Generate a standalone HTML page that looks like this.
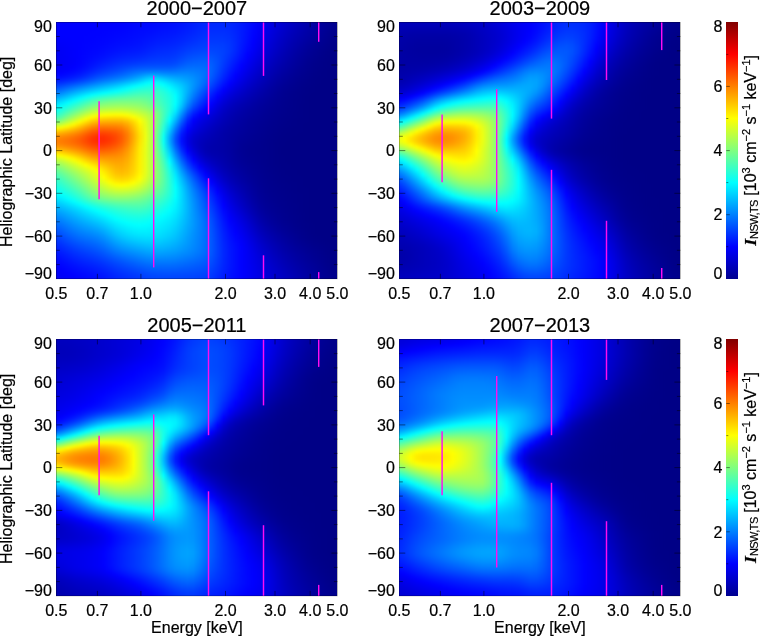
<!DOCTYPE html>
<html><head><meta charset="utf-8"><title>Heliographic latitude vs energy</title>
<style>
html,body{margin:0;padding:0;background:#fff}
body{width:760px;height:637px;position:relative;overflow:hidden;font-family:"Liberation Sans",Arial,Helvetica,sans-serif;font-size:16px;color:#000}
.p{position:absolute;width:281.1px;height:256.5px;overflow:hidden;background:#00008f}
.q{position:absolute;left:0;top:-6.0117px;width:100%;filter:url(#vb)}
.q i{display:block;width:100%;height:2.0039px}
.t{position:absolute;white-space:nowrap;line-height:16px}
.ti{position:absolute;font-size:20px;line-height:20px;white-space:nowrap;transform:translateX(-50%)}
svg{position:absolute;left:0;top:0}
text{font-family:"Liberation Sans",Arial,Helvetica,sans-serif;font-size:16px;fill:#000;stroke:#000;stroke-width:.2px}
</style></head><body>
<div class="p" style="left:56.3px;top:22.3px"><div class="q"><i style="background:linear-gradient(90deg,#00f,#00f,#00f,#00f,#00f,#00f,#00f,#00f,#00f,#00f,#00f,#0001ff,#0003ff,#0005ff,#0007ff,#0007ff,#0008ff,#000aff,#000cff,#000eff,#0010ff,#0014ff,#0019ff,#001eff,#0023ff,#0026ff,#0028ff,#0028ff,#0028ff,#0026ff,#0021ff,#001aff,#01f,#0006ff,#0000f9,#00e,#0000e3,#0000d9,#0000cf,#0000c6,#0000bd,#0000b5,#0000ad,#0000a5,#00009e,#000097,#000091,#00008d)"></i><i style="background:linear-gradient(90deg,#00f,#00f,#00f,#00f,#00f,#00f,#00f,#00f,#00f,#00f,#00f,#0001ff,#0003ff,#0005ff,#0007ff,#0007ff,#0008ff,#000aff,#000cff,#000eff,#0010ff,#0014ff,#0019ff,#001eff,#0023ff,#0026ff,#0028ff,#0028ff,#0028ff,#0026ff,#0021ff,#001aff,#01f,#0006ff,#0000f9,#00e,#0000e3,#0000d9,#0000cf,#0000c6,#0000bd,#0000b5,#0000ad,#0000a5,#00009e,#000097,#000091,#00008d)"></i><i style="background:linear-gradient(90deg,#00f,#00f,#00f,#00f,#00f,#00f,#00f,#00f,#00f,#00f,#00f,#0001ff,#0003ff,#0005ff,#0007ff,#0007ff,#0008ff,#000aff,#000cff,#000eff,#0010ff,#0014ff,#0019ff,#001eff,#0023ff,#0026ff,#0028ff,#0028ff,#0028ff,#0026ff,#0021ff,#001aff,#01f,#0006ff,#0000f9,#00e,#0000e3,#0000d9,#0000cf,#0000c6,#0000bd,#0000b5,#0000ad,#0000a5,#00009e,#000097,#000091,#00008d)"></i><i style="background:linear-gradient(90deg,#00f,#00f,#00f,#00f,#00f,#00f,#00f,#00f,#00f,#00f,#00f,#0001ff,#0003ff,#0005ff,#0007ff,#0007ff,#0008ff,#000aff,#000cff,#000eff,#0010ff,#0014ff,#0019ff,#001eff,#0023ff,#0026ff,#0028ff,#0028ff,#0028ff,#0026ff,#0021ff,#001aff,#01f,#0006ff,#0000f9,#00e,#0000e3,#0000d9,#0000cf,#0000c6,#0000bd,#0000b5,#0000ad,#0000a5,#00009e,#000097,#000091,#00008d)"></i><i style="background:linear-gradient(90deg,#00f,#00f,#00f,#00f,#00f,#00f,#00f,#00f,#00f,#00f,#0001ff,#0002ff,#0003ff,#0005ff,#0007ff,#0008ff,#0009ff,#000bff,#000dff,#000fff,#01f,#0015ff,#001aff,#001fff,#0024ff,#0027ff,#0029ff,#0029ff,#0029ff,#0027ff,#02f,#001aff,#01f,#0006ff,#0000f9,#0000ed,#0000e3,#0000d8,#0000ce,#0000c5,#0000bc,#0000b4,#0000ac,#0000a4,#00009d,#000097,#000091,#00008d)"></i><i style="background:linear-gradient(90deg,#00f,#00f,#00f,#00f,#00f,#00f,#00f,#00f,#0001ff,#0001ff,#0001ff,#0002ff,#0004ff,#0006ff,#0008ff,#0009ff,#000aff,#000cff,#000eff,#0010ff,#0013ff,#0017ff,#001bff,#0020ff,#0025ff,#0029ff,#002aff,#002bff,#002aff,#0028ff,#02f,#001aff,#01f,#0005ff,#0000f8,#0000ed,#0000e2,#0000d7,#0000cd,#0000c3,#00b,#0000b2,#0000ab,#0000a4,#00009d,#000096,#000091,#00008c)"></i><i style="background:linear-gradient(90deg,#00f,#00f,#00f,#00f,#00f,#00f,#00f,#00f,#0001ff,#0001ff,#0002ff,#0003ff,#0005ff,#0007ff,#0009ff,#000aff,#000cff,#000eff,#0010ff,#0012ff,#0015ff,#0019ff,#001dff,#02f,#0027ff,#002aff,#002cff,#002cff,#002cff,#0029ff,#0023ff,#001bff,#01f,#0005ff,#0000f8,#0000ec,#0000e0,#0000d5,#0000cb,#0000c2,#0000b9,#0000b1,#00a,#0000a3,#00009c,#000096,#000090,#00008c)"></i><i style="background:linear-gradient(90deg,#00f,#00f,#00f,#00f,#00f,#00f,#00f,#0001ff,#0001ff,#0002ff,#0003ff,#0004ff,#0006ff,#0008ff,#000aff,#000bff,#000dff,#0010ff,#0012ff,#0014ff,#0016ff,#001aff,#001fff,#0024ff,#0029ff,#002cff,#002eff,#002eff,#002eff,#002bff,#0024ff,#001bff,#0010ff,#0004ff,#0000f7,#0000eb,#0000df,#0000d4,#0000c9,#0000c0,#0000b7,#0000b0,#0000a8,#0000a1,#00009b,#000095,#00008f,#00008b)"></i><i style="background:linear-gradient(90deg,#00f,#00f,#00f,#00f,#00f,#00f,#0001ff,#0001ff,#0002ff,#0003ff,#0004ff,#0005ff,#0007ff,#0009ff,#000bff,#000dff,#000fff,#0012ff,#0014ff,#0016ff,#0018ff,#001cff,#0021ff,#0026ff,#002bff,#002eff,#0030ff,#0030ff,#0030ff,#002cff,#0025ff,#001bff,#0010ff,#0004ff,#0000f6,#0000ea,#0000de,#0000d2,#0000c7,#0000be,#0000b6,#0000ae,#0000a7,#0000a0,#00009a,#000094,#00008e,#00008b)"></i><i style="background:linear-gradient(90deg,#00f,#00f,#00f,#00f,#00f,#00f,#0001ff,#0001ff,#0002ff,#0003ff,#0005ff,#0006ff,#0008ff,#000aff,#000cff,#000eff,#01f,#0014ff,#0016ff,#0018ff,#001aff,#001fff,#0023ff,#0028ff,#002dff,#0030ff,#0032ff,#0032ff,#0031ff,#002eff,#0026ff,#001bff,#000fff,#0003ff,#0000f5,#0000e8,#0000dc,#0000d0,#0000c6,#0000bc,#0000b4,#0000ad,#0000a6,#00009f,#009,#000093,#00008e,#00008a)"></i><i style="background:linear-gradient(90deg,#0000fe,#0000fe,#00f,#00f,#00f,#0001ff,#0001ff,#0002ff,#0003ff,#0004ff,#0006ff,#0007ff,#0009ff,#000bff,#000dff,#0010ff,#0013ff,#0016ff,#0018ff,#001aff,#001dff,#0021ff,#0026ff,#002bff,#002fff,#03f,#0034ff,#0034ff,#03f,#002fff,#0027ff,#001bff,#000fff,#0002ff,#0000f4,#0000e7,#0000db,#0000cf,#0000c4,#00b,#0000b2,#0000ab,#0000a4,#00009e,#000098,#000092,#00008d,#000089)"></i><i style="background:linear-gradient(90deg,#0000fd,#0000fd,#0000fe,#00f,#00f,#0001ff,#0001ff,#0002ff,#0004ff,#0005ff,#0007ff,#0009ff,#000aff,#000cff,#000fff,#0012ff,#0015ff,#0018ff,#001aff,#001cff,#001fff,#0023ff,#0028ff,#002dff,#0032ff,#0035ff,#0036ff,#0036ff,#0035ff,#0031ff,#0027ff,#001bff,#000eff,#0001ff,#0000f2,#0000e5,#0000d9,#0000cd,#0000c2,#0000b9,#0000b1,#0000a9,#0000a3,#00009c,#000096,#000091,#00008c,#000089)"></i><i style="background:linear-gradient(90deg,#0000fb,#0000fc,#0000fd,#0000fe,#00f,#0001ff,#0002ff,#0003ff,#0004ff,#0006ff,#0008ff,#000aff,#000cff,#000eff,#0010ff,#0014ff,#0017ff,#001bff,#001dff,#001fff,#02f,#0026ff,#002bff,#0030ff,#0035ff,#0038ff,#0038ff,#0038ff,#0037ff,#03f,#0028ff,#001bff,#000dff,#0000fe,#0000f1,#0000e4,#0000d7,#0000cb,#0000c0,#0000b7,#0000af,#0000a8,#0000a1,#00009b,#000095,#000090,#00008b,#008)"></i><i style="background:linear-gradient(90deg,#0000fa,#0000fb,#0000fc,#0000fe,#00f,#0001ff,#0002ff,#0004ff,#0005ff,#0007ff,#000aff,#000cff,#000dff,#000fff,#0012ff,#0016ff,#001aff,#001dff,#001fff,#0021ff,#0024ff,#0029ff,#002fff,#03f,#0038ff,#003aff,#003bff,#003bff,#003aff,#0034ff,#0028ff,#001aff,#000cff,#0000fd,#0000ef,#0000e2,#0000d5,#0000c9,#0000bf,#0000b5,#0000ad,#0000a6,#00009f,#009,#000094,#00008f,#00008b,#008)"></i><i style="background:linear-gradient(90deg,#0000f8,#0000f9,#0000fc,#0000fe,#00f,#0002ff,#0003ff,#0004ff,#0006ff,#0009ff,#000bff,#000dff,#000fff,#01f,#0014ff,#0018ff,#001cff,#0020ff,#02f,#0024ff,#0027ff,#002cff,#0032ff,#0037ff,#003bff,#003dff,#003eff,#003dff,#003cff,#0035ff,#0029ff,#0019ff,#000bff,#0000fb,#0000ed,#0000e0,#0000d3,#0000c7,#0000bd,#0000b3,#0000ab,#0000a4,#00009d,#000097,#000092,#00008e,#00008a,#000087)"></i><i style="background:linear-gradient(90deg,#0000f6,#0000f8,#0000fb,#0000fd,#00f,#0002ff,#0003ff,#0005ff,#0007ff,#000aff,#000dff,#0010ff,#01f,#0013ff,#0016ff,#001aff,#001fff,#0023ff,#0025ff,#0027ff,#002aff,#0030ff,#0036ff,#003bff,#003eff,#0040ff,#0041ff,#0040ff,#003dff,#0036ff,#0028ff,#0018ff,#0009ff,#0000fa,#0000ec,#0000de,#0000d2,#0000c6,#00b,#0000b2,#00a,#0000a2,#00009b,#000096,#000091,#00008d,#000089,#000087)"></i><i style="background:linear-gradient(90deg,#0000f5,#0000f7,#0000fa,#0000fd,#00f,#0002ff,#0004ff,#0006ff,#0009ff,#000cff,#000fff,#0012ff,#0014ff,#0016ff,#0018ff,#001dff,#02f,#0026ff,#0028ff,#002aff,#002dff,#03f,#003aff,#003fff,#0042ff,#0043ff,#0043ff,#0042ff,#003fff,#0036ff,#0028ff,#0017ff,#0007ff,#0000f8,#0000e9,#0000dc,#0000cf,#0000c4,#0000b9,#0000b0,#0000a8,#0000a0,#00009a,#000094,#000090,#00008c,#000089,#000087)"></i><i style="background:linear-gradient(90deg,#0000f4,#0000f7,#0000fa,#0000fd,#0001ff,#0003ff,#0005ff,#0007ff,#000aff,#000eff,#01f,#0014ff,#0017ff,#0018ff,#001bff,#0020ff,#0025ff,#0029ff,#002bff,#002dff,#0031ff,#0037ff,#003eff,#0043ff,#0046ff,#0047ff,#0047ff,#04f,#003fff,#0036ff,#0027ff,#0015ff,#0006ff,#0000f6,#0000e7,#0000da,#0000cd,#0000c2,#0000b7,#0000ae,#0000a6,#00009f,#000098,#000093,#00008e,#00008b,#008,#000086)"></i><i style="background:linear-gradient(90deg,#0000f3,#0000f6,#0000fa,#0000fd,#0001ff,#0003ff,#0006ff,#0008ff,#000cff,#0010ff,#0014ff,#0018ff,#001aff,#001cff,#001fff,#0023ff,#0029ff,#002cff,#002eff,#0030ff,#0034ff,#003bff,#0042ff,#0047ff,#004aff,#004bff,#004aff,#0046ff,#0040ff,#0035ff,#0025ff,#0014ff,#0003ff,#0000f3,#0000e5,#0000d8,#0000cb,#0000c0,#0000b5,#0000ac,#0000a4,#00009d,#000097,#000092,#00008e,#00008a,#008,#000086)"></i><i style="background:linear-gradient(90deg,#0000f3,#0000f6,#0000f9,#0000fd,#0001ff,#0004ff,#0007ff,#000aff,#000eff,#0013ff,#0018ff,#001bff,#001eff,#0020ff,#0023ff,#0027ff,#002cff,#0030ff,#0031ff,#03f,#0037ff,#003fff,#0047ff,#004cff,#004fff,#0050ff,#004eff,#0048ff,#003fff,#03f,#0023ff,#01f,#0001ff,#0000f1,#0000e2,#0000d5,#0000c9,#0000bd,#0000b3,#0000ab,#0000a3,#00009c,#000096,#000091,#00008d,#00008a,#000087,#000086)"></i><i style="background:linear-gradient(90deg,#0000f3,#0000f6,#0000f9,#0000fc,#0001ff,#0005ff,#0008ff,#000cff,#01f,#0016ff,#001bff,#001fff,#02f,#0024ff,#0027ff,#002cff,#0031ff,#03f,#0035ff,#0036ff,#003bff,#0043ff,#004cff,#0051ff,#0054ff,#05f,#0052ff,#004aff,#003fff,#0031ff,#0020ff,#000fff,#0000fd,#00e,#0000e0,#0000d3,#0000c6,#00b,#0000b1,#0000a9,#0000a1,#00009a,#000094,#000090,#00008c,#000089,#000087,#000086)"></i><i style="background:linear-gradient(90deg,#0000f3,#0000f5,#0000f9,#0000fc,#0001ff,#0005ff,#000aff,#000fff,#0014ff,#001aff,#0020ff,#0024ff,#0027ff,#002aff,#002dff,#0031ff,#0035ff,#0038ff,#0039ff,#003aff,#003fff,#0048ff,#0051ff,#0056ff,#0059ff,#0059ff,#0056ff,#004cff,#003eff,#002eff,#001dff,#000cff,#0000fa,#0000eb,#00d,#0000d0,#0000c4,#0000b9,#0000b0,#0000a7,#0000a0,#009,#000093,#00008f,#00008b,#000089,#000087,#000086)"></i><i style="background:linear-gradient(90deg,#0000f3,#0000f5,#0000f8,#0000fc,#0002ff,#0007ff,#000cff,#0012ff,#0018ff,#001fff,#0024ff,#0029ff,#002dff,#0030ff,#03f,#0037ff,#003bff,#003cff,#003dff,#003fff,#04f,#004eff,#0057ff,#005cff,#005eff,#005eff,#0059ff,#004dff,#003dff,#002bff,#001aff,#0009ff,#0000f7,#0000e8,#0000da,#0000cd,#0000c1,#0000b7,#0000ae,#0000a6,#00009e,#000098,#000092,#00008e,#00008b,#008,#000087,#000086)"></i><i style="background:linear-gradient(90deg,#0000f3,#0000f5,#0000f8,#0000fc,#0002ff,#0008ff,#000fff,#0016ff,#001dff,#0023ff,#002aff,#002fff,#03f,#0037ff,#003bff,#003eff,#0041ff,#0042ff,#0043ff,#04f,#0049ff,#0054ff,#005dff,#0061ff,#0063ff,#0062ff,#005cff,#004eff,#003bff,#0029ff,#0017ff,#0005ff,#0000f4,#0000e5,#0000d7,#0000ca,#0000bf,#0000b5,#0000ac,#0000a4,#00009d,#000097,#000091,#00008d,#00008a,#008,#000087,#000086)"></i><i style="background:linear-gradient(90deg,#0000f4,#0000f6,#0000f9,#0000fd,#0003ff,#000aff,#0012ff,#001aff,#02f,#0029ff,#0030ff,#0036ff,#003bff,#0040ff,#04f,#0047ff,#0049ff,#004aff,#004aff,#004bff,#0051ff,#005bff,#0064ff,#0067ff,#0067ff,#0065ff,#005eff,#004eff,#0039ff,#0026ff,#0013ff,#0002ff,#0000f1,#0000e2,#0000d4,#0000c8,#0000bd,#0000b2,#00a,#0000a2,#00009c,#000096,#000090,#00008c,#00008a,#008,#000087,#000086)"></i><i style="background:linear-gradient(90deg,#0000f5,#0000f7,#0000fa,#00f,#0005ff,#000dff,#0016ff,#001fff,#0027ff,#002fff,#0037ff,#003eff,#04f,#004bff,#004fff,#0052ff,#0053ff,#0054ff,#0054ff,#05f,#005aff,#0064ff,#006bff,#006dff,#006cff,#0069ff,#0060ff,#004dff,#0037ff,#0023ff,#0010ff,#0000fe,#00e,#0000df,#0000d1,#0000c5,#0000ba,#0000b0,#0000a8,#0000a1,#00009a,#000094,#00008f,#00008c,#000089,#008,#000087,#000086)"></i><i style="background:linear-gradient(90deg,#0000f7,#0000f9,#0000fc,#0002ff,#0009ff,#01f,#001bff,#0026ff,#002eff,#0037ff,#003eff,#0046ff,#004fff,#0057ff,#005cff,#005fff,#0061ff,#0061ff,#0061ff,#0061ff,#06f,#006eff,#0073ff,#0074ff,#0071ff,#006cff,#0060ff,#004cff,#0034ff,#001fff,#000dff,#0000fb,#0000eb,#0000dc,#0000ce,#0000c2,#0000b8,#0000ae,#0000a6,#00009f,#009,#000093,#00008f,#00008b,#000089,#000087,#000086,#000086)"></i><i style="background:linear-gradient(90deg,#0000fa,#0000fc,#0001ff,#0006ff,#000dff,#0017ff,#02f,#002dff,#0037ff,#003fff,#0047ff,#0050ff,#005aff,#0064ff,#006cff,#0070ff,#0073ff,#0073ff,#0071ff,#0070ff,#0073ff,#0079ff,#007cff,#007aff,#0076ff,#006eff,#0060ff,#004aff,#0031ff,#001cff,#0009ff,#0000f7,#0000e7,#0000d9,#00c,#0000c0,#0000b5,#0000ac,#0000a4,#00009d,#000097,#000092,#00008e,#00008b,#008,#000087,#000086,#000086)"></i><i style="background:linear-gradient(90deg,#0000fe,#0001ff,#0006ff,#000cff,#0013ff,#001eff,#002aff,#0036ff,#0040ff,#0049ff,#0052ff,#005bff,#0067ff,#0072ff,#007cff,#0085ff,#008aff,#0089ff,#0084ff,#0081ff,#0081ff,#0084ff,#0084ff,#0081ff,#007aff,#006fff,#005fff,#0047ff,#002eff,#0018ff,#0005ff,#0000f3,#0000e4,#0000d6,#0000c9,#0000bd,#0000b3,#00a,#0000a2,#00009c,#000096,#000091,#00008d,#00008a,#008,#000087,#000086,#000086)"></i><i style="background:linear-gradient(90deg,#0004ff,#0006ff,#000cff,#0012ff,#001bff,#0026ff,#0034ff,#0041ff,#004bff,#0054ff,#005eff,#0068ff,#0074ff,#0081ff,#008eff,#009cff,#00a6ff,#00a3ff,#009aff,#0093ff,#0090ff,#0090ff,#008dff,#0086ff,#007dff,#006fff,#005dff,#04f,#002aff,#0014ff,#0001ff,#0000f0,#0000e0,#0000d2,#0000c6,#00b,#0000b1,#0000a7,#0000a0,#00009a,#000095,#000090,#00008c,#000089,#008,#000087,#000086,#000086)"></i><i style="background:linear-gradient(90deg,#000aff,#000dff,#0013ff,#001bff,#0024ff,#0031ff,#003fff,#004dff,#0058ff,#0062ff,#006cff,#07f,#0083ff,#0091ff,#00a1ff,#00b4ff,#00c2ff,#00bfff,#00b2ff,#00a7ff,#00a0ff,#009bff,#0095ff,#008cff,#007fff,#006fff,#005aff,#0040ff,#0026ff,#0010ff,#0000fc,#0000ec,#00d,#0000cf,#0000c3,#0000b8,#0000ae,#0000a5,#00009e,#000098,#000093,#00008f,#00008c,#000089,#000087,#000087,#000086,#000086)"></i><i style="background:linear-gradient(90deg,#0012ff,#0017ff,#001eff,#0026ff,#0031ff,#003eff,#004dff,#005bff,#0067ff,#0072ff,#007dff,#08f,#0096ff,#00a5ff,#00b6ff,#00cbff,#00dbff,#00d9ff,#00caff,#00baff,#00afff,#00a6ff,#009cff,#0090ff,#0080ff,#006dff,#0056ff,#003bff,#0021ff,#000bff,#0000f8,#0000e8,#0000d9,#00c,#0000c0,#0000b5,#0000ac,#0000a3,#00009c,#000097,#000092,#00008e,#00008b,#008,#000087,#000086,#000086,#000086)"></i><i style="background:linear-gradient(90deg,#001eff,#0023ff,#002bff,#0035ff,#0041ff,#004fff,#005eff,#006dff,#007aff,#0085ff,#0091ff,#009dff,#00acff,#0bf,#00cdff,#00e2ff,#00f0ff,#0ef,#00dfff,#00cdff,#00bdff,#00b1ff,#00a3ff,#0093ff,#007fff,#006aff,#0052ff,#0036ff,#001cff,#0006ff,#0000f3,#0000e3,#0000d5,#0000c8,#0000bd,#0000b3,#0000a9,#0000a1,#00009a,#000095,#000091,#00008d,#00008a,#008,#000087,#000086,#000086,#000086)"></i><i style="background:linear-gradient(90deg,#002bff,#0032ff,#003dff,#0048ff,#05f,#0063ff,#0072ff,#0081ff,#008fff,#009bff,#00a7ff,#00b5ff,#00c4ff,#00d4ff,#00e4ff,#00f6ff,#03fffc,#01fffe,#00f1ff,#0df,#00cbff,#0bf,#00a9ff,#0094ff,#007eff,#06f,#004cff,#0030ff,#0016ff,#0001ff,#00e,#0000df,#0000d1,#0000c5,#0000ba,#0000b0,#0000a7,#00009f,#009,#000094,#000090,#00008c,#00008a,#008,#000087,#000086,#000086,#000086)"></i><i style="background:linear-gradient(90deg,#003bff,#04f,#0050ff,#005dff,#006aff,#0079ff,#08f,#0097ff,#00a5ff,#00b1ff,#00beff,#0cf,#00dcff,#00ecff,#00faff,#09fff6,#12ffed,#0ffff0,#01fffe,#00ebff,#00d7ff,#00c4ff,#00adff,#0094ff,#007bff,#0061ff,#0045ff,#0029ff,#0010ff,#0000fa,#0000e9,#0000da,#0000cd,#0000c1,#0000b7,#0000ad,#0000a5,#00009d,#000097,#000092,#00008f,#00008b,#000089,#000087,#000086,#000086,#000086,#000086)"></i><i style="background:linear-gradient(90deg,#004aff,#05f,#0063ff,#0072ff,#0081ff,#0090ff,#009fff,#00adff,#0bf,#00c7ff,#00d4ff,#00e2ff,#00f2ff,#02fffd,#0ffff0,#19ffe6,#1effe1,#1bffe4,#0dfff2,#00f7ff,#00e1ff,#00cbff,#00b0ff,#0092ff,#0076ff,#005aff,#003eff,#02f,#0009ff,#0000f4,#0000e3,#0000d6,#0000c9,#0000be,#0000b4,#0000ab,#0000a2,#00009b,#000095,#000091,#00008e,#00008b,#008,#000087,#000086,#000086,#000086,#000086)"></i><i style="background:linear-gradient(90deg,#005aff,#0067ff,#07f,#0087ff,#0097ff,#00a6ff,#00b5ff,#00c3ff,#00d0ff,#0df,#00e9ff,#00f6ff,#06fff9,#15ffea,#20ffdf,#27ffd8,#2affd5,#25ffda,#17ffe8,#03fffc,#00ebff,#00d0ff,#00b0ff,#008fff,#0070ff,#0053ff,#0036ff,#001aff,#0002ff,#00e,#0000de,#0000d1,#0000c5,#0000ba,#0000b1,#0000a8,#0000a0,#009,#000094,#000090,#00008d,#00008a,#008,#000087,#000086,#000086,#000086,#000086)"></i><i style="background:linear-gradient(90deg,#006aff,#0078ff,#008aff,#009cff,#00adff,#00bdff,#0cf,#00daff,#00e6ff,#00f2ff,#00fdff,#0bfff4,#18ffe7,#26ffd9,#2fffd0,#34ffcb,#34ffcb,#2effd1,#20ffdf,#0cfff3,#00f2ff,#00d3ff,#00afff,#008aff,#0069ff,#004aff,#002eff,#0012ff,#0000fa,#0000e8,#0000d9,#00c,#0000c1,#0000b7,#0000ae,#0000a6,#00009e,#000098,#000092,#00008f,#00008c,#00008a,#008,#000087,#000086,#000086,#000086,#000086)"></i><i style="background:linear-gradient(90deg,#007bff,#008bff,#009eff,#00b1ff,#00c3ff,#00d4ff,#00e4ff,#00f2ff,#00feff,#0afff5,#14ffeb,#1fffe0,#2bffd4,#36ffc9,#3dffc2,#40ffbf,#3effc1,#35ffca,#27ffd8,#13ffec,#00f8ff,#00d5ff,#00acff,#0084ff,#0061ff,#0042ff,#0025ff,#000bff,#0000f4,#0000e2,#0000d4,#0000c8,#0000bd,#0000b4,#0000ab,#0000a4,#00009d,#000096,#000091,#00008e,#00008b,#000089,#008,#000086,#000086,#000086,#000086,#000086)"></i><i style="background:linear-gradient(90deg,#008eff,#009eff,#00b2ff,#00c6ff,#00d9ff,#00ecff,#00fdff,#0dfff2,#19ffe6,#23ffdc,#2cffd3,#35ffca,#3effc1,#47ffb8,#4cffb3,#4cffb3,#46ffb9,#3bffc4,#2bffd4,#18ffe7,#00fdff,#00d6ff,#00a8ff,#007eff,#005aff,#003aff,#001eff,#0004ff,#0000ed,#0000dc,#0000cf,#0000c4,#0000ba,#0000b1,#0000a9,#0000a2,#00009b,#000095,#000091,#00008d,#00008b,#000089,#000087,#000086,#000086,#000086,#000086,#000086)"></i><i style="background:linear-gradient(90deg,#00a3ff,#00b2ff,#00c6ff,#00dbff,#00efff,#05fffa,#18ffe7,#28ffd7,#34ffcb,#3dffc2,#45ffba,#4cffb3,#52ffad,#58ffa7,#5affa5,#57ffa8,#4fffb0,#41ffbe,#2fffd0,#1cffe3,#0ff,#00d6ff,#00a4ff,#07f,#0052ff,#03f,#0016ff,#0000fc,#0000e7,#0000d7,#0000ca,#0000c0,#0000b6,#0000ae,#0000a6,#0000a0,#00009a,#000094,#000090,#00008d,#00008b,#000089,#000087,#000086,#000086,#000086,#000086,#000086)"></i><i style="background:linear-gradient(90deg,#00b6ff,#00c6ff,#00daff,#00efff,#05fffa,#1cffe3,#31ffce,#42ffbd,#4dffb2,#56ffa9,#5dffa2,#61ff9e,#65ff9a,#68ff97,#68ff97,#63ff9c,#57ffa8,#46ffb9,#32ffcd,#1effe1,#02fffd,#00d4ff,#009eff,#006fff,#004aff,#002bff,#000fff,#0000f6,#0000e1,#0000d2,#0000c6,#0000bc,#0000b3,#0000ab,#0000a4,#00009e,#000098,#000093,#00008f,#00008d,#00008a,#000089,#000087,#000086,#000086,#000086,#000086,#000086)"></i><i style="background:linear-gradient(90deg,#00c9ff,#00d9ff,#00edff,#03fffc,#1affe5,#31ffce,#48ffb7,#59ffa6,#64ff9b,#6cff93,#71ff8e,#75ff8a,#76ff89,#76ff89,#75ff8a,#6dff92,#5fffa0,#4bffb4,#35ffca,#20ffdf,#02fffd,#00d1ff,#0098ff,#06f,#0042ff,#0024ff,#0009ff,#0000ef,#0000db,#00c,#0000c1,#0000b8,#0000b0,#0000a8,#0000a2,#00009c,#000097,#000092,#00008f,#00008c,#00008a,#000089,#000087,#000086,#000086,#000086,#000086,#000086)"></i><i style="background:linear-gradient(90deg,#00daff,#00eaff,#0ff,#16ffe9,#2dffd2,#45ffba,#5dffa2,#6eff91,#78ff87,#7fff80,#83ff7c,#85ff7a,#85ff7a,#84ff7b,#80ff7f,#7f8,#67ff98,#50ffaf,#38ffc7,#21ffde,#01fffe,#0cf,#0090ff,#005dff,#0039ff,#001cff,#0002ff,#0000e9,#0000d6,#0000c8,#0000bd,#0000b4,#0000ad,#0000a6,#0000a0,#00009b,#000096,#000092,#00008e,#00008c,#00008a,#008,#000087,#000086,#000086,#000086,#000086,#000086)"></i><i style="background:linear-gradient(90deg,#00e8ff,#00f9ff,#1fe,#28ffd7,#3fffc0,#59ffa6,#70ff8f,#81ff7e,#8aff75,#90ff6f,#94ff6b,#95ff6a,#94ff6b,#91ff6e,#8cff73,#81ff7e,#6fff90,#56ffa9,#3cffc3,#2fd,#00fdff,#00c6ff,#0086ff,#0053ff,#0030ff,#0014ff,#0000fa,#0000e3,#0000d1,#0000c3,#0000b9,#0000b1,#00a,#0000a4,#00009e,#009,#000095,#000091,#00008e,#00008c,#00008a,#008,#000087,#000086,#000086,#000086,#000086,#000086)"></i><i style="background:linear-gradient(90deg,#00f6ff,#09fff6,#21ffde,#3affc5,#52ffad,#6dff92,#85ff7a,#95ff6a,#9eff61,#a3ff5c,#a6ff59,#a7ff58,#a4ff5b,#a0ff5f,#98ff67,#8cff73,#79ff86,#5effa1,#40ffbf,#2fd,#00f8ff,#00bdff,#007bff,#0048ff,#0026ff,#000cff,#0000f4,#0000de,#00c,#0000c0,#0000b6,#0000ae,#0000a8,#0000a2,#00009c,#000098,#000094,#000090,#00008e,#00008b,#00008a,#008,#000087,#000086,#000086,#000086,#000086,#000086)"></i><i style="background:linear-gradient(90deg,#03fffc,#18ffe7,#32ffcd,#4cffb3,#67ff98,#82ff7d,#9aff65,#abff54,#b3ff4c,#b8ff47,#baff45,#bf4,#b7ff48,#b0ff4f,#a6ff59,#9f6,#85ff7a,#6f9,#43ffbc,#21ffde,#00f2ff,#00b2ff,#006eff,#003cff,#001cff,#0004ff,#0000ed,#0000d9,#0000c8,#0000bc,#0000b3,#0000ac,#0000a5,#0000a0,#00009b,#000097,#000093,#000090,#00008d,#00008b,#00008a,#008,#000087,#000086,#000086,#000086,#000086,#000086)"></i><i style="background:linear-gradient(90deg,#10ffef,#27ffd8,#43ffbc,#60ff9f,#7cff83,#98ff67,#b2ff4d,#c2ff3d,#cbff34,#cfff30,#d2ff2d,#d1ff2e,#cf3,#c1ff3e,#b5ff4a,#a6ff59,#91ff6e,#6fff90,#46ffb9,#1effe1,#00eaff,#00a5ff,#0060ff,#002fff,#0012ff,#0000fb,#0000e7,#0000d4,#0000c5,#0000b9,#0000b1,#0000a9,#0000a3,#00009e,#00009a,#000096,#000092,#00008f,#00008d,#00008b,#000089,#008,#000087,#000086,#000086,#000086,#000086,#000086)"></i><i style="background:linear-gradient(90deg,#1dffe2,#36ffc9,#56ffa9,#74ff8b,#92ff6d,#b0ff4f,#caff35,#dbff24,#e4ff1b,#e8ff17,#eaff15,#e9ff16,#e2ff1d,#d5ff2a,#c5ff3a,#b4ff4b,#9cff63,#76ff89,#47ffb8,#19ffe6,#00e0ff,#0098ff,#0052ff,#0023ff,#0008ff,#0000f3,#0000e1,#0000d0,#0000c1,#0000b7,#0000ae,#0000a7,#0000a2,#00009d,#009,#000095,#000092,#00008f,#00008c,#00008b,#000089,#008,#000087,#000086,#000086,#000086,#000086,#000086)"></i><i style="background:linear-gradient(90deg,#2dffd2,#48ffb7,#6aff95,#8aff75,#af5,#c9ff36,#e3ff1c,#f5ff0a,#fdff02,#fffd00,#fffa00,#fffc00,#f9ff06,#e9ff16,#d6ff29,#c1ff3e,#a5ff5a,#7aff85,#47ffb8,#13ffec,#00d5ff,#008aff,#0045ff,#0017ff,#0000fe,#0000ec,#0000db,#00c,#0000be,#0000b4,#0000ac,#0000a6,#0000a0,#00009c,#000098,#000094,#000091,#00008e,#00008c,#00008a,#000089,#008,#000087,#000086,#000086,#000086,#000086,#000086)"></i><i style="background:linear-gradient(90deg,#3fffc0,#5cffa3,#80ff7f,#a2ff5d,#c2ff3d,#e2ff1d,#fdff02,#fff000,#ffe800,#ffe400,#ffe200,#ffe400,#fe0,#fdff02,#e6ff19,#cf3,#abff54,#7cff83,#45ffba,#0cfff3,#00c9ff,#007dff,#0038ff,#000dff,#0000f5,#0000e5,#0000d6,#0000c8,#0000bc,#0000b2,#00a,#0000a4,#00009f,#00009a,#000097,#000093,#000090,#00008e,#00008b,#00008a,#000089,#008,#000087,#000086,#000086,#000086,#000086,#000086)"></i><i style="background:linear-gradient(90deg,#56ffa9,#73ff8c,#98ff67,#baff45,#dbff24,#fbff04,#ffe800,#ffd700,#ffd000,#fc0,#ffcb00,#ffcd00,#ffd900,#fe0,#f5ff0a,#d6ff29,#aeff51,#7bff84,#41ffbe,#04fffb,#00bdff,#006fff,#002cff,#0003ff,#00e,#0000df,#0000d1,#0000c4,#0000b9,#0000b0,#0000a8,#0000a2,#00009d,#009,#000096,#000093,#000090,#00008d,#00008b,#00008a,#008,#000087,#000087,#000086,#000086,#000086,#000086,#000086)"></i><i style="background:linear-gradient(90deg,#72ff8d,#8fff70,#b2ff4d,#d4ff2b,#f4ff0b,#ffea00,#ffcf00,#ffbf00,#ffb800,#ffb600,#ffb500,#ffb800,#ffc600,#ffdf00,#fffe00,#dcff23,#b0ff4f,#7aff85,#3cffc3,#00faff,#00b0ff,#0062ff,#0021ff,#0000fb,#0000e7,#0000da,#0000cd,#0000c1,#0000b6,#0000ae,#0000a7,#0000a1,#00009c,#000098,#000095,#000092,#00008f,#00008d,#00008b,#000089,#008,#000087,#000087,#000086,#000086,#000086,#000086,#000086)"></i><i style="background:linear-gradient(90deg,#94ff6b,#afff50,#cfff30,#efff10,#fff000,#ffd200,#ffb700,#ffa700,#ffa200,#ffa100,#ffa100,#ffa500,#ffb600,#ffd300,#fff700,#e0ff1f,#b1ff4e,#78ff87,#37ffc8,#00f0ff,#00a3ff,#05f,#0018ff,#0000f4,#0000e2,#0000d5,#0000c9,#0000be,#0000b4,#0000ac,#0000a5,#0000a0,#00009b,#000097,#000094,#000091,#00008e,#00008c,#00008a,#000089,#008,#000087,#000086,#000086,#000086,#000086,#000086,#000086)"></i><i style="background:linear-gradient(90deg,#bf4,#d1ff2e,#ef1,#fff400,#ffd700,#ffba00,#ffa000,#ff9100,#ff8d00,#ff8d00,#ff8e00,#ff9500,#ffa800,#ffca00,#fff200,#e2ff1d,#b2ff4d,#76ff89,#31ffce,#00e5ff,#0095ff,#0048ff,#0010ff,#0000ef,#0000de,#0000d1,#0000c5,#0000ba,#0000b1,#00a,#0000a4,#00009f,#00009a,#000097,#000093,#000091,#00008e,#00008c,#00008a,#000089,#008,#000087,#000086,#000086,#000086,#000086,#000086,#000086)"></i><i style="background:linear-gradient(90deg,#e2ff1d,#f5ff0a,#fff100,#ffd900,#ffbf00,#ffa300,#ff8a00,#ff7c00,#ff7900,#ff7a00,#ff7d00,#ff8600,#ff9d00,#ffc200,#ffed00,#e4ff1b,#b2ff4d,#74ff8b,#2bffd4,#00daff,#0087ff,#003cff,#0009ff,#0000eb,#0000da,#0000cd,#0000c1,#0000b7,#0000af,#0000a8,#0000a2,#00009e,#009,#000096,#000093,#000090,#00008d,#00008b,#000089,#008,#000087,#000087,#000086,#000086,#000086,#000086,#000086,#000086)"></i><i style="background:linear-gradient(90deg,#fff600,#ffe700,#ffd400,#ffbf00,#ffa800,#ff8e00,#ff7600,#ff6900,#f60,#ff6900,#ff6e00,#ff7900,#ff9300,#ffbc00,#ffe900,#e6ff19,#b2ff4d,#72ff8d,#25ffda,#00cfff,#007aff,#0031ff,#0002ff,#0000e6,#0000d5,#0000c9,#0000be,#0000b5,#0000ad,#0000a6,#0000a1,#00009d,#009,#000095,#000092,#00008f,#00008d,#00008b,#000089,#008,#000087,#000087,#000086,#000086,#000086,#000086,#000086,#000086)"></i><i style="background:linear-gradient(90deg,#ffd400,#ffc900,#ffb900,#ffa700,#ff9300,#ff7b00,#ff6400,#ff5700,#f50,#ff5900,#ff6000,#ff6e00,#ff8b00,#ffb600,#ffe600,#e8ff17,#b2ff4d,#6fff90,#1effe1,#00c5ff,#006eff,#0028ff,#0000fa,#0000e0,#0000d1,#0000c5,#00b,#0000b2,#0000ab,#0000a5,#0000a0,#00009c,#000098,#000095,#000092,#00008f,#00008c,#00008a,#008,#008,#000087,#000087,#000086,#000086,#000086,#000086,#000086,#000086)"></i><i style="background:linear-gradient(90deg,#ffb700,#ffae00,#ffa100,#ff9200,#ff8000,#ff6900,#ff5300,#ff4700,#ff4600,#ff4b00,#f50,#f60,#ff8400,#ffb100,#ffe200,#eaff15,#b2ff4d,#6cff93,#18ffe7,#0bf,#0064ff,#001fff,#0000f3,#0000db,#00c,#0000c1,#0000b8,#0000b0,#0000a9,#0000a4,#00009f,#00009b,#000097,#000094,#000091,#00008e,#00008c,#00008a,#008,#000087,#000087,#000086,#000086,#000086,#000086,#000086,#000086,#000086)"></i><i style="background:linear-gradient(90deg,#ffa000,#f90,#ff8d00,#ff8000,#ff7000,#ff5a00,#ff4600,#ff3a00,#ff3900,#ff4100,#ff4d00,#ff6000,#ff8000,#ffae00,#ffe000,#ebff14,#b3ff4c,#6aff95,#12ffed,#00b2ff,#005bff,#0018ff,#0000ed,#0000d6,#0000c8,#0000be,#0000b6,#0000af,#0000a8,#0000a3,#00009e,#00009a,#000096,#000093,#000090,#00008e,#00008b,#000089,#008,#000087,#000087,#000086,#000086,#000086,#000086,#000086,#000086,#000086)"></i><i style="background:linear-gradient(90deg,#ff8f00,#f80,#ff7f00,#ff7300,#ff6400,#ff5000,#ff3c00,#ff3000,#ff3100,#ff3a00,#ff4800,#ff5d00,#ff7f00,#ffad00,#ffdf00,#ecff13,#b2ff4d,#69ff96,#0efff1,#00abff,#05f,#0014ff,#0000e9,#0000d2,#0000c5,#00b,#0000b4,#0000ad,#0000a8,#0000a2,#00009d,#009,#000095,#000092,#000090,#00008d,#00008b,#000089,#000087,#000087,#000086,#000086,#000086,#000086,#000086,#000086,#000086,#000086)"></i><i style="background:linear-gradient(90deg,#ff8400,#ff7f00,#ff7600,#ff6b00,#ff5d00,#ff4a00,#ff3700,#ff2c00,#ff2e00,#ff3700,#ff4700,#ff5d00,#ff7f00,#ffae00,#ffe000,#ebff14,#b2ff4d,#68ff97,#0cfff3,#00a8ff,#0051ff,#01f,#0000e6,#0000cf,#0000c2,#0000b9,#0000b2,#0000ac,#0000a7,#0000a2,#00009d,#000098,#000095,#000092,#00008f,#00008d,#00008b,#000089,#000087,#000087,#000086,#000086,#000086,#000086,#000086,#000086,#000086,#000086)"></i><i style="background:linear-gradient(90deg,#ff8000,#ff7b00,#ff7300,#ff6800,#ff5b00,#ff4a00,#ff3800,#ff2e00,#ff2f00,#ff3900,#ff4900,#ff5f00,#ff8200,#ffb000,#ffe200,#eaff15,#b2ff4d,#69ff96,#0dfff2,#00a9ff,#0051ff,#01f,#0000e6,#0000cd,#0000c0,#0000b6,#0000b0,#0000ab,#0000a7,#0000a2,#00009c,#000097,#000094,#000091,#00008f,#00008c,#00008a,#008,#000087,#000086,#000086,#000086,#000086,#000086,#000086,#000086,#000086,#000086)"></i><i style="background:linear-gradient(90deg,#ff8300,#ff7e00,#ff7600,#ff6c00,#ff5f00,#ff4e00,#ff3d00,#ff3400,#ff3500,#ff3f00,#ff4e00,#ff6400,#ff8600,#ffb300,#ffe400,#e9ff16,#b2ff4d,#6aff95,#10ffef,#00acff,#05f,#0014ff,#0000e7,#0000cd,#0000be,#0000b5,#0000af,#00a,#0000a7,#0000a1,#00009b,#000096,#000093,#000090,#00008e,#00008c,#00008a,#008,#000087,#000086,#000086,#000086,#000086,#000086,#000086,#000086,#000086,#000086)"></i><i style="background:linear-gradient(90deg,#ff8d00,#ff8700,#ff7e00,#ff7400,#ff6700,#ff5700,#ff4600,#ff3d00,#ff3f00,#ff4800,#ff5600,#ff6a00,#ff8b00,#ffb700,#ffe600,#e8ff17,#b2ff4d,#6cff93,#15ffea,#00b3ff,#005cff,#0019ff,#0000ea,#0000cf,#0000be,#0000b3,#0000ad,#00a,#0000a6,#0000a1,#00009b,#000095,#000092,#000090,#00008e,#00008c,#00008a,#008,#000087,#000086,#000086,#000086,#000086,#000086,#000086,#000086,#000086,#000086)"></i><i style="background:linear-gradient(90deg,#ff9c00,#ff9600,#ff8c00,#ff8100,#ff7300,#ff6200,#ff5200,#ff4900,#ff4a00,#ff5200,#ff5f00,#ff7200,#ff9100,#fb0,#ffe900,#e7ff18,#b2ff4d,#6eff91,#1affe5,#0bf,#0064ff,#0021ff,#0000f0,#0000d2,#0000bf,#0000b3,#0000ac,#0000a9,#0000a6,#0000a1,#00009b,#000095,#000091,#00008f,#00008e,#00008c,#00008a,#008,#000086,#000086,#000086,#000086,#000086,#000086,#000086,#000086,#000086,#000086)"></i><i style="background:linear-gradient(90deg,#ffb100,#ffa900,#ff9d00,#ff9000,#ff8200,#ff7000,#ff6000,#ff5600,#ff5700,#ff5e00,#ff6900,#ff7b00,#ff9700,#ffbe00,#ffea00,#e6ff19,#b2ff4d,#71ff8e,#20ffdf,#00c4ff,#006eff,#0029ff,#0000f6,#0000d6,#0000c1,#0000b3,#0000ac,#0000a9,#0000a6,#0000a1,#00009a,#000095,#000091,#00008f,#00008d,#00008c,#00008a,#008,#000086,#000086,#000086,#000086,#000086,#000086,#000086,#000086,#000086,#000086)"></i><i style="background:linear-gradient(90deg,#ffc900,#ffbf00,#ffb200,#ffa300,#ff9300,#ff8000,#ff6f00,#ff6500,#ff6500,#ff6a00,#ff7400,#ff8200,#ff9c00,#ffc100,#ffec00,#e5ff1a,#b2ff4d,#74ff8b,#26ffd9,#00cdff,#0078ff,#0032ff,#0000fe,#0000dc,#0000c4,#0000b4,#0000ad,#00a,#0000a6,#0000a1,#00009a,#000094,#000091,#00008f,#00008d,#00008c,#00008a,#008,#000086,#000086,#000086,#000086,#000086,#000086,#000086,#000086,#000086,#000086)"></i><i style="background:linear-gradient(90deg,#ffe300,#ffd800,#ffc800,#ffb800,#ffa600,#ff9200,#ff7f00,#ff7500,#ff7300,#f70,#ff7e00,#ff8a00,#ffa100,#ffc400,#ffec00,#e5ff1a,#b3ff4c,#76ff89,#2dffd2,#00d7ff,#0083ff,#003cff,#0007ff,#0000e2,#0000c8,#0000b7,#0000ae,#0000ab,#0000a7,#0000a2,#00009a,#000095,#000091,#00008f,#00008d,#00008c,#00008a,#008,#000086,#000086,#000086,#000086,#000086,#000086,#000086,#000086,#000086,#000086)"></i><i style="background:linear-gradient(90deg,#ff0,#fff100,#ffe000,#ffce00,#ffba00,#ffa400,#ff9000,#ff8500,#ff8200,#ff8400,#f80,#ff9000,#ffa500,#ffc600,#ffed00,#e5ff1a,#b3ff4c,#79ff86,#3fc,#00e0ff,#008dff,#0046ff,#0010ff,#0000e9,#0000ce,#00b,#0000b1,#0000ac,#0000a8,#0000a2,#00009b,#000095,#000091,#00008f,#00008d,#00008c,#00008a,#008,#000086,#000086,#000086,#000086,#000086,#000086,#000086,#000086,#000086,#000086)"></i><i style="background:linear-gradient(90deg,#e4ff1b,#f3ff0c,#fff800,#ffe400,#ffcf00,#ffb700,#ffa200,#ff9500,#ff9000,#ff9000,#ff9100,#ff9700,#ffa900,#ffc800,#fe0,#e5ff1a,#b3ff4c,#7bff84,#39ffc6,#00e9ff,#0098ff,#0051ff,#001aff,#0000f1,#0000d4,#0000c0,#0000b5,#0000ae,#0000a9,#0000a3,#00009b,#000096,#000092,#000090,#00008e,#00008c,#00008a,#008,#000087,#000086,#000086,#000086,#000086,#000086,#000086,#000086,#000086,#000086)"></i><i style="background:linear-gradient(90deg,#cbff34,#dbff24,#f0ff0f,#fff800,#ffe200,#ffca00,#ffb400,#ffa500,#ff9e00,#ff9a00,#f90,#ff9d00,#ffad00,#ffca00,#fe0,#e5ff1a,#b4ff4b,#7eff81,#3fffc0,#00f3ff,#00a3ff,#005bff,#0023ff,#0000fa,#0000dc,#0000c6,#0000b9,#0000b1,#0000ab,#0000a3,#00009c,#000096,#000093,#000090,#00008e,#00008c,#00008a,#008,#000087,#000086,#000086,#000086,#000086,#000086,#000086,#000086,#000086,#000086)"></i><i style="background:linear-gradient(90deg,#b4ff4b,#c5ff3a,#dcff23,#f2ff0d,#fff400,#ffdc00,#ffc600,#ffb600,#ffac00,#ffa400,#ffa000,#ffa200,#ffb000,#fc0,#ffef00,#e5ff1a,#b4ff4b,#80ff7f,#45ffba,#00fbff,#00aeff,#0067ff,#002eff,#0004ff,#0000e3,#00c,#0000be,#0000b4,#0000ac,#0000a4,#00009d,#000097,#000093,#000090,#00008e,#00008c,#00008a,#008,#000087,#000086,#000086,#000086,#000086,#000086,#000086,#000086,#000086,#000086)"></i><i style="background:linear-gradient(90deg,#a0ff5f,#b2ff4d,#c9ff36,#e1ff1e,#f8ff07,#fe0,#ffd800,#ffc600,#ffb900,#ffae00,#ffa600,#ffa700,#ffb400,#ffce00,#ffef00,#e5ff1a,#b5ff4a,#82ff7d,#49ffb6,#05fffa,#00b8ff,#0071ff,#0038ff,#000dff,#0000eb,#0000d3,#0000c2,#0000b7,#0000ae,#0000a6,#00009e,#000098,#000094,#000091,#00008e,#00008c,#00008a,#008,#000087,#000086,#000086,#000086,#000086,#000086,#000086,#000086,#000086,#000086)"></i><i style="background:linear-gradient(90deg,#8fff70,#a1ff5e,#b9ff46,#d0ff2f,#e8ff17,#ff0,#ffe900,#ffd600,#ffc600,#ffb700,#ffad00,#ffab00,#ffb700,#ffcf00,#fff000,#e5ff1a,#b5ff4a,#84ff7b,#4effb1,#0cfff3,#00c2ff,#007cff,#0043ff,#0017ff,#0000f4,#0000da,#0000c7,#0000ba,#0000b0,#0000a7,#00009f,#009,#000095,#000092,#00008f,#00008c,#00008a,#008,#000087,#000087,#000086,#000086,#000086,#000086,#000086,#000086,#000086,#000086)"></i><i style="background:linear-gradient(90deg,#7fff80,#92ff6d,#a9ff56,#c1ff3e,#d8ff27,#efff10,#fffa00,#ffe600,#ffd200,#ffc000,#ffb200,#ffaf00,#ffba00,#ffd100,#fff000,#e5ff1a,#b5ff4a,#85ff7a,#51ffae,#12ffed,#00cbff,#0087ff,#004dff,#0021ff,#0000fd,#0000e1,#0000cd,#0000be,#0000b2,#0000a9,#0000a1,#00009b,#000096,#000092,#00008f,#00008d,#00008a,#000089,#000087,#000087,#000086,#000086,#000086,#000086,#000086,#000086,#000086,#000086)"></i><i style="background:linear-gradient(90deg,#71ff8e,#83ff7c,#9bff64,#b3ff4c,#caff35,#e0ff1f,#f5ff0a,#fff400,#ffde00,#ffc800,#ffb800,#ffb300,#ffbd00,#ffd300,#fff100,#e5ff1a,#b5ff4a,#86ff79,#54ffab,#18ffe7,#00d3ff,#0091ff,#0058ff,#002bff,#0007ff,#0000e9,#0000d3,#0000c2,#0000b5,#0000ab,#0000a3,#00009c,#000097,#000093,#000090,#00008d,#00008b,#000089,#000087,#000087,#000086,#000086,#000086,#000086,#000086,#000086,#000086,#000086)"></i><i style="background:linear-gradient(90deg,#64ff9b,#76ff89,#8eff71,#a5ff5a,#bcff43,#d3ff2c,#e9ff16,#feff01,#ffe800,#ffd000,#ffbd00,#ffb800,#ffc100,#ffd500,#fff200,#e4ff1b,#b5ff4a,#87ff78,#57ffa8,#1dffe2,#00dbff,#009bff,#0064ff,#0036ff,#0010ff,#0000f0,#0000d9,#0000c6,#0000b8,#0000ad,#0000a4,#00009e,#000098,#000094,#000090,#00008d,#00008b,#000089,#008,#000087,#000087,#000086,#000086,#000086,#000086,#000086,#000086,#000086)"></i><i style="background:linear-gradient(90deg,#57ffa8,#69ff96,#81ff7e,#9f6,#b0ff4f,#c7ff38,#deff21,#f5ff0a,#fff000,#ffd700,#ffc300,#ffbd00,#ffc500,#ffd900,#fff400,#e3ff1c,#b5ff4a,#8f7,#59ffa6,#21ffde,#00e2ff,#00a4ff,#006eff,#0041ff,#001aff,#0000f9,#0000df,#0000cb,#00b,#0000b0,#0000a6,#00009f,#009,#000094,#000091,#00008e,#00008b,#000089,#008,#000087,#000087,#000086,#000086,#000086,#000086,#000086,#000086,#000086)"></i><i style="background:linear-gradient(90deg,#4cffb3,#5effa1,#75ff8a,#8dff72,#a5ff5a,#bdff42,#d5ff2a,#edff12,#fff700,#ffde00,#ffca00,#ffc400,#ffcb00,#fd0,#fff800,#e1ff1e,#b4ff4b,#8f7,#5affa5,#24ffdb,#00e8ff,#00adff,#0078ff,#004bff,#0023ff,#0002ff,#0000e6,#0000d0,#0000bf,#0000b2,#0000a8,#0000a1,#00009a,#000095,#000091,#00008e,#00008c,#00008a,#008,#000087,#000087,#000086,#000086,#000086,#000086,#000086,#000086,#000086)"></i><i style="background:linear-gradient(90deg,#42ffbd,#53ffac,#6aff95,#82ff7d,#9bff64,#b4ff4b,#cdff32,#e6ff19,#ff0,#ffe500,#ffd200,#fc0,#ffd300,#ffe400,#fffc00,#df2,#b1ff4e,#87ff78,#5bffa4,#27ffd8,#00edff,#00b5ff,#0081ff,#0054ff,#002cff,#000aff,#0000ec,#0000d5,#0000c3,#0000b5,#0000ab,#0000a2,#00009c,#000096,#000092,#00008e,#00008c,#00008a,#008,#008,#000087,#000087,#000086,#000086,#000086,#000086,#000086,#000086)"></i><i style="background:linear-gradient(90deg,#38ffc7,#49ffb6,#60ff9f,#78ff87,#90ff6f,#af5,#c4ff3b,#df2,#f7ff08,#fe0,#ffdc00,#ffd600,#ffdc00,#ffec00,#fbff04,#d8ff27,#adff52,#85ff7a,#5bffa4,#29ffd6,#00f1ff,#00bcff,#0089ff,#005cff,#0034ff,#01f,#0000f3,#0000db,#0000c7,#0000b8,#0000ad,#0000a4,#00009d,#000097,#000092,#00008f,#00008c,#00008a,#000089,#008,#000087,#000087,#000086,#000086,#000086,#000086,#000086,#000086)"></i><i style="background:linear-gradient(90deg,#30ffcf,#40ffbf,#56ffa9,#6dff92,#86ff79,#a0ff5f,#bf4,#d4ff2b,#edff12,#fff900,#ffe800,#ffe100,#ffe700,#fff600,#f2ff0d,#d1ff2e,#a8ff57,#82ff7d,#5affa5,#2affd5,#00f5ff,#00c2ff,#0090ff,#0064ff,#003cff,#0019ff,#0000fa,#0000e0,#0000cb,#00b,#0000b0,#0000a6,#00009e,#000098,#000093,#00008f,#00008d,#00008a,#000089,#008,#000087,#000087,#000086,#000086,#000086,#000086,#000086,#000086)"></i><i style="background:linear-gradient(90deg,#28ffd7,#38ffc7,#4dffb2,#63ff9c,#7bff84,#95ff6a,#b0ff4f,#c9ff36,#e2ff1d,#f8ff07,#fff500,#ffef00,#fff500,#fcff03,#e7ff18,#c8ff37,#a2ff5d,#7dff82,#58ffa7,#2bffd4,#00f9ff,#00c7ff,#0097ff,#006bff,#04f,#0021ff,#0002ff,#0000e6,#0000d0,#0000bf,#0000b2,#0000a8,#0000a0,#009,#000093,#000090,#00008d,#00008b,#000089,#008,#008,#000087,#000086,#000086,#000086,#000086,#000086,#000086)"></i><i style="background:linear-gradient(90deg,#21ffde,#2fffd0,#43ffbc,#59ffa6,#71ff8e,#8bff74,#a6ff59,#bfff40,#d6ff29,#ebff14,#faff05,#ff0,#faff05,#ef1,#dbff24,#beff41,#9aff65,#79ff86,#56ffa9,#2cffd3,#00fcff,#0cf,#009dff,#0071ff,#004bff,#0028ff,#0009ff,#0000ec,#0000d5,#0000c3,#0000b6,#0000ab,#0000a2,#00009a,#000094,#000090,#00008d,#00008b,#00008a,#000089,#008,#000087,#000086,#000086,#000086,#000086,#000086,#000086)"></i><i style="background:linear-gradient(90deg,#19ffe6,#27ffd8,#3affc5,#4fffb0,#6f9,#80ff7f,#9bff64,#b4ff4b,#c9ff36,#df2,#eaff15,#efff10,#eaff15,#dfff20,#ceff31,#b4ff4b,#93ff6c,#73ff8c,#53ffac,#2bffd4,#0ff,#00d1ff,#00a2ff,#07f,#0051ff,#002fff,#0010ff,#0000f2,#0000da,#0000c7,#0000b9,#0000ad,#0000a4,#00009b,#000095,#000090,#00008e,#00008c,#00008a,#000089,#008,#000087,#000086,#000086,#000086,#000086,#000086,#000086)"></i><i style="background:linear-gradient(90deg,#12ffed,#1effe1,#30ffcf,#45ffba,#5bffa4,#75ff8a,#91ff6e,#a9ff56,#bdff42,#ceff31,#daff25,#deff21,#daff25,#d0ff2f,#c0ff3f,#a8ff57,#8aff75,#6dff92,#4fffb0,#2bffd4,#02fffd,#00d4ff,#00a6ff,#007cff,#0058ff,#0036ff,#0017ff,#0000f8,#0000df,#0000cb,#0000bc,#0000b0,#0000a5,#00009c,#000096,#000091,#00008e,#00008c,#00008a,#000089,#008,#000087,#000087,#000086,#000086,#000086,#000086,#000086)"></i><i style="background:linear-gradient(90deg,#0afff5,#16ffe9,#27ffd8,#3affc5,#51ffae,#6bff94,#86ff79,#9dff62,#afff50,#bfff40,#c9ff36,#cf3,#c9ff36,#c0ff3f,#b2ff4d,#9dff62,#81ff7e,#6f9,#4bffb4,#29ffd6,#03fffc,#00d6ff,#0af,#0081ff,#005dff,#003cff,#001cff,#0000fd,#0000e3,#0000cf,#0000bf,#0000b2,#0000a7,#00009e,#000096,#000091,#00008e,#00008c,#00008b,#000089,#008,#000087,#000087,#000086,#000086,#000086,#000086,#000086)"></i><i style="background:linear-gradient(90deg,#01fffe,#0dfff2,#1dffe2,#30ffcf,#46ffb9,#60ff9f,#7bff84,#91ff6e,#a2ff5d,#afff50,#b8ff47,#bf4,#b7ff48,#afff50,#a3ff5c,#90ff6f,#78ff87,#5fffa0,#46ffb9,#27ffd8,#03fffc,#00d8ff,#00acff,#0085ff,#0062ff,#0041ff,#02f,#0003ff,#0000e8,#0000d3,#0000c3,#0000b5,#0000a9,#00009f,#000097,#000092,#00008f,#00008d,#00008b,#00008a,#008,#000087,#000087,#000086,#000086,#000086,#000086,#000086)"></i><i style="background:linear-gradient(90deg,#00f7ff,#03fffc,#13ffec,#26ffd9,#3bffc4,#5fa,#6fff90,#84ff7b,#93ff6c,#9fff60,#a6ff59,#a9ff56,#a6ff59,#9fff60,#94ff6b,#83ff7c,#6dff92,#57ffa8,#40ffbf,#24ffdb,#02fffd,#00d8ff,#00afff,#08f,#06f,#0046ff,#0026ff,#0008ff,#0000ec,#0000d7,#0000c6,#0000b8,#0000ab,#0000a0,#000098,#000093,#00008f,#00008d,#00008b,#00008a,#000089,#008,#000087,#000086,#000086,#000086,#000086,#000086)"></i><i style="background:linear-gradient(90deg,#00ecff,#00f7ff,#09fff6,#1bffe4,#30ffcf,#48ffb7,#62ff9d,#76ff89,#84ff7b,#8eff71,#95ff6a,#97ff68,#95ff6a,#8fff70,#86ff79,#7f8,#62ff9d,#4fffb0,#3affc5,#20ffdf,#0ff,#00d9ff,#00b0ff,#008bff,#0069ff,#004aff,#002bff,#000cff,#0000f0,#0000da,#0000c9,#0000ba,#0000ad,#0000a2,#009,#000093,#000090,#00008d,#00008c,#00008a,#000089,#008,#000087,#000086,#000086,#000086,#000086,#000086)"></i><i style="background:linear-gradient(90deg,#00e1ff,#00edff,#00fdff,#0ffff0,#24ffdb,#3bffc4,#53ffac,#65ff9a,#72ff8d,#7cff83,#83ff7c,#85ff7a,#84ff7b,#7fff80,#78ff87,#6bff94,#58ffa7,#46ffb9,#3fc,#1bffe4,#00fcff,#00d8ff,#00b2ff,#008eff,#006dff,#004dff,#002eff,#0010ff,#0000f4,#0000de,#00c,#0000bd,#0000af,#0000a3,#00009a,#000094,#000090,#00008e,#00008c,#00008a,#000089,#008,#000087,#000086,#000086,#000086,#000086,#000086)"></i><i style="background:linear-gradient(90deg,#00d6ff,#00e2ff,#00f1ff,#03fffc,#16ffe9,#2cffd3,#42ffbd,#53ffac,#60ff9f,#69ff96,#70ff8f,#73ff8c,#73ff8c,#70ff8f,#6bff94,#60ff9f,#4fffb0,#3effc1,#2cffd3,#16ffe9,#00f9ff,#00d8ff,#00b3ff,#0090ff,#0070ff,#0051ff,#0032ff,#0013ff,#0000f7,#0000e1,#0000cf,#0000c0,#0000b2,#0000a5,#00009b,#000095,#000091,#00008e,#00008c,#00008b,#000089,#008,#000087,#000086,#000086,#000086,#000086,#000086)"></i><i style="background:linear-gradient(90deg,#00cbff,#00d6ff,#00e5ff,#00f5ff,#08fff7,#1cffe3,#2fffd0,#3fffc0,#4cffb3,#56ffa9,#5dffa2,#61ff9e,#63ff9c,#62ff9d,#60ff9f,#56ffa9,#46ffb9,#36ffc9,#25ffda,#1fe,#00f7ff,#00d8ff,#00b4ff,#0092ff,#0072ff,#0054ff,#0035ff,#0017ff,#0000fb,#0000e5,#0000d2,#0000c3,#0000b4,#0000a7,#00009c,#000096,#000092,#00008f,#00008d,#00008b,#000089,#008,#000087,#000086,#000086,#000086,#000086,#000086)"></i><i style="background:linear-gradient(90deg,#00c1ff,#00cbff,#00d9ff,#00e8ff,#00f9ff,#0bfff4,#1dffe2,#2cffd3,#39ffc6,#43ffbc,#4cffb3,#51ffae,#54ffab,#56ffa9,#5fa,#4dffb2,#3effc1,#2effd1,#1effe1,#0cfff3,#00f4ff,#00d7ff,#00b5ff,#0093ff,#0074ff,#0057ff,#0039ff,#001aff,#0000fe,#0000e8,#0000d5,#0000c5,#0000b6,#0000a9,#00009e,#000097,#000093,#00008f,#00008d,#00008b,#00008a,#008,#000087,#000086,#000086,#000086,#000086,#000086)"></i><i style="background:linear-gradient(90deg,#00b6ff,#00c0ff,#00ceff,#00dcff,#00ebff,#00fcff,#0dfff2,#1bffe4,#28ffd7,#3fc,#3cffc3,#42ffbd,#47ffb8,#4affb5,#4affb5,#4fb,#36ffc9,#27ffd8,#18ffe7,#07fff8,#00f2ff,#00d6ff,#00b5ff,#0094ff,#0076ff,#0059ff,#003cff,#001eff,#0002ff,#0000eb,#0000d9,#0000c8,#0000b9,#0000ab,#00009f,#000098,#000093,#000090,#00008d,#00008b,#00008a,#008,#000087,#000086,#000086,#000086,#000086,#000086)"></i><i style="background:linear-gradient(90deg,#00acff,#00b6ff,#00c3ff,#00d1ff,#00e0ff,#00efff,#00feff,#0dfff2,#19ffe6,#25ffda,#2fffd0,#36ffc9,#3bffc4,#3fffc0,#40ffbf,#3affc5,#2effd1,#20ffdf,#12ffed,#03fffc,#00efff,#00d5ff,#00b5ff,#0095ff,#0078ff,#005cff,#003fff,#0021ff,#0005ff,#00e,#0000dc,#00c,#0000bc,#0000ad,#0000a1,#009,#000094,#000091,#00008e,#00008c,#00008a,#008,#000087,#000086,#000086,#000086,#000086,#000086)"></i><i style="background:linear-gradient(90deg,#00a3ff,#00adff,#00baff,#00c7ff,#00d5ff,#00e4ff,#00f2ff,#01fffe,#0dfff2,#19ffe6,#23ffdc,#2bffd4,#31ffce,#35ffca,#37ffc8,#31ffce,#27ffd8,#19ffe6,#0cfff3,#00feff,#00ecff,#00d3ff,#00b5ff,#0096ff,#007aff,#005fff,#0042ff,#0024ff,#0009ff,#0000f1,#0000df,#0000cf,#0000bf,#0000b0,#0000a3,#00009b,#000095,#000091,#00008e,#00008c,#00008a,#008,#000087,#000086,#000086,#000086,#000086,#000086)"></i><i style="background:linear-gradient(90deg,#009aff,#00a3ff,#00b0ff,#00beff,#0cf,#00daff,#00e8ff,#00f5ff,#03fffc,#0ffff0,#1affe5,#2fd,#28ffd7,#2cffd3,#2dffd2,#29ffd6,#1fffe0,#13ffec,#07fff8,#00f9ff,#00e9ff,#00d1ff,#00b4ff,#0097ff,#007cff,#0061ff,#0045ff,#0027ff,#000bff,#0000f5,#0000e3,#0000d3,#0000c2,#0000b2,#0000a5,#00009c,#000096,#000092,#00008f,#00008c,#00008a,#008,#000087,#000086,#000086,#000086,#000086,#000086)"></i><i style="background:linear-gradient(90deg,#0091ff,#009bff,#00a8ff,#00b5ff,#00c3ff,#00d0ff,#0df,#00ebff,#00f8ff,#05fffa,#1fe,#19ffe6,#1fffe0,#23ffdc,#24ffdb,#20ffdf,#17ffe8,#0cfff3,#01fffe,#00f5ff,#00e5ff,#00ceff,#00b3ff,#0097ff,#007eff,#0064ff,#0048ff,#002aff,#000eff,#0000f8,#0000e6,#0000d6,#0000c6,#0000b5,#0000a7,#00009e,#000097,#000093,#00008f,#00008d,#00008a,#000089,#000087,#000086,#000086,#000086,#000086,#000086)"></i><i style="background:linear-gradient(90deg,#08f,#0092ff,#00a0ff,#00adff,#00baff,#00c7ff,#00d3ff,#00e0ff,#00edff,#00fbff,#08fff7,#1fe,#16ffe9,#1affe5,#1cffe3,#18ffe7,#10ffef,#06fff9,#00fbff,#00f1ff,#00e2ff,#0cf,#00b2ff,#0098ff,#007fff,#06f,#004aff,#002cff,#01f,#0000fa,#0000ea,#0000da,#0000c9,#0000b8,#00a,#0000a0,#009,#000094,#000090,#00008d,#00008b,#000089,#000087,#000086,#000086,#000086,#000086,#000086)"></i><i style="background:linear-gradient(90deg,#0080ff,#008aff,#0098ff,#00a5ff,#00b2ff,#00beff,#00caff,#00d6ff,#00e3ff,#00f2ff,#0ff,#09fff6,#0ffff0,#13ffec,#14ffeb,#10ffef,#09fff6,#0ff,#00f7ff,#00edff,#00deff,#00c9ff,#00b1ff,#0098ff,#0081ff,#0068ff,#004dff,#002fff,#0013ff,#0000fd,#0000ed,#00d,#00c,#00b,#0000ac,#0000a2,#00009a,#000094,#000090,#00008d,#00008b,#000089,#000087,#000086,#000086,#000086,#000086,#000086)"></i><i style="background:linear-gradient(90deg,#0078ff,#0082ff,#0090ff,#009dff,#00a9ff,#00b5ff,#00c0ff,#0cf,#00daff,#00e9ff,#00f6ff,#01fffe,#07fff8,#0bfff4,#0dfff2,#0afff5,#03fffc,#00faff,#00f2ff,#00e9ff,#00dbff,#00c6ff,#00afff,#0098ff,#0082ff,#006aff,#004fff,#0031ff,#0016ff,#0001ff,#0000f0,#0000e0,#0000d0,#0000be,#0000af,#0000a4,#00009c,#000096,#000091,#00008e,#00008b,#000089,#000087,#000086,#000086,#000086,#000086,#000086)"></i><i style="background:linear-gradient(90deg,#0070ff,#007bff,#08f,#0096ff,#00a2ff,#00acff,#00b7ff,#00c2ff,#00d0ff,#00e0ff,#0ef,#00f8ff,#0ff,#05fffa,#06fff9,#04fffb,#00fdff,#00f6ff,#0ef,#00e6ff,#00d8ff,#00c4ff,#00aeff,#0098ff,#0082ff,#006bff,#0050ff,#03f,#0018ff,#0003ff,#0000f3,#0000e3,#0000d3,#0000c1,#0000b1,#0000a6,#00009d,#000097,#000092,#00008f,#00008c,#000089,#008,#000086,#000086,#000086,#000086,#000086)"></i><i style="background:linear-gradient(90deg,#0068ff,#0073ff,#0081ff,#008eff,#009aff,#00a4ff,#00aeff,#00b9ff,#00c7ff,#00d7ff,#00e6ff,#00f1ff,#00f9ff,#00feff,#01fffe,#00feff,#00f9ff,#00f2ff,#00ebff,#00e2ff,#00d5ff,#00c1ff,#00acff,#0098ff,#0082ff,#006cff,#0052ff,#0034ff,#001aff,#0006ff,#0000f5,#0000e6,#0000d6,#0000c4,#0000b4,#0000a8,#00009f,#009,#000093,#000090,#00008c,#00008a,#008,#000087,#000086,#000086,#000086,#000086)"></i><i style="background:linear-gradient(90deg,#0061ff,#006cff,#007aff,#0087ff,#0092ff,#009cff,#00a5ff,#00b0ff,#00beff,#00cfff,#00dfff,#00eaff,#00f2ff,#00f8ff,#00fbff,#00f9ff,#00f5ff,#00efff,#00e7ff,#00dfff,#00d1ff,#00bfff,#0af,#0096ff,#0082ff,#006dff,#0053ff,#0036ff,#001cff,#0008ff,#0000f8,#0000e9,#0000d8,#0000c7,#0000b7,#0000ab,#0000a2,#00009a,#000095,#000091,#00008d,#00008a,#008,#000087,#000086,#000086,#000086,#000086)"></i><i style="background:linear-gradient(90deg,#005aff,#0065ff,#0073ff,#0080ff,#008bff,#0094ff,#009dff,#00a7ff,#00b5ff,#00c6ff,#00d7ff,#00e3ff,#00ecff,#00f2ff,#00f5ff,#00f5ff,#00f1ff,#00ebff,#00e4ff,#00dbff,#00ceff,#00bcff,#00a8ff,#0095ff,#0082ff,#006dff,#0054ff,#0038ff,#001dff,#000aff,#0000fa,#0000ec,#0000db,#0000ca,#0000b9,#0000ad,#0000a4,#00009c,#000096,#000092,#00008e,#00008b,#008,#000087,#000086,#000086,#000086,#000086)"></i><i style="background:linear-gradient(90deg,#0053ff,#005eff,#006dff,#0079ff,#0084ff,#008dff,#0094ff,#009eff,#00acff,#00beff,#00cfff,#00dcff,#00e6ff,#00edff,#00f0ff,#00f0ff,#0ef,#00e8ff,#00e0ff,#00d8ff,#00cbff,#00b9ff,#00a6ff,#0093ff,#0081ff,#006dff,#05f,#0039ff,#001fff,#000cff,#0000fc,#00e,#0000de,#00c,#0000bc,#0000b0,#0000a6,#00009e,#000098,#000093,#00008f,#00008c,#000089,#000087,#000086,#000086,#000086,#000086)"></i><i style="background:linear-gradient(90deg,#004cff,#0058ff,#06f,#0072ff,#007dff,#0085ff,#008cff,#0096ff,#00a4ff,#00b6ff,#00c7ff,#00d5ff,#00dfff,#00e7ff,#00ebff,#00ebff,#00e9ff,#00e4ff,#00dcff,#00d4ff,#00c7ff,#00b6ff,#00a4ff,#0092ff,#0080ff,#006eff,#0056ff,#003aff,#0021ff,#000eff,#00f,#0000f1,#0000e1,#0000cf,#0000bf,#0000b3,#0000a9,#0000a1,#00009a,#000095,#000090,#00008c,#000089,#000087,#000086,#000086,#000086,#000086)"></i><i style="background:linear-gradient(90deg,#0046ff,#0051ff,#005fff,#006bff,#0076ff,#007dff,#0085ff,#008eff,#009bff,#00aeff,#00c0ff,#00ceff,#00d8ff,#00e0ff,#00e4ff,#00e6ff,#00e5ff,#00e0ff,#00d8ff,#00d0ff,#00c4ff,#00b3ff,#00a1ff,#0090ff,#0080ff,#006dff,#0057ff,#003bff,#02f,#000fff,#0002ff,#0000f3,#0000e3,#0000d2,#0000c2,#0000b5,#0000ab,#0000a3,#00009c,#000096,#000092,#00008d,#00008a,#000087,#000086,#000086,#000086,#000086)"></i><i style="background:linear-gradient(90deg,#003fff,#004bff,#0058ff,#0064ff,#006eff,#0076ff,#007dff,#0086ff,#0093ff,#00a5ff,#00b7ff,#00c6ff,#00d0ff,#00d8ff,#0df,#00dfff,#00dfff,#00dbff,#00d4ff,#00cbff,#00c0ff,#00b0ff,#009fff,#008fff,#007fff,#006dff,#0057ff,#003cff,#0023ff,#01f,#0004ff,#0000f5,#0000e6,#0000d5,#0000c5,#0000b8,#0000ae,#0000a5,#00009e,#000098,#000093,#00008e,#00008a,#008,#000087,#000086,#000086,#000086)"></i><i style="background:linear-gradient(90deg,#0039ff,#04f,#0051ff,#005dff,#0067ff,#006fff,#0075ff,#007eff,#008cff,#009dff,#00afff,#00bdff,#00c8ff,#00d0ff,#00d5ff,#00d8ff,#00d9ff,#00d5ff,#00ceff,#00c6ff,#00bcff,#00adff,#009dff,#008eff,#007eff,#006dff,#0057ff,#003dff,#0024ff,#0012ff,#0005ff,#0000f8,#0000e8,#0000d8,#0000c8,#00b,#0000b0,#0000a7,#0000a0,#00009a,#000094,#00008f,#00008b,#000089,#000087,#000086,#000086,#000086)"></i><i style="background:linear-gradient(90deg,#03f,#003eff,#004bff,#0056ff,#0060ff,#0067ff,#006eff,#07f,#0084ff,#0095ff,#00a6ff,#00b4ff,#00bfff,#00c7ff,#00cdff,#00d1ff,#00d2ff,#00cfff,#00c8ff,#00c1ff,#00b7ff,#0af,#009bff,#008cff,#007eff,#006dff,#0058ff,#003dff,#0025ff,#0014ff,#0007ff,#0000fa,#0000eb,#0000da,#0000ca,#0000bd,#0000b3,#0000a9,#0000a2,#00009b,#000096,#000091,#00008d,#00008a,#008,#000087,#000086,#000086)"></i><i style="background:linear-gradient(90deg,#002eff,#0038ff,#04f,#004fff,#0058ff,#0060ff,#0067ff,#0070ff,#007cff,#008dff,#009eff,#00abff,#00b5ff,#00bdff,#00c4ff,#00c8ff,#00cbff,#00c8ff,#00c2ff,#0bf,#00b2ff,#00a6ff,#09f,#008bff,#007dff,#006dff,#0058ff,#003eff,#0026ff,#0015ff,#0009ff,#0000fc,#0000ed,#00d,#0000cd,#0000c0,#0000b5,#0000ac,#0000a4,#00009d,#000097,#000092,#00008e,#00008b,#000089,#000087,#000086,#000086)"></i><i style="background:linear-gradient(90deg,#0028ff,#0032ff,#003dff,#0048ff,#0051ff,#0059ff,#0060ff,#0068ff,#0075ff,#0085ff,#0095ff,#00a2ff,#00acff,#00b4ff,#00baff,#00c0ff,#00c3ff,#00c1ff,#0bf,#00b6ff,#00adff,#00a2ff,#0096ff,#008aff,#007cff,#006cff,#0058ff,#003eff,#0027ff,#0016ff,#000aff,#0000fd,#0000ef,#0000df,#0000d0,#0000c3,#0000b7,#0000ae,#0000a6,#00009f,#009,#000094,#000090,#00008c,#00008a,#008,#000087,#000086)"></i><i style="background:linear-gradient(90deg,#0023ff,#002cff,#0037ff,#0041ff,#004aff,#0052ff,#0059ff,#0062ff,#006eff,#007dff,#008cff,#09f,#00a2ff,#0af,#00b1ff,#00b7ff,#0bf,#00b9ff,#00b5ff,#00afff,#00a8ff,#009eff,#0093ff,#08f,#007bff,#006cff,#0058ff,#003fff,#0027ff,#0017ff,#000bff,#00f,#0000f1,#0000e1,#0000d2,#0000c5,#0000ba,#0000b0,#0000a7,#0000a1,#00009b,#000096,#000091,#00008d,#00008b,#000089,#000087,#000086)"></i><i style="background:linear-gradient(90deg,#001eff,#0027ff,#0031ff,#003bff,#04f,#004bff,#0052ff,#005bff,#06f,#0075ff,#0084ff,#0090ff,#09f,#00a1ff,#00a8ff,#00aeff,#00b2ff,#00b1ff,#00aeff,#00a9ff,#00a3ff,#009aff,#0090ff,#0086ff,#007aff,#006bff,#0058ff,#003fff,#0028ff,#0017ff,#000cff,#00f,#0000f2,#0000e3,#0000d4,#0000c7,#0000bc,#0000b2,#0000a9,#0000a2,#00009c,#000097,#000093,#00008f,#00008c,#000089,#000087,#000086)"></i><i style="background:linear-gradient(90deg,#001aff,#02f,#002cff,#0035ff,#003dff,#0045ff,#004cff,#0054ff,#005fff,#006dff,#007bff,#0086ff,#008fff,#0097ff,#009eff,#00a5ff,#0af,#00a9ff,#00a6ff,#00a2ff,#009dff,#0095ff,#008cff,#0083ff,#0078ff,#006aff,#0057ff,#003fff,#0028ff,#0018ff,#000cff,#0001ff,#0000f3,#0000e4,#0000d6,#0000ca,#0000be,#0000b4,#0000ab,#0000a4,#00009e,#009,#000094,#000090,#00008d,#00008a,#008,#000086)"></i><i style="background:linear-gradient(90deg,#0015ff,#001dff,#0026ff,#002fff,#0037ff,#003eff,#0045ff,#004dff,#0058ff,#0065ff,#0072ff,#007dff,#0086ff,#008eff,#0095ff,#009cff,#00a1ff,#00a1ff,#009eff,#009bff,#0096ff,#008fff,#08f,#007fff,#0075ff,#0068ff,#0056ff,#003eff,#0028ff,#0018ff,#000cff,#0001ff,#0000f3,#0000e6,#0000d8,#00c,#0000c0,#0000b6,#0000ad,#0000a6,#0000a0,#00009a,#000095,#000091,#00008e,#00008a,#008,#000086)"></i><i style="background:linear-gradient(90deg,#01f,#0018ff,#0021ff,#002aff,#0032ff,#0038ff,#003fff,#0047ff,#0051ff,#005dff,#0069ff,#0074ff,#007cff,#0084ff,#008cff,#0093ff,#0098ff,#09f,#0097ff,#0094ff,#0090ff,#0089ff,#0083ff,#007bff,#0071ff,#06f,#05f,#003eff,#0028ff,#0018ff,#000cff,#0001ff,#0000f4,#0000e7,#0000da,#0000ce,#0000c2,#0000b8,#0000af,#0000a8,#0000a1,#00009c,#000097,#000092,#00008e,#00008b,#008,#000087)"></i><i style="background:linear-gradient(90deg,#000dff,#0014ff,#001dff,#0025ff,#002cff,#03f,#0039ff,#0040ff,#004aff,#05f,#0060ff,#006aff,#0073ff,#007bff,#0083ff,#008aff,#008fff,#0090ff,#008eff,#008cff,#0089ff,#0083ff,#007dff,#0076ff,#006dff,#0062ff,#0052ff,#003dff,#0027ff,#0018ff,#000cff,#0001ff,#0000f4,#0000e8,#0000db,#0000d0,#0000c4,#0000ba,#0000b1,#0000a9,#0000a3,#00009d,#000098,#000093,#00008f,#00008c,#000089,#000087)"></i><i style="background:linear-gradient(90deg,#000aff,#0010ff,#0018ff,#0020ff,#0027ff,#002dff,#03f,#003aff,#0043ff,#004dff,#0058ff,#0061ff,#006aff,#0072ff,#007aff,#0081ff,#0086ff,#0087ff,#0086ff,#0085ff,#0082ff,#007cff,#07f,#0070ff,#0069ff,#005fff,#0050ff,#003bff,#0027ff,#0018ff,#000cff,#0001ff,#0000f5,#0000e9,#00d,#0000d1,#0000c6,#0000bc,#0000b3,#0000ab,#0000a4,#00009e,#009,#000094,#000090,#00008c,#000089,#000087)"></i><i style="background:linear-gradient(90deg,#0006ff,#000cff,#0014ff,#001bff,#02f,#0028ff,#002dff,#0034ff,#003cff,#0046ff,#0050ff,#0059ff,#0062ff,#0069ff,#0071ff,#0078ff,#007dff,#007eff,#007eff,#007dff,#007bff,#0076ff,#0071ff,#006bff,#0064ff,#005bff,#004dff,#003aff,#0027ff,#0018ff,#000cff,#0001ff,#0000f5,#0000e9,#0000de,#0000d3,#0000c8,#0000be,#0000b5,#0000ad,#0000a6,#0000a0,#00009a,#000095,#000091,#00008d,#000089,#000087)"></i><i style="background:linear-gradient(90deg,#0004ff,#0009ff,#0010ff,#0017ff,#001dff,#0023ff,#0028ff,#002eff,#0036ff,#003fff,#0048ff,#0051ff,#0059ff,#0061ff,#0069ff,#0070ff,#0075ff,#0076ff,#0076ff,#0076ff,#0073ff,#006fff,#006aff,#0065ff,#005fff,#0057ff,#004bff,#0039ff,#0026ff,#0018ff,#000cff,#0001ff,#0000f5,#0000ea,#0000df,#0000d4,#0000ca,#0000c0,#0000b6,#0000af,#0000a8,#0000a1,#00009c,#000097,#000092,#00008d,#00008a,#000087)"></i><i style="background:linear-gradient(90deg,#0001ff,#0006ff,#000cff,#0013ff,#0019ff,#001eff,#0023ff,#0029ff,#0030ff,#0039ff,#0042ff,#004aff,#0052ff,#0059ff,#0061ff,#0067ff,#006cff,#006eff,#006eff,#006eff,#006cff,#0069ff,#0065ff,#0060ff,#005bff,#0054ff,#0048ff,#0037ff,#0025ff,#0017ff,#000cff,#0001ff,#0000f6,#0000eb,#0000e0,#0000d6,#0000cb,#0000c1,#0000b8,#0000b0,#0000a9,#0000a3,#00009d,#000098,#000093,#00008e,#00008a,#000087)"></i><i style="background:linear-gradient(90deg,#0000fd,#0003ff,#0009ff,#000fff,#0014ff,#0019ff,#001eff,#0024ff,#002bff,#03f,#003cff,#04f,#004bff,#0052ff,#0059ff,#0060ff,#0065ff,#06f,#0067ff,#0067ff,#06f,#0062ff,#005fff,#005bff,#0056ff,#0050ff,#0045ff,#0035ff,#0024ff,#0017ff,#000cff,#0001ff,#0000f6,#0000ec,#0000e1,#0000d7,#0000cd,#0000c3,#0000ba,#0000b2,#0000ab,#0000a4,#00009e,#009,#000094,#00008f,#00008b,#008)"></i><i style="background:linear-gradient(90deg,#0000fb,#00f,#0006ff,#000bff,#0010ff,#0015ff,#001aff,#001fff,#0026ff,#002eff,#0036ff,#003dff,#04f,#004bff,#0051ff,#0058ff,#005dff,#005fff,#0060ff,#0060ff,#005fff,#005cff,#0059ff,#0056ff,#0052ff,#004cff,#0042ff,#03f,#0023ff,#0016ff,#000bff,#0001ff,#0000f6,#0000ec,#0000e2,#0000d8,#0000ce,#0000c5,#0000bc,#0000b4,#0000ac,#0000a6,#00009f,#00009a,#000094,#000090,#00008b,#000089)"></i><i style="background:linear-gradient(90deg,#0000f9,#0000fd,#0003ff,#0008ff,#000dff,#01f,#0016ff,#001bff,#0021ff,#0029ff,#0031ff,#0038ff,#003eff,#04f,#004aff,#0051ff,#0056ff,#0058ff,#0058ff,#0059ff,#0058ff,#0056ff,#0054ff,#0051ff,#004dff,#0048ff,#003fff,#0030ff,#0021ff,#0014ff,#000bff,#0001ff,#0000f7,#0000ed,#0000e3,#0000d9,#0000d0,#0000c6,#0000bd,#0000b5,#0000ae,#0000a7,#0000a1,#00009b,#000095,#000091,#00008c,#000089)"></i><i style="background:linear-gradient(90deg,#0000f7,#0000fb,#00f,#0005ff,#0009ff,#000dff,#0012ff,#0017ff,#001dff,#0024ff,#002cff,#03f,#0038ff,#003eff,#04f,#004aff,#004fff,#0051ff,#0052ff,#0052ff,#0051ff,#0050ff,#004eff,#004cff,#0049ff,#0045ff,#003cff,#002eff,#001fff,#0013ff,#000aff,#0001ff,#0000f7,#0000ed,#0000e4,#0000da,#0000d1,#0000c8,#0000bf,#0000b7,#0000b0,#0000a8,#0000a2,#00009c,#000096,#000091,#00008d,#00008a)"></i><i style="background:linear-gradient(90deg,#0000f6,#0000f9,#0000fd,#0002ff,#0006ff,#000aff,#000eff,#0013ff,#0019ff,#0020ff,#0028ff,#002eff,#0034ff,#0039ff,#003eff,#04f,#0049ff,#004bff,#004cff,#004cff,#004bff,#004bff,#0049ff,#0048ff,#0045ff,#0041ff,#0039ff,#002bff,#001dff,#0012ff,#0009ff,#0001ff,#0000f7,#00e,#0000e4,#0000db,#0000d2,#0000c9,#0000c0,#0000b9,#0000b1,#00a,#0000a3,#00009c,#000097,#000092,#00008e,#00008b)"></i><i style="background:linear-gradient(90deg,#0000f5,#0000f8,#0000fb,#00f,#0004ff,#0008ff,#000cff,#0010ff,#0016ff,#001eff,#0025ff,#002bff,#0030ff,#0035ff,#003aff,#0040ff,#0045ff,#0047ff,#0047ff,#0047ff,#0047ff,#0047ff,#0046ff,#0045ff,#0042ff,#003fff,#0037ff,#0029ff,#001bff,#0010ff,#0009ff,#0001ff,#0000f7,#00e,#0000e5,#0000db,#0000d2,#0000ca,#0000c2,#0000ba,#0000b2,#00a,#0000a3,#00009d,#000098,#000093,#00008f,#00008c)"></i><i style="background:linear-gradient(90deg,#0000f5,#0000f8,#0000fb,#00f,#0004ff,#0008ff,#000cff,#0010ff,#0016ff,#001eff,#0025ff,#002bff,#0030ff,#0035ff,#003aff,#0040ff,#0045ff,#0047ff,#0047ff,#0047ff,#0047ff,#0047ff,#0046ff,#0045ff,#0042ff,#003fff,#0037ff,#0029ff,#001bff,#0010ff,#0009ff,#0001ff,#0000f7,#00e,#0000e5,#0000db,#0000d2,#0000ca,#0000c2,#0000ba,#0000b2,#00a,#0000a3,#00009d,#000098,#000093,#00008f,#00008c)"></i><i style="background:linear-gradient(90deg,#0000f5,#0000f8,#0000fb,#00f,#0004ff,#0008ff,#000cff,#0010ff,#0016ff,#001eff,#0025ff,#002bff,#0030ff,#0035ff,#003aff,#0040ff,#0045ff,#0047ff,#0047ff,#0047ff,#0047ff,#0047ff,#0046ff,#0045ff,#0042ff,#003fff,#0037ff,#0029ff,#001bff,#0010ff,#0009ff,#0001ff,#0000f7,#00e,#0000e5,#0000db,#0000d2,#0000ca,#0000c2,#0000ba,#0000b2,#00a,#0000a3,#00009d,#000098,#000093,#00008f,#00008c)"></i><i style="background:linear-gradient(90deg,#0000f5,#0000f8,#0000fb,#00f,#0004ff,#0008ff,#000cff,#0010ff,#0016ff,#001eff,#0025ff,#002bff,#0030ff,#0035ff,#003aff,#0040ff,#0045ff,#0047ff,#0047ff,#0047ff,#0047ff,#0047ff,#0046ff,#0045ff,#0042ff,#003fff,#0037ff,#0029ff,#001bff,#0010ff,#0009ff,#0001ff,#0000f7,#00e,#0000e5,#0000db,#0000d2,#0000ca,#0000c2,#0000ba,#0000b2,#00a,#0000a3,#00009d,#000098,#000093,#00008f,#00008c)"></i></div></div>
<div class="p" style="left:399.3px;top:22.3px"><div class="q"><i style="background:linear-gradient(90deg,#00b,#00b,#00b,#0000ba,#0000ba,#0000ba,#0000ba,#0000ba,#00b,#0000bc,#0000be,#0000c0,#0000c3,#0000c5,#0000c9,#0000ce,#0000d4,#0000db,#0000e3,#0000ec,#0000f2,#0000f8,#0000fd,#0005ff,#000eff,#0017ff,#0020ff,#0028ff,#002dff,#002eff,#002cff,#0027ff,#001eff,#0010ff,#0000fd,#0000ec,#0000dc,#00c,#0000bf,#0000b5,#0000ad,#0000a6,#0000a1,#00009c,#000097,#000092,#00008e,#00008a)"></i><i style="background:linear-gradient(90deg,#00b,#00b,#00b,#0000ba,#0000ba,#0000ba,#0000ba,#0000ba,#00b,#0000bc,#0000be,#0000c0,#0000c3,#0000c5,#0000c9,#0000ce,#0000d4,#0000db,#0000e3,#0000ec,#0000f2,#0000f8,#0000fd,#0005ff,#000eff,#0017ff,#0020ff,#0028ff,#002dff,#002eff,#002cff,#0027ff,#001eff,#0010ff,#0000fd,#0000ec,#0000dc,#00c,#0000bf,#0000b5,#0000ad,#0000a6,#0000a1,#00009c,#000097,#000092,#00008e,#00008a)"></i><i style="background:linear-gradient(90deg,#00b,#00b,#00b,#0000ba,#0000ba,#0000ba,#0000ba,#0000ba,#00b,#0000bc,#0000be,#0000c0,#0000c3,#0000c5,#0000c9,#0000ce,#0000d4,#0000db,#0000e3,#0000ec,#0000f2,#0000f8,#0000fd,#0005ff,#000eff,#0017ff,#0020ff,#0028ff,#002dff,#002eff,#002cff,#0027ff,#001eff,#0010ff,#0000fd,#0000ec,#0000dc,#00c,#0000bf,#0000b5,#0000ad,#0000a6,#0000a1,#00009c,#000097,#000092,#00008e,#00008a)"></i><i style="background:linear-gradient(90deg,#00b,#00b,#00b,#0000ba,#0000ba,#0000ba,#0000ba,#0000ba,#00b,#0000bc,#0000be,#0000c0,#0000c3,#0000c5,#0000c9,#0000ce,#0000d4,#0000db,#0000e3,#0000ec,#0000f2,#0000f8,#0000fd,#0005ff,#000eff,#0017ff,#0020ff,#0028ff,#002dff,#002eff,#002cff,#0027ff,#001eff,#0010ff,#0000fd,#0000ec,#0000dc,#00c,#0000bf,#0000b5,#0000ad,#0000a6,#0000a1,#00009c,#000097,#000092,#00008e,#00008a)"></i><i style="background:linear-gradient(90deg,#0000b9,#0000b9,#0000b8,#0000b8,#0000b7,#0000b7,#0000b7,#0000b7,#0000b8,#0000b9,#00b,#0000bd,#0000c0,#0000c3,#0000c7,#00c,#0000d2,#0000da,#0000e2,#0000ea,#0000f2,#0000f8,#0000fd,#0006ff,#000fff,#0019ff,#02f,#002aff,#002fff,#002fff,#002dff,#0028ff,#001fff,#0010ff,#0000fd,#0000ec,#0000db,#00c,#0000be,#0000b4,#0000ac,#0000a6,#0000a0,#00009b,#000096,#000091,#00008d,#00008a)"></i><i style="background:linear-gradient(90deg,#0000b7,#0000b6,#0000b5,#0000b4,#0000b4,#0000b4,#0000b4,#0000b4,#0000b4,#0000b6,#0000b7,#0000ba,#0000bd,#0000c1,#0000c5,#0000ca,#0000d1,#0000d8,#0000e0,#0000e9,#0000f1,#0000f7,#0000fe,#0007ff,#0010ff,#001aff,#0024ff,#002cff,#0031ff,#0031ff,#002fff,#0029ff,#001fff,#0010ff,#0000fd,#0000eb,#0000db,#0000cb,#0000be,#0000b3,#0000ab,#0000a4,#00009e,#009,#000094,#000090,#00008c,#00008a)"></i><i style="background:linear-gradient(90deg,#0000b4,#0000b3,#0000b1,#0000b0,#0000b0,#0000b0,#0000b0,#0000b0,#0000b1,#0000b2,#0000b4,#0000b6,#0000b9,#0000be,#0000c3,#0000c8,#0000cf,#0000d6,#0000de,#0000e8,#0000f0,#0000f7,#0000fe,#0008ff,#0012ff,#001dff,#0026ff,#002eff,#03f,#0034ff,#0030ff,#002aff,#0020ff,#0010ff,#0000fc,#0000eb,#0000da,#0000ca,#0000bd,#0000b2,#00a,#0000a3,#00009d,#000098,#000093,#00008f,#00008b,#000089)"></i><i style="background:linear-gradient(90deg,#0000b1,#0000b0,#0000ae,#0000ad,#0000ad,#0000ad,#0000ad,#0000ad,#0000ad,#0000ae,#0000b0,#0000b3,#0000b6,#0000bc,#0000c1,#0000c7,#0000cd,#0000d4,#00d,#0000e7,#0000f0,#0000f8,#00f,#0009ff,#0014ff,#001fff,#0029ff,#0031ff,#0036ff,#0036ff,#0032ff,#002bff,#0020ff,#000fff,#0000fb,#0000e9,#0000d9,#0000c9,#0000bc,#0000b1,#0000a9,#0000a2,#00009b,#000096,#000092,#00008e,#00008b,#000089)"></i><i style="background:linear-gradient(90deg,#0000af,#0000ad,#0000ab,#00a,#00a,#00a,#00a,#00a,#00a,#0000ac,#0000ad,#0000b0,#0000b4,#0000ba,#0000c0,#0000c6,#00c,#0000d3,#0000dc,#0000e6,#0000f0,#0000f8,#0001ff,#000bff,#0017ff,#02f,#002cff,#0034ff,#0039ff,#0039ff,#0034ff,#002cff,#0020ff,#000eff,#0000fa,#0000e8,#0000d8,#0000c8,#00b,#0000b0,#0000a8,#0000a0,#00009a,#000095,#000090,#00008d,#00008a,#008)"></i><i style="background:linear-gradient(90deg,#0000ad,#0000ab,#0000a9,#0000a8,#0000a8,#0000a7,#0000a7,#0000a8,#0000a8,#0000a9,#0000ac,#0000ae,#0000b3,#0000b9,#0000bf,#0000c5,#0000cb,#0000d2,#0000dc,#0000e6,#0000f0,#0000f9,#0003ff,#000dff,#001aff,#0026ff,#0030ff,#0038ff,#003cff,#003bff,#0036ff,#002dff,#001fff,#000eff,#0000f9,#0000e7,#0000d6,#0000c7,#0000b9,#0000af,#0000a7,#00009f,#009,#000093,#00008f,#00008c,#000089,#008)"></i><i style="background:linear-gradient(90deg,#0000ab,#0000a9,#0000a7,#0000a6,#0000a6,#0000a6,#0000a6,#0000a6,#0000a6,#0000a8,#00a,#0000ae,#0000b2,#0000b8,#0000be,#0000c5,#0000cb,#0000d2,#0000dc,#0000e7,#0000f1,#0000fa,#0004ff,#0010ff,#001dff,#0029ff,#03f,#003bff,#0040ff,#003eff,#0037ff,#002dff,#001fff,#000cff,#0000f7,#0000e5,#0000d5,#0000c5,#0000b8,#0000ae,#0000a5,#00009e,#000097,#000092,#00008e,#00008b,#000089,#008)"></i><i style="background:linear-gradient(90deg,#00a,#0000a8,#0000a6,#0000a5,#0000a4,#0000a4,#0000a4,#0000a4,#0000a5,#0000a7,#00a,#0000ad,#0000b2,#0000b8,#0000be,#0000c4,#0000cb,#0000d3,#0000dc,#0000e8,#0000f2,#0000fc,#0007ff,#0013ff,#0020ff,#002dff,#0038ff,#003fff,#0043ff,#0041ff,#0039ff,#002dff,#001eff,#000bff,#0000f6,#0000e3,#0000d3,#0000c3,#0000b7,#0000ac,#0000a4,#00009d,#000096,#000091,#00008d,#00008b,#008,#000087)"></i><i style="background:linear-gradient(90deg,#0000a8,#0000a7,#0000a5,#0000a3,#0000a3,#0000a3,#0000a3,#0000a3,#0000a4,#0000a6,#0000a9,#0000ad,#0000b2,#0000b8,#0000be,#0000c5,#0000cb,#0000d3,#00d,#0000e9,#0000f4,#00f,#000aff,#0016ff,#0025ff,#0032ff,#003cff,#04f,#0048ff,#0045ff,#003bff,#002dff,#001cff,#0009ff,#0000f3,#0000e1,#0000d1,#0000c1,#0000b5,#0000ab,#0000a3,#00009b,#000095,#000090,#00008d,#00008a,#008,#000087)"></i><i style="background:linear-gradient(90deg,#0000a7,#0000a6,#0000a4,#0000a2,#0000a2,#0000a2,#0000a2,#0000a2,#0000a3,#0000a5,#0000a9,#0000ad,#0000b2,#0000b8,#0000be,#0000c5,#00c,#0000d5,#0000df,#0000eb,#0000f7,#0003ff,#000eff,#001bff,#002aff,#0038ff,#0042ff,#0049ff,#004cff,#0048ff,#003cff,#002dff,#001bff,#0006ff,#0000f1,#0000df,#0000ce,#0000bf,#0000b3,#0000a9,#0000a1,#00009a,#000094,#00008f,#00008c,#000089,#008,#000087)"></i><i style="background:linear-gradient(90deg,#0000a7,#0000a5,#0000a3,#0000a1,#0000a1,#0000a1,#0000a1,#0000a1,#0000a2,#0000a5,#0000a9,#0000ad,#0000b2,#0000b8,#0000be,#0000c5,#0000cd,#0000d6,#0000e1,#00e,#0000fb,#0007ff,#0013ff,#0020ff,#0030ff,#003dff,#0047ff,#004dff,#0050ff,#004bff,#003eff,#002cff,#0019ff,#0004ff,#00e,#0000dc,#0000cb,#0000bd,#0000b1,#0000a7,#00009f,#009,#000093,#00008f,#00008b,#000089,#000087,#000086)"></i><i style="background:linear-gradient(90deg,#0000a6,#0000a4,#0000a2,#0000a1,#0000a0,#0000a0,#0000a0,#0000a0,#0000a2,#0000a5,#0000a9,#0000ad,#0000b2,#0000b8,#0000bf,#0000c6,#0000ce,#0000d8,#0000e4,#0000f1,#0000fe,#000cff,#0018ff,#0026ff,#0036ff,#0043ff,#004cff,#0051ff,#0053ff,#004dff,#003fff,#002bff,#0017ff,#0001ff,#0000eb,#0000d9,#0000c9,#0000ba,#0000af,#0000a6,#00009e,#000097,#000092,#00008e,#00008b,#008,#000087,#000086)"></i><i style="background:linear-gradient(90deg,#0000a5,#0000a4,#0000a2,#0000a0,#0000a0,#0000a0,#0000a0,#0000a0,#0000a1,#0000a5,#0000a9,#0000ad,#0000b2,#0000b8,#0000bf,#0000c7,#0000d0,#0000da,#0000e7,#0000f5,#0004ff,#01f,#001dff,#002cff,#003cff,#0049ff,#0051ff,#05f,#05f,#004fff,#003fff,#002aff,#0015ff,#0000fd,#0000e8,#0000d6,#0000c6,#0000b8,#0000ad,#0000a4,#00009c,#000096,#000091,#00008d,#00008a,#008,#000087,#000086)"></i><i style="background:linear-gradient(90deg,#0000a5,#0000a3,#0000a2,#0000a0,#0000a0,#0000a0,#0000a0,#0000a0,#0000a2,#0000a5,#0000a9,#0000ae,#0000b3,#0000b9,#0000c0,#0000c8,#0000d2,#00d,#0000ea,#0000f9,#0009ff,#0016ff,#0024ff,#03f,#0043ff,#004fff,#05f,#0058ff,#0057ff,#004fff,#003eff,#0029ff,#0012ff,#0000fa,#0000e5,#0000d3,#0000c3,#0000b5,#0000ab,#0000a2,#00009b,#000095,#000090,#00008c,#000089,#008,#000087,#000086)"></i><i style="background:linear-gradient(90deg,#0000a5,#0000a3,#0000a2,#0000a1,#0000a0,#0000a0,#0000a0,#0000a1,#0000a2,#0000a6,#00a,#0000af,#0000b4,#0000ba,#0000c2,#0000ca,#0000d5,#0000e1,#0000ef,#0000fe,#000eff,#001cff,#002aff,#003aff,#004aff,#0056ff,#005aff,#005aff,#0058ff,#004fff,#003dff,#0026ff,#0010ff,#0000f7,#0000e1,#0000cf,#0000c0,#0000b3,#0000a8,#0000a0,#009,#000094,#00008f,#00008b,#000089,#000087,#000086,#000086)"></i><i style="background:linear-gradient(90deg,#0000a5,#0000a4,#0000a2,#0000a1,#0000a1,#0000a1,#0000a1,#0000a2,#0000a4,#0000a7,#0000ab,#0000b1,#0000b6,#0000bd,#0000c5,#0000ce,#0000d9,#0000e6,#0000f4,#0005ff,#0014ff,#0023ff,#0032ff,#0042ff,#0051ff,#005cff,#005fff,#005dff,#0058ff,#004dff,#003aff,#0024ff,#000cff,#0000f4,#0000de,#00c,#0000bd,#0000b1,#0000a6,#00009f,#000098,#000092,#00008e,#00008a,#008,#000087,#000086,#000086)"></i><i style="background:linear-gradient(90deg,#0000a5,#0000a4,#0000a3,#0000a2,#0000a1,#0000a2,#0000a2,#0000a3,#0000a5,#0000a9,#0000ae,#0000b3,#0000b9,#0000c0,#0000c9,#0000d3,#0000df,#0000ec,#0000fb,#000bff,#001bff,#002bff,#003bff,#004aff,#0058ff,#0062ff,#0064ff,#0060ff,#0059ff,#004bff,#0037ff,#0020ff,#0009ff,#0000f0,#0000da,#0000c8,#0000ba,#0000ae,#0000a4,#00009d,#000096,#000091,#00008d,#000089,#008,#000087,#000086,#000086)"></i><i style="background:linear-gradient(90deg,#0000a5,#0000a4,#0000a3,#0000a3,#0000a2,#0000a3,#0000a4,#0000a5,#0000a8,#0000ab,#0000b0,#0000b6,#0000bd,#0000c4,#0000cd,#0000d8,#0000e5,#0000f3,#0003ff,#0013ff,#0023ff,#0034ff,#04f,#0052ff,#0060ff,#0068ff,#0069ff,#0063ff,#0059ff,#0049ff,#0034ff,#001cff,#0005ff,#0000ec,#0000d6,#0000c5,#0000b7,#0000ab,#0000a2,#00009b,#000095,#000090,#00008c,#000089,#000087,#000086,#000086,#000086)"></i><i style="background:linear-gradient(90deg,#0000a5,#0000a5,#0000a4,#0000a4,#0000a4,#0000a4,#0000a6,#0000a7,#00a,#0000ae,#0000b4,#0000ba,#0000c1,#0000c9,#0000d3,#0000df,#0000ed,#0000fb,#000cff,#001bff,#002cff,#003dff,#004dff,#005bff,#0067ff,#006eff,#006dff,#0065ff,#0058ff,#0047ff,#0031ff,#0018ff,#00f,#0000e8,#0000d2,#0000c1,#0000b4,#0000a9,#0000a0,#009,#000094,#00008f,#00008b,#008,#000087,#000086,#000086,#000086)"></i><i style="background:linear-gradient(90deg,#0000a6,#0000a5,#0000a5,#0000a5,#0000a5,#0000a6,#0000a8,#00a,#0000ad,#0000b2,#0000b7,#0000be,#0000c5,#0000cf,#0000d9,#0000e6,#0000f4,#0005ff,#0015ff,#0025ff,#0036ff,#0047ff,#0057ff,#0064ff,#006dff,#0073ff,#0071ff,#0067ff,#0058ff,#0045ff,#002dff,#0014ff,#0000fb,#0000e3,#0000cf,#0000be,#0000b1,#0000a7,#00009e,#000098,#000092,#00008e,#00008a,#000087,#000086,#000086,#000086,#000086)"></i><i style="background:linear-gradient(90deg,#0000a6,#0000a6,#0000a6,#0000a6,#0000a7,#0000a8,#00a,#0000ad,#0000b1,#0000b6,#0000bc,#0000c3,#0000cb,#0000d5,#0000e0,#00e,#0000fd,#000eff,#001eff,#002fff,#0040ff,#0052ff,#0062ff,#006cff,#0073ff,#07f,#0074ff,#0068ff,#0057ff,#0042ff,#0029ff,#0010ff,#0000f6,#0000df,#0000cb,#00b,#0000af,#0000a4,#00009c,#000096,#000091,#00008d,#000089,#000087,#000086,#000086,#000086,#000086)"></i><i style="background:linear-gradient(90deg,#0000a6,#0000a7,#0000a7,#0000a8,#0000a9,#0000ab,#0000ae,#0000b1,#0000b5,#00b,#0000c1,#0000c8,#0000d1,#0000dc,#0000e8,#0000f6,#0007ff,#0018ff,#0029ff,#003aff,#004cff,#005eff,#006dff,#0075ff,#0079ff,#007aff,#0075ff,#0068ff,#05f,#003eff,#0025ff,#000bff,#0000f2,#0000db,#0000c8,#0000b8,#0000ac,#0000a2,#00009b,#000095,#000090,#00008c,#000089,#000087,#000086,#000086,#000086,#000086)"></i><i style="background:linear-gradient(90deg,#0000a7,#0000a8,#0000a9,#00a,#0000ac,#0000af,#0000b2,#0000b6,#00b,#0000c0,#0000c7,#0000cf,#0000d9,#0000e4,#0000f1,#0001ff,#0012ff,#0024ff,#0035ff,#0046ff,#0058ff,#006aff,#0078ff,#007eff,#007fff,#007dff,#0076ff,#0067ff,#0052ff,#003aff,#0020ff,#0006ff,#0000ed,#0000d7,#0000c4,#0000b5,#00a,#0000a0,#009,#000094,#00008f,#00008c,#000089,#000087,#000086,#000086,#000086,#000086)"></i><i style="background:linear-gradient(90deg,#0000a8,#0000a9,#0000ab,#0000ad,#0000af,#0000b3,#0000b7,#00b,#0000c1,#0000c7,#0000cf,#0000d8,#0000e2,#00e,#0000fc,#000dff,#001fff,#0030ff,#0041ff,#0052ff,#0063ff,#0075ff,#0082ff,#0086ff,#0084ff,#0080ff,#0076ff,#0065ff,#004eff,#0035ff,#001bff,#0001ff,#0000e9,#0000d3,#0000c1,#0000b3,#0000a7,#00009e,#000097,#000092,#00008e,#00008b,#008,#000087,#000086,#000086,#000086,#000086)"></i><i style="background:linear-gradient(90deg,#0000a9,#0000ab,#0000ad,#0000b0,#0000b3,#0000b8,#0000bc,#0000c2,#0000c8,#0000cf,#0000d8,#0000e1,#0000ed,#0000fa,#000aff,#001bff,#002dff,#003eff,#004eff,#005dff,#006eff,#007fff,#008bff,#008eff,#008aff,#0081ff,#0075ff,#0061ff,#004aff,#0030ff,#0015ff,#0000fb,#0000e4,#0000cf,#0000be,#0000b0,#0000a5,#00009c,#000096,#000091,#00008d,#00008a,#008,#000087,#000086,#000086,#000086,#000086)"></i><i style="background:linear-gradient(90deg,#00a,#0000ad,#0000b0,#0000b4,#0000b8,#0000bd,#0000c3,#0000c9,#0000d0,#0000d8,#0000e1,#0000ec,#0000f9,#0009ff,#001aff,#002cff,#003dff,#004dff,#005bff,#0068ff,#07f,#0087ff,#0093ff,#0095ff,#008eff,#0082ff,#0072ff,#005dff,#0045ff,#002bff,#000fff,#0000f5,#0000df,#0000cb,#00b,#0000ae,#0000a3,#00009b,#000094,#000090,#00008d,#00008a,#008,#000087,#000086,#000086,#000086,#000086)"></i><i style="background:linear-gradient(90deg,#0000ac,#0000af,#0000b3,#0000b8,#0000bd,#0000c3,#0000c9,#0000d1,#0000d9,#0000e2,#0000ec,#0000f8,#0008ff,#001aff,#002cff,#003eff,#004fff,#005cff,#0068ff,#0073ff,#0080ff,#008fff,#009aff,#009aff,#0091ff,#0082ff,#006fff,#0059ff,#0040ff,#0025ff,#0009ff,#0000ef,#0000da,#0000c7,#0000b8,#0000ab,#0000a1,#009,#000093,#00008f,#00008c,#000089,#008,#000086,#000086,#000086,#000086,#000086)"></i><i style="background:linear-gradient(90deg,#0000ae,#0000b1,#0000b6,#0000bc,#0000c2,#0000c9,#0000d1,#0000d9,#0000e2,#0000ec,#0000f8,#0007ff,#0018ff,#002cff,#003fff,#0051ff,#0060ff,#006bff,#0074ff,#007dff,#08f,#0096ff,#009fff,#009eff,#0092ff,#0080ff,#006bff,#0054ff,#003aff,#001fff,#0003ff,#0000ea,#0000d5,#0000c3,#0000b4,#0000a9,#00009f,#000097,#000091,#00008e,#00008b,#000089,#000087,#000086,#000086,#000086,#000086,#000086)"></i><i style="background:linear-gradient(90deg,#0000b1,#0000b4,#0000ba,#0000c1,#0000c8,#0000d0,#0000d9,#0000e2,#0000ed,#0000f9,#0007ff,#0017ff,#002aff,#003fff,#0053ff,#0064ff,#0070ff,#0079ff,#007fff,#0087ff,#0091ff,#009cff,#00a3ff,#00a1ff,#0092ff,#007eff,#0067ff,#004eff,#0034ff,#0019ff,#0000fc,#0000e4,#0000d0,#0000bf,#0000b1,#0000a6,#00009d,#000096,#000090,#00008d,#00008b,#000089,#000087,#000086,#000086,#000086,#000086,#000086)"></i><i style="background:linear-gradient(90deg,#0000b4,#0000b8,#0000bf,#0000c6,#0000ce,#0000d8,#0000e2,#0000ed,#0000f9,#0007ff,#0017ff,#0028ff,#003eff,#0054ff,#0068ff,#0076ff,#0080ff,#0086ff,#008bff,#0092ff,#009aff,#00a2ff,#00a6ff,#00a2ff,#0091ff,#007aff,#0061ff,#0048ff,#002dff,#0012ff,#0000f6,#0000de,#0000cb,#00b,#0000ae,#0000a3,#00009b,#000094,#00008f,#00008c,#00008a,#008,#000087,#000086,#000086,#000086,#000086,#000086)"></i><i style="background:linear-gradient(90deg,#0000b8,#0000bd,#0000c4,#0000cd,#0000d6,#0000e0,#0000ec,#0000f9,#0008ff,#0017ff,#0028ff,#003bff,#0052ff,#006aff,#007cff,#0089ff,#0090ff,#0094ff,#0096ff,#009cff,#00a2ff,#00a7ff,#00a8ff,#00a1ff,#008fff,#0075ff,#005bff,#0041ff,#0026ff,#000bff,#0000f0,#0000d9,#0000c6,#0000b7,#00a,#0000a1,#009,#000093,#00008e,#00008b,#000089,#008,#000087,#000086,#000086,#000086,#000086,#000086)"></i><i style="background:linear-gradient(90deg,#0000bc,#0000c2,#0000ca,#0000d4,#0000de,#0000ea,#0000f8,#0007ff,#0017ff,#0028ff,#003bff,#004fff,#0067ff,#007eff,#0090ff,#009bff,#00a1ff,#00a2ff,#00a3ff,#00a6ff,#00a9ff,#0af,#00a9ff,#00a0ff,#008bff,#006fff,#0054ff,#003aff,#001fff,#0004ff,#0000e9,#0000d3,#0000c1,#0000b3,#0000a7,#00009e,#000097,#000091,#00008d,#00008b,#000089,#008,#000087,#000086,#000086,#000086,#000086,#000086)"></i><i style="background:linear-gradient(90deg,#0000c2,#0000c8,#0000d1,#0000dc,#0000e8,#0000f6,#0007ff,#0017ff,#0029ff,#003bff,#004fff,#0064ff,#007bff,#0092ff,#00a3ff,#00adff,#00b2ff,#00b1ff,#00b0ff,#00b0ff,#00afff,#00adff,#00a8ff,#009cff,#0085ff,#0069ff,#004dff,#0032ff,#0017ff,#0000fc,#0000e3,#0000ce,#0000bd,#0000af,#0000a4,#00009c,#000095,#000090,#00008c,#00008a,#000089,#008,#000087,#000086,#000086,#000086,#000086,#000086)"></i><i style="background:linear-gradient(90deg,#0000c9,#0000d0,#0000da,#0000e6,#0000f4,#0005ff,#0017ff,#002aff,#003dff,#0051ff,#0065ff,#007aff,#0090ff,#00a6ff,#00b6ff,#00bfff,#00c3ff,#00c2ff,#00bdff,#00b9ff,#00b5ff,#00afff,#00a6ff,#0097ff,#007fff,#0062ff,#0046ff,#002aff,#0010ff,#0000f5,#00d,#0000c8,#0000b8,#0000ab,#0000a1,#009,#000094,#00008f,#00008c,#00008a,#008,#000087,#000087,#000086,#000086,#000086,#000086,#000086)"></i><i style="background:linear-gradient(90deg,#0000d2,#0000d9,#0000e4,#0000f2,#0002ff,#0016ff,#002bff,#0041ff,#05f,#006aff,#007eff,#0092ff,#00a6ff,#00baff,#00c8ff,#00d1ff,#00d5ff,#00d2ff,#00cbff,#00c3ff,#00baff,#00b0ff,#00a3ff,#0091ff,#07f,#005aff,#003eff,#0023ff,#0008ff,#00e,#0000d7,#0000c4,#0000b5,#0000a8,#00009f,#000098,#000092,#00008e,#00008b,#000089,#008,#000087,#000087,#000086,#000086,#000086,#000086,#000086)"></i><i style="background:linear-gradient(90deg,#00d,#0000e5,#0000f1,#0001ff,#0013ff,#0029ff,#0043ff,#005bff,#0071ff,#0086ff,#09f,#00abff,#00bdff,#00ceff,#00daff,#00e3ff,#00e7ff,#00e3ff,#00d9ff,#00cdff,#00bfff,#00b0ff,#009eff,#0089ff,#006fff,#0053ff,#0037ff,#001bff,#0001ff,#0000e7,#0000d1,#0000bf,#0000b1,#0000a6,#00009d,#000097,#000091,#00008d,#00008b,#000089,#008,#000087,#000086,#000086,#000086,#000086,#000086,#000086)"></i><i style="background:linear-gradient(90deg,#0000ea,#0000f2,#0001ff,#0012ff,#0026ff,#0040ff,#005dff,#0078ff,#008fff,#00a3ff,#00b6ff,#00c6ff,#00d5ff,#00e2ff,#00edff,#00f5ff,#00f9ff,#00f3ff,#00e6ff,#00d6ff,#00c3ff,#00aeff,#0098ff,#0080ff,#06f,#004bff,#002fff,#0013ff,#0000f8,#0000e0,#00c,#00b,#0000ae,#0000a3,#00009b,#000095,#000091,#00008d,#00008a,#000089,#008,#000087,#000086,#000086,#000086,#000086,#000086,#000086)"></i><i style="background:linear-gradient(90deg,#0000f8,#0002ff,#01f,#0024ff,#003bff,#0059ff,#0079ff,#0096ff,#00aeff,#00c1ff,#00d2ff,#00e0ff,#00ecff,#00f7ff,#0ff,#07fff8,#0bfff4,#04fffb,#00f2ff,#00deff,#00c7ff,#00acff,#0091ff,#07f,#005dff,#0043ff,#0028ff,#000cff,#0000f1,#0000da,#0000c6,#0000b6,#0000ab,#0000a1,#00009a,#000095,#000090,#00008d,#00008a,#000089,#008,#000087,#000086,#000086,#000086,#000086,#000086,#000086)"></i><i style="background:linear-gradient(90deg,#0006ff,#01f,#02f,#0037ff,#0051ff,#0071ff,#0094ff,#00b3ff,#00caff,#0df,#00edff,#00f9ff,#03fffc,#0bfff4,#12ffed,#18ffe7,#1bffe4,#12ffed,#00fdff,#00e5ff,#00caff,#00a9ff,#0089ff,#006dff,#0054ff,#003bff,#0021ff,#0004ff,#0000e9,#0000d3,#0000c1,#0000b3,#0000a8,#00009f,#009,#000094,#000090,#00008c,#00008a,#008,#008,#000087,#000086,#000086,#000086,#000086,#000086,#000086)"></i><i style="background:linear-gradient(90deg,#0013ff,#001fff,#03f,#004bff,#0067ff,#0089ff,#00aeff,#00cdff,#00e4ff,#00f7ff,#06fff9,#1fe,#19ffe6,#1fffe0,#24ffdb,#29ffd6,#2affd5,#1effe1,#07fff8,#00ebff,#00cbff,#00a6ff,#0081ff,#0063ff,#004bff,#03f,#0019ff,#0000fc,#0000e2,#0000cd,#0000bc,#0000af,#0000a5,#00009e,#000098,#000093,#00008f,#00008c,#00008a,#008,#000087,#000087,#000086,#000086,#000086,#000086,#000086,#000086)"></i><i style="background:linear-gradient(90deg,#001fff,#002fff,#0045ff,#005fff,#007dff,#00a2ff,#00c8ff,#00e7ff,#00feff,#10ffef,#1dffe2,#27ffd8,#2dffd2,#32ffcd,#36ffc9,#39ffc6,#38ffc7,#29ffd6,#0ffff0,#00f0ff,#0cf,#00a1ff,#0078ff,#0059ff,#0041ff,#002bff,#0012ff,#0000f5,#0000dc,#0000c7,#0000b8,#0000ac,#0000a3,#00009c,#000097,#000092,#00008f,#00008b,#000089,#008,#000087,#000087,#000086,#000086,#000086,#000086,#000086,#000086)"></i><i style="background:linear-gradient(90deg,#002eff,#0040ff,#0059ff,#0076ff,#0096ff,#00bcff,#00e2ff,#03fffc,#19ffe6,#29ffd6,#36ffc9,#3effc1,#43ffbc,#47ffb8,#49ffb6,#4affb5,#46ffb9,#34ffcb,#16ffe9,#00f3ff,#00cbff,#009cff,#006fff,#004eff,#0037ff,#02f,#000aff,#00e,#0000d6,#0000c3,#0000b4,#0000a9,#0000a1,#00009a,#000096,#000091,#00008e,#00008b,#000089,#008,#000087,#000087,#000086,#000086,#000086,#000086,#000086,#000086)"></i><i style="background:linear-gradient(90deg,#003fff,#0054ff,#0070ff,#008fff,#00b1ff,#00d8ff,#0ff,#1fffe0,#35ffca,#45ffba,#50ffaf,#57ffa8,#5bffa4,#5dffa2,#5dffa2,#5bffa4,#53ffac,#3effc1,#1cffe3,#00f6ff,#00caff,#0096ff,#0065ff,#04f,#002dff,#0019ff,#0002ff,#0000e7,#0000d0,#0000be,#0000b0,#0000a6,#00009f,#009,#000094,#000091,#00008d,#00008b,#000089,#008,#000087,#000087,#000086,#000086,#000086,#000086,#000086,#000086)"></i><i style="background:linear-gradient(90deg,#0054ff,#006bff,#008aff,#00acff,#00d0ff,#00f8ff,#20ffdf,#3effc1,#53ffac,#62ff9d,#6cff93,#72ff8d,#74ff8b,#74ff8b,#72ff8d,#6dff92,#60ff9f,#47ffb8,#23ffdc,#00f9ff,#00c8ff,#008fff,#005cff,#0039ff,#02f,#000eff,#0000f8,#0000e0,#0000cb,#0000ba,#0000ae,#0000a4,#00009d,#000097,#000093,#000090,#00008d,#00008a,#008,#000087,#000087,#000086,#000086,#000086,#000086,#000086,#000086,#000086)"></i><i style="background:linear-gradient(90deg,#006cff,#0085ff,#00a7ff,#00cbff,#00f1ff,#1bffe4,#42ffbd,#5fffa0,#73ff8c,#80ff7f,#89ff76,#8dff72,#8dff72,#8bff74,#87ff78,#7eff81,#6dff92,#4fffb0,#27ffd8,#00faff,#00c5ff,#08f,#0052ff,#002eff,#0017ff,#0004ff,#00e,#0000d9,#0000c6,#0000b7,#0000ab,#0000a2,#00009b,#000096,#000092,#00008f,#00008c,#00008a,#008,#000087,#000087,#000086,#000086,#000086,#000086,#000086,#000086,#000086)"></i><i style="background:linear-gradient(90deg,#0087ff,#00a2ff,#00c7ff,#00ecff,#14ffeb,#3effc1,#65ff9a,#82ff7d,#93ff6c,#9eff61,#a6ff59,#a8ff57,#a7ff58,#a2ff5d,#9aff65,#8dff72,#78ff87,#56ffa9,#2bffd4,#00f9ff,#00c1ff,#0081ff,#0048ff,#0023ff,#000cff,#0000f8,#0000e5,#0000d2,#0000c2,#0000b4,#0000a8,#0000a0,#009,#000095,#000091,#00008e,#00008b,#000089,#008,#000087,#000087,#000086,#000086,#000086,#000086,#000086,#000086,#000086)"></i><i style="background:linear-gradient(90deg,#00a5ff,#00c1ff,#00e7ff,#0ffff0,#37ffc8,#62ff9d,#8aff75,#a5ff5a,#b3ff4c,#bcff43,#c1ff3e,#c2ff3d,#bfff40,#b6ff49,#abff54,#9bff64,#81ff7e,#5bffa4,#2cffd3,#00f7ff,#0bf,#0078ff,#003eff,#0018ff,#0001ff,#00e,#00d,#00c,#0000be,#0000b1,#0000a6,#00009e,#000098,#000093,#000090,#00008d,#00008b,#000089,#008,#000087,#000087,#000086,#000086,#000086,#000086,#000086,#000086,#000086)"></i><i style="background:linear-gradient(90deg,#00c4ff,#00e2ff,#0afff5,#31ffce,#5affa5,#86ff79,#aeff51,#c7ff38,#d3ff2c,#d8ff27,#dbff24,#dbff24,#d5ff2a,#caff35,#baff45,#a6ff59,#89ff76,#5fffa0,#2cffd3,#00f2ff,#00b4ff,#006fff,#0034ff,#000eff,#0000f6,#0000e5,#0000d5,#0000c7,#0000ba,#0000af,#0000a4,#00009c,#000097,#000092,#00008f,#00008c,#00008a,#000089,#008,#000087,#000087,#000086,#000086,#000086,#000086,#000086,#000086,#000086)"></i><i style="background:linear-gradient(90deg,#00e2ff,#03fffc,#2bffd4,#53ffac,#7dff82,#a8ff57,#cfff30,#e7ff18,#f0ff0f,#f3ff0c,#f4ff0b,#f2ff0d,#e9ff16,#dbff24,#c7ff38,#afff50,#8fff70,#62ff9d,#2affd5,#00edff,#00abff,#0065ff,#002aff,#0005ff,#0000ed,#00d,#0000cf,#0000c2,#0000b7,#0000ac,#0000a3,#00009b,#000096,#000091,#00008e,#00008c,#00008a,#008,#000087,#000087,#000086,#000086,#000086,#000086,#000086,#000086,#000086,#000086)"></i><i style="background:linear-gradient(90deg,#02fffd,#23ffdc,#4cffb3,#76ff89,#9eff61,#c9ff36,#ef1,#fffa00,#fff400,#fff300,#fff400,#fff700,#fcff03,#eaff15,#d3ff2c,#b7ff48,#93ff6c,#62ff9d,#27ffd8,#00e6ff,#00a1ff,#005bff,#0020ff,#0000fb,#0000e6,#0000d6,#0000c9,#0000be,#0000b4,#00a,#0000a1,#00009a,#000095,#000091,#00008e,#00008b,#00008a,#008,#000087,#000087,#000086,#000086,#000086,#000086,#000086,#000086,#000086,#000086)"></i><i style="background:linear-gradient(90deg,#2fd,#4fb,#6fff90,#98ff67,#bfff40,#e7ff18,#fff500,#ffe100,#fd0,#fd0,#ffdf00,#ffe500,#fff200,#f7ff08,#dcff23,#bcff43,#95ff6a,#62ff9d,#24ffdb,#00deff,#0097ff,#0051ff,#0018ff,#0000f4,#0000e0,#0000d1,#0000c5,#00b,#0000b2,#0000a8,#0000a0,#009,#000094,#000090,#00008d,#00008b,#000089,#008,#000087,#000087,#000086,#000086,#000086,#000086,#000086,#000086,#000086,#000086)"></i><i style="background:linear-gradient(90deg,#4fb,#67ff98,#92ff6d,#bf4,#e0ff1f,#fffa00,#ffdc00,#fc0,#ffc800,#ffca00,#ffcd00,#ffd400,#ffe400,#fffd00,#e3ff1c,#c0ff3f,#96ff69,#60ff9f,#1fffe0,#00d6ff,#008dff,#0047ff,#0010ff,#0000ed,#0000da,#00c,#0000c1,#0000b8,#0000af,#0000a7,#00009f,#000098,#000093,#000090,#00008d,#00008b,#000089,#008,#000087,#000086,#000086,#000086,#000086,#000086,#000086,#000086,#000086,#000086)"></i><i style="background:linear-gradient(90deg,#69ff96,#8bff74,#b5ff4a,#dbff24,#fdff02,#ffe100,#ffc700,#ffb900,#ffb600,#ffb900,#ffbe00,#ffc700,#ffd900,#fff500,#e7ff18,#c3ff3c,#96ff69,#5effa1,#19ffe6,#0cf,#0082ff,#003dff,#0007ff,#0000e7,#0000d5,#0000c8,#0000be,#0000b5,#0000ae,#0000a5,#00009d,#000097,#000092,#00008f,#00008d,#00008b,#000089,#008,#000087,#000086,#000086,#000086,#000086,#000086,#000086,#000086,#000086,#000086)"></i><i style="background:linear-gradient(90deg,#8eff71,#aeff51,#d5ff2a,#f8ff07,#ffe700,#ffcb00,#ffb500,#ffa800,#ffa700,#ffab00,#ffb100,#ffbd00,#ffd100,#fff000,#eaff15,#c4ff3b,#96ff69,#5bffa4,#12ffed,#00c3ff,#07f,#03f,#0000fe,#0000e0,#0000d0,#0000c4,#00b,#0000b3,#0000ac,#0000a4,#00009c,#000096,#000092,#00008f,#00008c,#00008a,#000089,#008,#000087,#000086,#000086,#000086,#000086,#000086,#000086,#000086,#000086,#000086)"></i><i style="background:linear-gradient(90deg,#b0ff4f,#cf3,#efff10,#ffef00,#ffd300,#ffba00,#ffa600,#ff9b00,#ff9a00,#ff9f00,#ffa800,#ffb500,#fc0,#fe0,#ebff14,#c4ff3b,#96ff69,#58ffa7,#0bfff4,#00b9ff,#006dff,#002aff,#0000f7,#0000db,#0000cb,#0000c1,#0000b8,#0000b1,#00a,#0000a2,#00009b,#000095,#000091,#00008e,#00008c,#00008a,#000089,#000087,#000087,#000086,#000086,#000086,#000086,#000086,#000086,#000086,#000086,#000086)"></i><i style="background:linear-gradient(90deg,#cf3,#e5ff1a,#fffa00,#fd0,#ffc400,#ffad00,#ff9b00,#ff9100,#ff9100,#ff9700,#ffa200,#ffb100,#ffca00,#ffec00,#ecff13,#c4ff3b,#95ff6a,#5fa,#05fffa,#00b0ff,#0064ff,#02f,#0000f0,#0000d6,#0000c8,#0000be,#0000b6,#0000af,#0000a8,#0000a1,#00009a,#000094,#000090,#00008e,#00008c,#00008a,#000089,#000087,#000086,#000086,#000086,#000086,#000086,#000086,#000086,#000086,#000086,#000086)"></i><i style="background:linear-gradient(90deg,#e0ff1f,#f7ff08,#ffeb00,#ffd100,#ffba00,#ffa500,#ff9400,#ff8b00,#ff8c00,#ff9300,#ff9f00,#ffaf00,#ffc900,#ffec00,#ecff13,#c4ff3b,#95ff6a,#52ffad,#00feff,#00a9ff,#005dff,#001cff,#0000ec,#0000d2,#0000c4,#00b,#0000b3,#0000ad,#0000a6,#00009f,#000098,#000093,#000090,#00008d,#00008b,#00008a,#008,#000087,#000086,#000086,#000086,#000086,#000086,#000086,#000086,#000086,#000086,#000086)"></i><i style="background:linear-gradient(90deg,#e9ff16,#ff0,#ffe400,#fc0,#ffb600,#ffa200,#ff9100,#ff8900,#ff8a00,#ff9200,#ff9f00,#ffb100,#ffcb00,#ffed00,#ebff14,#c4ff3b,#95ff6a,#50ffaf,#00faff,#00a5ff,#005aff,#0019ff,#0000e9,#0000cf,#0000c2,#0000b9,#0000b1,#00a,#0000a4,#00009d,#000097,#000092,#00008f,#00008d,#00008b,#00008a,#008,#000087,#000086,#000086,#000086,#000086,#000086,#000086,#000086,#000086,#000086,#000086)"></i><i style="background:linear-gradient(90deg,#e7ff18,#fdff02,#ffe600,#ffce00,#ffb800,#ffa400,#ff9400,#ff8c00,#ff8d00,#ff9600,#ffa300,#ffb400,#ffcd00,#ffef00,#ebff14,#c4ff3b,#94ff6b,#4fffb0,#00faff,#00a6ff,#005bff,#001aff,#0000e9,#0000ce,#0000c0,#0000b7,#0000af,#0000a8,#0000a2,#00009b,#000095,#000091,#00008e,#00008c,#00008b,#00008a,#008,#000087,#000086,#000086,#000086,#000086,#000086,#000086,#000086,#000086,#000086,#000086)"></i><i style="background:linear-gradient(90deg,#dbff24,#f2ff0d,#fff000,#ffd700,#ffc100,#ffac00,#ff9b00,#ff9300,#ff9400,#ff9c00,#ffa800,#ffb900,#ffd100,#fff100,#e9ff16,#c3ff3c,#94ff6b,#50ffaf,#00fcff,#0af,#0060ff,#001eff,#0000eb,#0000cf,#0000c0,#0000b5,#0000ad,#0000a6,#0000a0,#00009a,#000094,#000090,#00008d,#00008c,#00008b,#000089,#008,#000087,#000086,#000086,#000086,#000086,#000086,#000086,#000086,#000086,#000086,#000086)"></i><i style="background:linear-gradient(90deg,#c6ff39,#dfff20,#fcff03,#ffe700,#ffcf00,#ffb900,#ffa700,#ff9e00,#ff9e00,#ffa500,#ffb000,#ffbf00,#ffd600,#fff500,#e7ff18,#c2ff3d,#94ff6b,#52ffad,#01fffe,#00b1ff,#0068ff,#0025ff,#0000f1,#0000d2,#0000c0,#0000b4,#0000ab,#0000a4,#00009e,#000098,#000093,#00008f,#00008d,#00008b,#00008a,#000089,#008,#000087,#000086,#000086,#000086,#000086,#000086,#000086,#000086,#000086,#000086,#000086)"></i><i style="background:linear-gradient(90deg,#acff53,#c6ff39,#e6ff19,#fffc00,#ffe200,#ffca00,#ffb600,#ffab00,#ffab00,#ffb000,#ffb800,#ffc500,#ffdb00,#fff800,#e4ff1b,#c0ff3f,#94ff6b,#5fa,#07fff8,#00baff,#0072ff,#002fff,#0000f9,#0000d8,#0000c3,#0000b4,#00a,#0000a3,#00009d,#000097,#000092,#00008e,#00008c,#00008b,#00008a,#000089,#008,#000087,#000086,#000086,#000086,#000086,#000086,#000086,#000086,#000086,#000086,#000086)"></i><i style="background:linear-gradient(90deg,#8fff70,#af5,#cf3,#eaff15,#fff700,#fd0,#ffc700,#fb0,#ffb900,#ffbc00,#ffc200,#fc0,#ffe000,#fffc00,#e1ff1e,#bfff40,#94ff6b,#57ffa8,#0efff1,#00c4ff,#007eff,#003bff,#0004ff,#0000df,#0000c6,#0000b5,#00a,#0000a2,#00009c,#000096,#000091,#00008e,#00008c,#00008b,#00008a,#000089,#008,#000087,#000086,#000086,#000086,#000086,#000086,#000086,#000086,#000086,#000086,#000086)"></i><i style="background:linear-gradient(90deg,#70ff8f,#8dff72,#b0ff4f,#d1ff2e,#efff10,#fff200,#ffd900,#fc0,#ffc800,#ffc900,#fc0,#ffd300,#ffe400,#feff01,#dfff20,#bdff42,#94ff6b,#5affa5,#14ffeb,#00ceff,#008bff,#0048ff,#0010ff,#0000e7,#0000cb,#0000b8,#0000ab,#0000a3,#00009d,#000097,#000092,#00008e,#00008c,#00008b,#00008a,#000089,#008,#000087,#000086,#000086,#000086,#000086,#000086,#000086,#000086,#000086,#000086,#000086)"></i><i style="background:linear-gradient(90deg,#51ffae,#6fff90,#94ff6b,#b6ff49,#d7ff28,#f6ff09,#ffed00,#fd0,#ffd700,#ffd500,#ffd500,#ffda00,#ffe900,#fbff04,#df2,#bdff42,#94ff6b,#5cffa3,#1bffe4,#00d9ff,#0098ff,#05f,#001bff,#0000f0,#0000d2,#0000bd,#0000af,#0000a6,#00009e,#000098,#000093,#00008f,#00008d,#00008b,#00008a,#000089,#008,#000087,#000086,#000086,#000086,#000086,#000086,#000086,#000086,#000086,#000086,#000086)"></i><i style="background:linear-gradient(90deg,#3fc,#52ffad,#78ff87,#9cff63,#bfff40,#e0ff1f,#fcff03,#ffef00,#ffe600,#ffe100,#ffdf00,#ffe100,#fe0,#f9ff06,#dcff23,#bcff43,#95ff6a,#5fffa0,#2fd,#00e5ff,#00a6ff,#0063ff,#0027ff,#0000fa,#0000db,#0000c4,#0000b4,#00a,#0000a2,#00009b,#000095,#000090,#00008e,#00008c,#00008b,#000089,#008,#000087,#000086,#000086,#000086,#000086,#000086,#000086,#000086,#000086,#000086,#000086)"></i><i style="background:linear-gradient(90deg,#17ffe8,#36ffc9,#5effa1,#83ff7c,#a7ff58,#caff35,#e9ff16,#feff01,#fff400,#ffec00,#ffe800,#ffe900,#fff400,#f5ff0a,#dbff24,#bcff43,#95ff6a,#62ff9d,#29ffd6,#00f0ff,#00b3ff,#0070ff,#03f,#0006ff,#0000e5,#0000cd,#0000bc,#0000af,#0000a6,#00009e,#000097,#000092,#00008f,#00008d,#00008b,#00008a,#008,#000087,#000086,#000086,#000086,#000086,#000086,#000086,#000086,#000086,#000086,#000086)"></i><i style="background:linear-gradient(90deg,#00feff,#1effe1,#45ffba,#6cff93,#91ff6e,#b5ff4a,#d6ff29,#ef1,#fcff03,#fff700,#fff100,#fff100,#fffb00,#f0ff0f,#d8ff27,#bf4,#95ff6a,#64ff9b,#2fffd0,#00faff,#00c0ff,#007cff,#003eff,#01f,#0000ef,#0000d6,#0000c4,#0000b6,#00a,#0000a1,#00009a,#000094,#000091,#00008e,#00008c,#00008a,#008,#000087,#000086,#000086,#000086,#000086,#000086,#000086,#000086,#000086,#000086,#000086)"></i><i style="background:linear-gradient(90deg,#00e9ff,#08fff7,#2fffd0,#5fa,#7bff84,#a1ff5e,#c4ff3b,#deff21,#efff10,#fbff04,#fffb00,#fffa00,#fbff04,#ebff14,#d5ff2a,#b9ff46,#95ff6a,#6f9,#34ffcb,#04fffb,#00cbff,#08f,#004aff,#001cff,#0000fa,#0000e0,#00c,#0000bc,#0000af,#0000a5,#00009d,#000097,#000092,#00008f,#00008c,#00008a,#000089,#000087,#000087,#000086,#000086,#000086,#000086,#000086,#000086,#000086,#000086,#000086)"></i><i style="background:linear-gradient(90deg,#00d6ff,#00f3ff,#1affe5,#40ffbf,#67ff98,#8fff70,#b4ff4b,#d0ff2f,#e2ff1d,#efff10,#f8ff07,#faff05,#f3ff0c,#e4ff1b,#d1ff2e,#b7ff48,#94ff6b,#68ff97,#39ffc6,#0cfff3,#00d5ff,#0093ff,#0054ff,#0026ff,#0005ff,#0000ea,#0000d5,#0000c3,#0000b4,#0000a9,#0000a0,#009,#000094,#000090,#00008d,#00008a,#000089,#008,#000087,#000086,#000086,#000086,#000086,#000086,#000086,#000086,#000086,#000086)"></i><i style="background:linear-gradient(90deg,#00c4ff,#00e0ff,#06fff9,#2cffd3,#53ffac,#7dff82,#a3ff5c,#c1ff3e,#d5ff2a,#e4ff1b,#edff12,#f0ff0f,#eaff15,#deff21,#cf3,#b5ff4a,#94ff6b,#6aff95,#3dffc2,#13ffec,#00deff,#009dff,#005fff,#0030ff,#000fff,#0000f4,#00d,#0000c9,#0000b9,#0000ac,#0000a2,#00009b,#000095,#000091,#00008d,#00008b,#000089,#008,#000087,#000086,#000086,#000086,#000086,#000086,#000086,#000086,#000086,#000086)"></i><i style="background:linear-gradient(90deg,#00b2ff,#00ceff,#00f2ff,#19ffe6,#41ffbe,#6bff94,#93ff6c,#b2ff4d,#c8ff37,#d9ff26,#e4ff1b,#e7ff18,#e2ff1d,#d7ff28,#c8ff37,#b2ff4d,#93ff6c,#6bff94,#41ffbe,#18ffe7,#00e6ff,#00a6ff,#0068ff,#003aff,#0019ff,#0000fc,#0000e4,#0000cf,#0000bd,#0000af,#0000a5,#00009d,#000097,#000092,#00008e,#00008b,#000089,#008,#000087,#000087,#000086,#000086,#000086,#000086,#000086,#000086,#000086,#000086)"></i><i style="background:linear-gradient(90deg,#00a0ff,#00bcff,#00e0ff,#07fff8,#2fffd0,#5affa5,#83ff7c,#a4ff5b,#bcff43,#ceff31,#dbff24,#dfff20,#dbff24,#d2ff2d,#c4ff3b,#b0ff4f,#93ff6c,#6cff93,#43ffbc,#1dffe2,#00ecff,#00aeff,#0072ff,#04f,#02f,#0006ff,#0000ec,#0000d4,#0000c1,#0000b2,#0000a7,#00009f,#000098,#000092,#00008e,#00008c,#00008a,#008,#000087,#000087,#000086,#000086,#000086,#000086,#000086,#000086,#000086,#000086)"></i><i style="background:linear-gradient(90deg,#008fff,#00abff,#00cfff,#00f5ff,#1fffe0,#4affb5,#74ff8b,#96ff69,#afff50,#c4ff3b,#d2ff2d,#d7ff28,#d4ff2b,#cf3,#c0ff3f,#aeff51,#92ff6d,#6dff92,#46ffb9,#21ffde,#00f2ff,#00b6ff,#007aff,#004dff,#002bff,#000fff,#0000f3,#0000da,#0000c5,#0000b5,#0000a9,#0000a0,#009,#000093,#00008f,#00008c,#00008a,#000089,#008,#000087,#000087,#000086,#000086,#000086,#000086,#000086,#000086,#000086)"></i><i style="background:linear-gradient(90deg,#007fff,#009bff,#00bfff,#00e5ff,#0ffff0,#3affc5,#64ff9b,#87ff78,#a3ff5c,#b9ff46,#c8ff37,#ceff31,#cf3,#c6ff39,#bcff43,#acff53,#92ff6d,#6eff91,#48ffb7,#23ffdc,#00f6ff,#00bcff,#0083ff,#0056ff,#0034ff,#0017ff,#0000fa,#0000df,#0000c9,#0000b8,#0000ac,#0000a2,#00009b,#000094,#000090,#00008d,#00008a,#000089,#008,#000087,#000087,#000086,#000086,#000086,#000086,#000086,#000086,#000086)"></i><i style="background:linear-gradient(90deg,#0070ff,#008cff,#00b0ff,#00d7ff,#0ff,#2bffd4,#5fa,#79ff86,#96ff69,#adff52,#beff41,#c4ff3b,#c4ff3b,#c0ff3f,#b8ff47,#af5,#91ff6e,#6fff90,#49ffb6,#25ffda,#00f9ff,#00c2ff,#008aff,#005fff,#003dff,#001fff,#0002ff,#0000e5,#0000cd,#00b,#0000ae,#0000a4,#00009c,#000096,#000091,#00008d,#00008b,#000089,#008,#000087,#000087,#000087,#000086,#000086,#000086,#000086,#000086,#000086)"></i><i style="background:linear-gradient(90deg,#0062ff,#007eff,#00a2ff,#00c8ff,#00f0ff,#1cffe3,#46ffb9,#6aff95,#8f7,#a0ff5f,#b2ff4d,#b9ff46,#baff45,#b8ff47,#b3ff4c,#a7ff58,#90ff6f,#6fff90,#4affb5,#27ffd8,#00fcff,#00c7ff,#0091ff,#0067ff,#0045ff,#0027ff,#0009ff,#0000eb,#0000d2,#0000bf,#0000b1,#0000a6,#00009e,#000097,#000091,#00008e,#00008b,#00008a,#008,#008,#000087,#000087,#000086,#000086,#000086,#000086,#000086,#000086)"></i><i style="background:linear-gradient(90deg,#05f,#0070ff,#0094ff,#00baff,#00e2ff,#0dfff2,#37ffc8,#5bffa4,#78ff87,#92ff6d,#a5ff5a,#adff52,#b0ff4f,#afff50,#adff52,#a2ff5d,#8dff72,#6dff92,#49ffb6,#27ffd8,#00feff,#00cbff,#0098ff,#006eff,#004dff,#002fff,#0010ff,#0000f1,#0000d6,#0000c3,#0000b4,#0000a9,#0000a0,#000098,#000092,#00008e,#00008c,#00008a,#000089,#008,#000087,#000087,#000086,#000086,#000086,#000086,#000086,#000086)"></i><i style="background:linear-gradient(90deg,#0049ff,#0064ff,#0087ff,#00acff,#00d3ff,#00fdff,#26ffd9,#4affb5,#68ff97,#83ff7c,#96ff69,#a0ff5f,#a4ff5b,#a5ff5a,#a4ff5b,#9bff64,#8f7,#6aff95,#48ffb7,#27ffd8,#0ff,#00cfff,#009dff,#0075ff,#05f,#0037ff,#0018ff,#0000f7,#0000dc,#0000c7,#0000b8,#0000ac,#0000a2,#00009a,#000094,#00008f,#00008c,#00008a,#000089,#008,#000087,#000087,#000086,#000086,#000086,#000086,#000086,#000086)"></i><i style="background:linear-gradient(90deg,#003eff,#0058ff,#007bff,#009fff,#00c5ff,#00edff,#15ffea,#39ffc6,#57ffa8,#72ff8d,#87ff78,#92ff6d,#98ff67,#9aff65,#9aff65,#92ff6d,#81ff7e,#6f9,#46ffb9,#27ffd8,#02fffd,#00d2ff,#00a3ff,#007cff,#005cff,#003fff,#001fff,#0000fe,#0000e1,#00c,#0000bc,#0000af,#0000a5,#00009c,#000095,#000090,#00008d,#00008b,#000089,#008,#000087,#000087,#000086,#000086,#000086,#000086,#000086,#000086)"></i><i style="background:linear-gradient(90deg,#0034ff,#004dff,#006eff,#0091ff,#00b6ff,#00dcff,#04fffb,#27ffd8,#46ffb9,#61ff9e,#7f8,#83ff7c,#8aff75,#8eff71,#8eff71,#8f7,#78ff87,#60ff9f,#43ffbc,#26ffd9,#02fffd,#00d5ff,#00a8ff,#0082ff,#0063ff,#0046ff,#0027ff,#0005ff,#0000e7,#0000d1,#0000c0,#0000b3,#0000a8,#00009e,#000097,#000092,#00008e,#00008b,#00008a,#008,#008,#000087,#000087,#000086,#000086,#000086,#000086,#000086)"></i><i style="background:linear-gradient(90deg,#002bff,#0043ff,#0062ff,#0084ff,#00a7ff,#0cf,#00f2ff,#15ffea,#34ffcb,#50ffaf,#6f9,#73ff8c,#7bff84,#80ff7f,#81ff7e,#7cff83,#6eff91,#59ffa6,#3fffc0,#23ffdc,#02fffd,#00d7ff,#00acff,#08f,#006aff,#004dff,#002eff,#000cff,#0000ed,#0000d6,#0000c5,#0000b7,#0000ab,#0000a1,#009,#000093,#00008f,#00008c,#00008a,#000089,#008,#000087,#000087,#000086,#000086,#000086,#000086,#000086)"></i><i style="background:linear-gradient(90deg,#0023ff,#0039ff,#0057ff,#07f,#0098ff,#00bcff,#00e0ff,#03fffc,#2fd,#3dffc2,#54ffab,#63ff9c,#6bff94,#71ff8e,#73ff8c,#6fff90,#64ff9b,#51ffae,#3affc5,#20ffdf,#0ff,#00d8ff,#00b0ff,#008eff,#0070ff,#0054ff,#0034ff,#0012ff,#0000f3,#0000db,#0000c9,#00b,#0000ae,#0000a3,#00009b,#000094,#000090,#00008d,#00008a,#000089,#008,#000087,#000087,#000086,#000086,#000086,#000086,#000086)"></i><i style="background:linear-gradient(90deg,#001bff,#002fff,#004cff,#006aff,#008aff,#00adff,#00d0ff,#00f0ff,#0ffff0,#2bffd4,#41ffbe,#51ffae,#5bffa4,#62ff9d,#64ff9b,#61ff9e,#58ffa7,#48ffb7,#34ffcb,#1cffe3,#00fdff,#00d9ff,#00b3ff,#0092ff,#0076ff,#005aff,#003aff,#0018ff,#0000f8,#0000e0,#0000ce,#0000bf,#0000b1,#0000a6,#00009d,#000096,#000091,#00008d,#00008b,#000089,#008,#000087,#000087,#000086,#000086,#000086,#000086,#000086)"></i><i style="background:linear-gradient(90deg,#0013ff,#0027ff,#0041ff,#005eff,#007dff,#009eff,#00bfff,#00dfff,#00fbff,#17ffe8,#2dffd2,#3dffc2,#49ffb6,#51ffae,#5fa,#52ffad,#4bffb4,#3effc1,#2dffd2,#17ffe8,#00fbff,#00d9ff,#00b5ff,#0096ff,#007bff,#005fff,#0040ff,#001dff,#0000fd,#0000e5,#0000d2,#0000c2,#0000b5,#0000a9,#00009f,#000098,#000092,#00008e,#00008b,#000089,#008,#000087,#000087,#000086,#000086,#000086,#000086,#000086)"></i><i style="background:linear-gradient(90deg,#000bff,#001eff,#0038ff,#0053ff,#0070ff,#008fff,#00afff,#00cdff,#00e8ff,#03fffc,#19ffe6,#29ffd6,#36ffc9,#3fffc0,#4fb,#43ffbc,#3dffc2,#3fc,#24ffdb,#12ffed,#00f8ff,#00d9ff,#00b7ff,#009aff,#007fff,#0064ff,#0045ff,#02f,#0002ff,#0000e9,#0000d6,#0000c6,#0000b8,#0000ac,#0000a2,#00009a,#000094,#00008f,#00008b,#00008a,#008,#008,#000087,#000086,#000086,#000086,#000086,#000086)"></i><i style="background:linear-gradient(90deg,#0004ff,#0016ff,#002eff,#0048ff,#0064ff,#0081ff,#009eff,#00baff,#00d4ff,#00edff,#03fffc,#14ffeb,#21ffde,#2cffd3,#31ffce,#32ffcd,#2effd1,#27ffd8,#1bffe4,#0cfff3,#00f6ff,#00d9ff,#00b9ff,#009dff,#0083ff,#0068ff,#0049ff,#0026ff,#0006ff,#0000ed,#0000da,#0000ca,#00b,#0000af,#0000a4,#00009c,#000095,#000090,#00008c,#00008a,#000089,#008,#000087,#000086,#000086,#000086,#000086,#000086)"></i><i style="background:linear-gradient(90deg,#0000fd,#000fff,#0025ff,#003eff,#0057ff,#0071ff,#008cff,#00a6ff,#00bfff,#00d6ff,#00ebff,#00fcff,#0bfff4,#17ffe8,#1effe1,#20ffdf,#1fffe0,#1affe5,#1fe,#06fff9,#00f3ff,#00d8ff,#0bf,#009fff,#0086ff,#006cff,#004dff,#002aff,#000aff,#0000f0,#00d,#0000cd,#0000bf,#0000b2,#0000a7,#00009e,#000097,#000091,#00008d,#00008a,#000089,#008,#000087,#000087,#000086,#000086,#000086,#000086)"></i><i style="background:linear-gradient(90deg,#0000f7,#0007ff,#001cff,#0032ff,#0049ff,#0061ff,#0079ff,#0090ff,#00a7ff,#00beff,#00d2ff,#00e4ff,#00f3ff,#01fffe,#0afff5,#0efff1,#10ffef,#0efff1,#08fff7,#00feff,#00efff,#00d7ff,#00bcff,#00a2ff,#0089ff,#006fff,#0051ff,#002eff,#000eff,#0000f4,#0000e1,#0000d1,#0000c2,#0000b5,#00a,#0000a1,#009,#000092,#00008d,#00008a,#000089,#008,#000087,#000087,#000086,#000086,#000086,#000086)"></i><i style="background:linear-gradient(90deg,#0000f2,#0001ff,#0013ff,#0027ff,#003bff,#004fff,#0064ff,#0079ff,#008fff,#00a5ff,#00b9ff,#0cf,#00dcff,#00e9ff,#00f4ff,#00fbff,#01fffe,#02fffd,#0ff,#00f7ff,#00eaff,#00d5ff,#00bcff,#00a4ff,#008cff,#0072ff,#0054ff,#0031ff,#01f,#0000f7,#0000e4,#0000d4,#0000c6,#0000b9,#0000ad,#0000a3,#00009b,#000093,#00008e,#00008b,#000089,#008,#000087,#000087,#000086,#000086,#000086,#000086)"></i><i style="background:linear-gradient(90deg,#0000ed,#0000f9,#000aff,#001bff,#002cff,#003eff,#0050ff,#0063ff,#07f,#008cff,#00a1ff,#00b4ff,#00c4ff,#00d2ff,#00dfff,#00e9ff,#00f1ff,#00f6ff,#00f6ff,#00f0ff,#00e4ff,#00d2ff,#0bf,#00a5ff,#008eff,#0075ff,#0057ff,#0034ff,#0014ff,#0000fb,#0000e8,#0000d8,#0000c9,#0000bc,#0000b0,#0000a6,#00009d,#000094,#00008e,#00008b,#00008a,#008,#000087,#000087,#000086,#000086,#000086,#000086)"></i><i style="background:linear-gradient(90deg,#0000e9,#0000f3,#0002ff,#01f,#0020ff,#002eff,#003eff,#004eff,#0061ff,#0076ff,#008aff,#009dff,#00aeff,#00bdff,#00caff,#00d7ff,#00e2ff,#00eaff,#0ef,#00e9ff,#00deff,#00ceff,#0bf,#00a6ff,#0090ff,#07f,#0059ff,#0037ff,#0017ff,#0000fe,#0000eb,#0000dc,#0000cd,#0000bf,#0000b3,#0000a9,#00009e,#000095,#00008f,#00008c,#00008a,#008,#000087,#000087,#000086,#000086,#000086,#000086)"></i><i style="background:linear-gradient(90deg,#0000e5,#00e,#0000fa,#0008ff,#0014ff,#0021ff,#002fff,#003eff,#004fff,#0062ff,#0076ff,#0089ff,#09f,#00a8ff,#00b7ff,#00c5ff,#00d3ff,#00deff,#00e4ff,#00e2ff,#00d9ff,#00cbff,#00baff,#00a7ff,#0091ff,#0078ff,#005bff,#0039ff,#001aff,#0002ff,#0000ef,#0000df,#0000d0,#0000c3,#0000b6,#0000ab,#0000a0,#000097,#000090,#00008c,#00008a,#000089,#008,#000087,#000086,#000086,#000086,#000086)"></i><i style="background:linear-gradient(90deg,#0000e1,#0000e9,#0000f4,#00f,#000bff,#0016ff,#02f,#002fff,#003fff,#0051ff,#0064ff,#0076ff,#0086ff,#0095ff,#00a5ff,#00b4ff,#00c4ff,#00d2ff,#00daff,#00daff,#00d4ff,#00c9ff,#00b9ff,#00a7ff,#0092ff,#007aff,#005dff,#003cff,#001dff,#0006ff,#0000f2,#0000e3,#0000d4,#0000c6,#0000b9,#0000ad,#0000a2,#000098,#000091,#00008d,#00008b,#000089,#008,#000087,#000086,#000086,#000086,#000086)"></i><i style="background:linear-gradient(90deg,#00d,#0000e4,#00e,#0000f8,#0003ff,#000dff,#0017ff,#0023ff,#0031ff,#0042ff,#0054ff,#0064ff,#0074ff,#0084ff,#0093ff,#00a4ff,#00b5ff,#00c5ff,#00d0ff,#00d3ff,#00cfff,#00c6ff,#00b8ff,#00a8ff,#0093ff,#007bff,#005eff,#003eff,#0020ff,#0009ff,#0000f6,#0000e6,#0000d7,#0000c9,#0000bc,#0000b0,#0000a4,#00009a,#000092,#00008e,#00008b,#000089,#008,#000087,#000087,#000086,#000086,#000086)"></i><i style="background:linear-gradient(90deg,#0000d9,#0000e0,#0000e8,#0000f1,#0000fa,#0004ff,#000eff,#0018ff,#0025ff,#0034ff,#04f,#0054ff,#0064ff,#0073ff,#0083ff,#0094ff,#00a6ff,#00b8ff,#00c5ff,#0cf,#00cbff,#00c3ff,#00b7ff,#00a8ff,#0094ff,#007cff,#0060ff,#0040ff,#02f,#000cff,#0000f9,#0000ea,#0000db,#0000cd,#0000bf,#0000b2,#0000a6,#00009b,#000093,#00008e,#00008c,#00008a,#008,#000087,#000087,#000086,#000086,#000086)"></i><i style="background:linear-gradient(90deg,#0000d5,#0000db,#0000e3,#0000eb,#0000f4,#0000fc,#0005ff,#000fff,#001bff,#0028ff,#0036ff,#0045ff,#0054ff,#0063ff,#0074ff,#0085ff,#0097ff,#00abff,#0bf,#00c5ff,#00c6ff,#00c1ff,#00b7ff,#00a9ff,#0095ff,#007dff,#0061ff,#0041ff,#0025ff,#000fff,#0000fd,#0000ed,#0000de,#0000d0,#0000c2,#0000b5,#0000a8,#00009d,#000094,#00008f,#00008c,#00008a,#008,#000087,#000087,#000086,#000086,#000086)"></i><i style="background:linear-gradient(90deg,#0000d2,#0000d7,#0000de,#0000e6,#00e,#0000f5,#0000fd,#0007ff,#01f,#001dff,#002aff,#0038ff,#0046ff,#0056ff,#06f,#07f,#008aff,#009fff,#00b2ff,#00beff,#00c2ff,#00beff,#00b6ff,#00a9ff,#0096ff,#007dff,#0062ff,#0043ff,#0027ff,#01f,#0001ff,#0000f1,#0000e2,#0000d3,#0000c5,#0000b8,#00a,#00009e,#000096,#000090,#00008d,#00008b,#000089,#000087,#000087,#000086,#000086,#000086)"></i><i style="background:linear-gradient(90deg,#0000ce,#0000d3,#0000da,#0000e1,#0000e8,#0000f0,#0000f7,#0001ff,#000aff,#0014ff,#0020ff,#002cff,#003aff,#0049ff,#005aff,#006bff,#007eff,#0093ff,#00a9ff,#00b8ff,#00beff,#0bf,#00b5ff,#0af,#0097ff,#007eff,#0062ff,#04f,#0029ff,#0014ff,#0004ff,#0000f4,#0000e5,#0000d6,#0000c8,#00b,#0000ad,#0000a0,#000097,#000091,#00008e,#00008b,#000089,#008,#000087,#000086,#000086,#000086)"></i><i style="background:linear-gradient(90deg,#0000cb,#0000d0,#0000d6,#00d,#0000e4,#0000eb,#0000f2,#0000fa,#0004ff,#000dff,#0017ff,#0023ff,#0030ff,#003fff,#004fff,#0060ff,#0073ff,#008aff,#00a1ff,#00b3ff,#00baff,#00b9ff,#00b5ff,#00abff,#0098ff,#007eff,#0063ff,#0045ff,#002bff,#0016ff,#0006ff,#0000f7,#0000e8,#0000da,#00c,#0000be,#0000b0,#0000a3,#009,#000093,#00008f,#00008c,#000089,#008,#000087,#000086,#000086,#000086)"></i><i style="background:linear-gradient(90deg,#0000c8,#00c,#0000d2,#0000d9,#0000e0,#0000e7,#00e,#0000f6,#0000fe,#0007ff,#01f,#001bff,#0028ff,#0036ff,#0046ff,#0057ff,#006aff,#0081ff,#09f,#00adff,#00b7ff,#00b7ff,#00b5ff,#00acff,#09f,#007fff,#0063ff,#0046ff,#002cff,#0019ff,#0009ff,#0000fa,#0000ec,#00d,#0000cf,#0000c1,#0000b3,#0000a5,#00009a,#000094,#000090,#00008c,#00008a,#008,#000087,#000086,#000086,#000086)"></i><i style="background:linear-gradient(90deg,#0000c5,#0000c9,#0000cf,#0000d5,#0000dc,#0000e3,#0000ea,#0000f2,#0000f9,#0002ff,#000bff,#0015ff,#0021ff,#002fff,#003eff,#004fff,#0062ff,#0079ff,#0092ff,#00a9ff,#00b4ff,#00b6ff,#00b5ff,#00adff,#009aff,#007fff,#0064ff,#0047ff,#002eff,#001bff,#000cff,#0000fd,#0000ef,#0000e1,#0000d3,#0000c4,#0000b6,#0000a8,#00009c,#000095,#000091,#00008d,#00008a,#008,#000087,#000086,#000086,#000086)"></i><i style="background:linear-gradient(90deg,#0000c2,#0000c6,#00c,#0000d2,#0000d8,#0000df,#0000e7,#00e,#0000f6,#0000fd,#0006ff,#000fff,#001bff,#0028ff,#0037ff,#0047ff,#005bff,#0072ff,#008cff,#00a4ff,#00b1ff,#00b5ff,#00b5ff,#00aeff,#009aff,#007fff,#0064ff,#0048ff,#0030ff,#001dff,#000eff,#00f,#0000f2,#0000e4,#0000d6,#0000c8,#0000b9,#00a,#00009f,#000097,#000092,#00008e,#00008a,#008,#000087,#000086,#000086,#000086)"></i><i style="background:linear-gradient(90deg,#0000c0,#0000c3,#0000c9,#0000ce,#0000d5,#0000dc,#0000e4,#0000eb,#0000f2,#0000f9,#0002ff,#000bff,#0015ff,#02f,#0030ff,#0041ff,#0054ff,#006bff,#0085ff,#009fff,#00aeff,#00b4ff,#00b5ff,#00aeff,#009aff,#007fff,#0064ff,#0049ff,#0031ff,#001fff,#0010ff,#0003ff,#0000f5,#0000e7,#0000da,#0000cb,#0000bc,#0000ad,#0000a1,#009,#000093,#00008e,#00008b,#008,#000087,#000086,#000086,#000086)"></i><i style="background:linear-gradient(90deg,#0000bd,#0000c1,#0000c6,#0000cb,#0000d2,#0000d9,#0000e0,#0000e8,#0000ef,#0000f6,#0000fd,#0006ff,#01f,#001dff,#002bff,#003bff,#004eff,#0065ff,#0080ff,#009bff,#00abff,#00b2ff,#00b3ff,#00adff,#09f,#007fff,#0064ff,#004aff,#03f,#0021ff,#0012ff,#0005ff,#0000f7,#0000ea,#00d,#0000cf,#0000bf,#0000b0,#0000a3,#00009a,#000094,#00008f,#00008b,#000089,#000087,#000086,#000086,#000086)"></i><i style="background:linear-gradient(90deg,#00b,#0000be,#0000c3,#0000c8,#0000ce,#0000d5,#00d,#0000e4,#0000eb,#0000f2,#0000fa,#0003ff,#000dff,#0019ff,#0026ff,#0036ff,#0049ff,#005fff,#007aff,#0097ff,#00a8ff,#00afff,#00b1ff,#0af,#0098ff,#007fff,#0065ff,#004bff,#0034ff,#02f,#0014ff,#0008ff,#0000fa,#0000ed,#0000e0,#0000d2,#0000c2,#0000b2,#0000a5,#00009c,#000096,#000090,#00008c,#000089,#000087,#000087,#000086,#000086)"></i><i style="background:linear-gradient(90deg,#0000b8,#00b,#0000c0,#0000c5,#0000cb,#0000d2,#0000d9,#0000e1,#0000e8,#0000ef,#0000f7,#00f,#000aff,#0015ff,#0023ff,#0032ff,#04f,#005aff,#0075ff,#0092ff,#00a4ff,#00acff,#00aeff,#00a8ff,#0096ff,#007eff,#0065ff,#004cff,#0035ff,#0024ff,#0016ff,#000aff,#0000fc,#0000f0,#0000e3,#0000d5,#0000c5,#0000b5,#0000a7,#00009e,#000097,#000091,#00008d,#000089,#008,#000087,#000086,#000086)"></i><i style="background:linear-gradient(90deg,#0000b6,#0000b9,#0000bd,#0000c2,#0000c8,#0000ce,#0000d5,#00d,#0000e4,#0000ec,#0000f4,#0000fd,#0008ff,#0013ff,#001fff,#002eff,#0040ff,#0056ff,#0071ff,#008fff,#00a1ff,#00a8ff,#0af,#00a5ff,#0094ff,#007dff,#0065ff,#004cff,#0036ff,#0025ff,#0018ff,#000cff,#00f,#0000f3,#0000e6,#0000d8,#0000c8,#0000b7,#0000a9,#0000a0,#000098,#000092,#00008d,#00008a,#008,#000087,#000086,#000086)"></i><i style="background:linear-gradient(90deg,#0000b4,#0000b7,#00b,#0000bf,#0000c4,#0000ca,#0000d1,#0000d9,#0000e1,#0000e9,#0000f2,#0000fb,#0006ff,#0010ff,#001cff,#002bff,#003dff,#0052ff,#006dff,#008bff,#009eff,#00a5ff,#00a7ff,#00a2ff,#0092ff,#007cff,#0064ff,#004dff,#0037ff,#0027ff,#001aff,#000eff,#0002ff,#0000f5,#0000e9,#0000db,#0000ca,#0000b9,#0000ab,#0000a1,#00009a,#000094,#00008f,#00008b,#000089,#000087,#000086,#000086)"></i><i style="background:linear-gradient(90deg,#0000b2,#0000b5,#0000b8,#0000bc,#0000c1,#0000c7,#0000ce,#0000d5,#00d,#0000e6,#0000ef,#0000f9,#0004ff,#000eff,#001aff,#0028ff,#0039ff,#004eff,#0069ff,#0087ff,#009aff,#00a1ff,#00a3ff,#009eff,#008fff,#007aff,#0064ff,#004dff,#0038ff,#0028ff,#001bff,#0010ff,#0004ff,#0000f8,#0000ec,#0000de,#0000cd,#0000bc,#0000ad,#0000a3,#00009b,#000095,#000090,#00008c,#000089,#008,#000087,#000086)"></i><i style="background:linear-gradient(90deg,#0000b1,#0000b3,#0000b6,#0000ba,#0000be,#0000c4,#0000ca,#0000d2,#0000da,#0000e3,#0000ed,#0000f7,#0002ff,#000cff,#0018ff,#0025ff,#0036ff,#004aff,#0064ff,#0083ff,#0096ff,#009eff,#00a0ff,#009bff,#008dff,#0079ff,#0063ff,#004dff,#0039ff,#0029ff,#001dff,#01f,#0006ff,#0000fa,#00e,#0000e0,#0000d0,#0000be,#0000af,#0000a5,#00009d,#000096,#000091,#00008d,#00008a,#008,#000087,#000086)"></i><i style="background:linear-gradient(90deg,#0000af,#0000b1,#0000b4,#0000b8,#0000bc,#0000c2,#0000c8,#0000cf,#0000d7,#0000e1,#0000ec,#0000f6,#00f,#000aff,#0015ff,#0023ff,#03f,#0046ff,#0060ff,#007fff,#0092ff,#009aff,#009cff,#0098ff,#008aff,#07f,#0062ff,#004dff,#0039ff,#002aff,#001eff,#0013ff,#0008ff,#0000fc,#0000f0,#0000e3,#0000d2,#0000c0,#0000b1,#0000a6,#00009e,#000098,#000092,#00008e,#00008b,#000089,#000087,#000086)"></i><i style="background:linear-gradient(90deg,#0000ad,#0000b0,#0000b3,#0000b7,#00b,#0000c0,#0000c6,#00c,#0000d5,#0000df,#0000ea,#0000f4,#0000fd,#0008ff,#0013ff,#0020ff,#0030ff,#0042ff,#005cff,#007bff,#008eff,#0096ff,#0098ff,#0094ff,#0087ff,#0075ff,#0061ff,#004cff,#0039ff,#002aff,#001fff,#0014ff,#000aff,#0000fe,#0000f3,#0000e5,#0000d4,#0000c2,#0000b3,#0000a8,#0000a0,#009,#000094,#00008f,#00008c,#000089,#000087,#000086)"></i><i style="background:linear-gradient(90deg,#0000ac,#0000ae,#0000b2,#0000b6,#0000ba,#0000bf,#0000c4,#0000cb,#0000d3,#00d,#0000e8,#0000f2,#0000fb,#0006ff,#0010ff,#001dff,#002cff,#003eff,#0058ff,#0076ff,#008aff,#0092ff,#0094ff,#0091ff,#0084ff,#0073ff,#0060ff,#004cff,#0039ff,#002bff,#0020ff,#0015ff,#000bff,#0001ff,#0000f5,#0000e7,#0000d7,#0000c5,#0000b5,#00a,#0000a2,#00009b,#000095,#000090,#00008d,#00008a,#008,#000086)"></i><i style="background:linear-gradient(90deg,#00a,#0000ad,#0000b1,#0000b6,#0000ba,#0000bf,#0000c3,#0000c9,#0000d1,#0000db,#0000e6,#0000f0,#0000f9,#0003ff,#000dff,#001aff,#0029ff,#003aff,#0053ff,#0071ff,#0085ff,#008dff,#0090ff,#008dff,#0081ff,#0071ff,#005eff,#004bff,#0039ff,#002bff,#0020ff,#0017ff,#000dff,#0003ff,#0000f7,#0000ea,#0000d9,#0000c7,#0000b7,#0000ac,#0000a3,#00009c,#000096,#000091,#00008d,#00008a,#008,#000086)"></i><i style="background:linear-gradient(90deg,#0000a9,#0000ac,#0000b1,#0000b6,#0000ba,#0000be,#0000c3,#0000c8,#0000d0,#0000da,#0000e4,#00e,#0000f7,#0001ff,#000bff,#0017ff,#0025ff,#0036ff,#004eff,#006bff,#007fff,#08f,#008cff,#0089ff,#007eff,#006eff,#005cff,#004aff,#0039ff,#002cff,#0021ff,#0018ff,#000eff,#0005ff,#0000f9,#0000ec,#0000db,#0000c9,#0000b9,#0000ae,#0000a5,#00009e,#000098,#000092,#00008e,#00008b,#008,#000086)"></i><i style="background:linear-gradient(90deg,#0000a9,#0000ac,#0000b1,#0000b6,#0000ba,#0000be,#0000c2,#0000c7,#0000cf,#0000d8,#0000e3,#0000ec,#0000f5,#0000fd,#0008ff,#0013ff,#02f,#0032ff,#0049ff,#06f,#007aff,#0083ff,#0087ff,#0085ff,#007aff,#006bff,#005aff,#0049ff,#0038ff,#002cff,#02f,#0019ff,#000fff,#0006ff,#0000fb,#00e,#00d,#0000cb,#00b,#0000af,#0000a7,#00009f,#009,#000094,#00008f,#00008b,#008,#000087)"></i><i style="background:linear-gradient(90deg,#0000a9,#0000ad,#0000b1,#0000b6,#0000ba,#0000be,#0000c2,#0000c7,#0000ce,#0000d7,#0000e1,#0000ea,#0000f3,#0000fb,#0005ff,#0010ff,#001eff,#002eff,#0045ff,#0060ff,#0074ff,#007eff,#0083ff,#0080ff,#0076ff,#0068ff,#0058ff,#0047ff,#0038ff,#002cff,#02f,#0019ff,#01f,#0008ff,#0000fc,#0000f0,#0000df,#0000cd,#0000bd,#0000b1,#0000a8,#0000a1,#00009a,#000095,#000090,#00008c,#000089,#000087)"></i><i style="background:linear-gradient(90deg,#0000ab,#0000ae,#0000b2,#0000b6,#0000ba,#0000be,#0000c1,#0000c6,#0000cd,#0000d6,#0000e0,#0000e9,#0000f1,#0000f9,#0003ff,#000eff,#001bff,#002aff,#0040ff,#005aff,#006dff,#0078ff,#007eff,#007cff,#0072ff,#0064ff,#05f,#0046ff,#0038ff,#002cff,#0023ff,#001aff,#01f,#0009ff,#0000fe,#0000f1,#0000e1,#0000cf,#0000bf,#0000b3,#00a,#0000a2,#00009c,#000096,#000091,#00008d,#000089,#000087)"></i><i style="background:linear-gradient(90deg,#0000ac,#0000af,#0000b3,#0000b6,#0000ba,#0000bd,#0000c1,#0000c6,#00c,#0000d5,#0000de,#0000e7,#0000ef,#0000f7,#00f,#000bff,#0018ff,#0027ff,#003bff,#0054ff,#0067ff,#0072ff,#0078ff,#0076ff,#006dff,#0060ff,#0053ff,#04f,#0037ff,#002cff,#0023ff,#001aff,#0012ff,#0009ff,#0000fe,#0000f2,#0000e2,#0000d0,#0000c0,#0000b4,#0000ab,#0000a3,#00009d,#000097,#000092,#00008d,#000089,#000087)"></i><i style="background:linear-gradient(90deg,#0000ae,#0000b1,#0000b4,#0000b7,#0000ba,#0000be,#0000c1,#0000c6,#00c,#0000d4,#00d,#0000e6,#0000ed,#0000f5,#0000fd,#0008ff,#0014ff,#0023ff,#0036ff,#004eff,#0060ff,#006cff,#0072ff,#0071ff,#0068ff,#005cff,#0050ff,#0043ff,#0036ff,#002cff,#0023ff,#001aff,#0012ff,#0009ff,#00f,#0000f3,#0000e3,#0000d1,#0000c1,#0000b5,#0000ac,#0000a5,#00009e,#000098,#000093,#00008e,#00008a,#000087)"></i><i style="background:linear-gradient(90deg,#0000b1,#0000b3,#0000b5,#0000b8,#00b,#0000be,#0000c2,#0000c6,#00c,#0000d4,#00d,#0000e5,#0000ec,#0000f3,#0000fb,#0006ff,#0012ff,#001fff,#0031ff,#0047ff,#005aff,#0065ff,#006bff,#006aff,#0063ff,#0058ff,#004dff,#0041ff,#0035ff,#002bff,#0023ff,#001aff,#0012ff,#0009ff,#00f,#0000f3,#0000e3,#0000d2,#0000c2,#0000b7,#0000ad,#0000a6,#00009f,#009,#000094,#00008f,#00008b,#008)"></i><i style="background:linear-gradient(90deg,#0000b3,#0000b5,#0000b7,#0000ba,#0000bc,#0000bf,#0000c2,#0000c7,#00c,#0000d4,#0000dc,#0000e4,#0000ea,#0000f1,#0000f9,#0004ff,#000fff,#001cff,#002cff,#0041ff,#0053ff,#005eff,#0064ff,#0064ff,#005dff,#0053ff,#0049ff,#003eff,#0034ff,#002aff,#02f,#001aff,#01f,#0009ff,#00f,#0000f3,#0000e4,#0000d3,#0000c3,#0000b8,#0000ae,#0000a7,#0000a0,#00009a,#000094,#000090,#00008b,#008)"></i><i style="background:linear-gradient(90deg,#0000b6,#0000b7,#0000b9,#0000bc,#0000be,#0000c1,#0000c4,#0000c7,#0000cd,#0000d4,#0000db,#0000e3,#0000e9,#0000f0,#0000f7,#0001ff,#000cff,#0018ff,#0028ff,#003bff,#004cff,#0057ff,#005cff,#005cff,#0057ff,#004eff,#0045ff,#003cff,#0032ff,#0029ff,#0021ff,#0019ff,#01f,#0009ff,#00f,#0000f3,#0000e4,#0000d3,#0000c4,#0000b9,#0000af,#0000a8,#0000a1,#00009b,#000095,#000090,#00008c,#000089)"></i><i style="background:linear-gradient(90deg,#0000b8,#0000ba,#0000bc,#0000be,#0000c0,#0000c2,#0000c5,#0000c8,#0000cd,#0000d4,#0000db,#0000e2,#0000e8,#00e,#0000f6,#0000fe,#000aff,#0015ff,#0023ff,#0035ff,#04f,#004fff,#05f,#05f,#0050ff,#0049ff,#0042ff,#0039ff,#002fff,#0027ff,#001fff,#0018ff,#0010ff,#0008ff,#0000fe,#0000f3,#0000e4,#0000d4,#0000c5,#0000b9,#0000b0,#0000a9,#0000a2,#00009c,#000096,#000091,#00008d,#00008a)"></i><i style="background:linear-gradient(90deg,#00b,#0000bc,#0000be,#0000c0,#0000c2,#0000c4,#0000c6,#0000c9,#0000ce,#0000d4,#0000db,#0000e1,#0000e7,#0000ed,#0000f4,#0000fd,#0008ff,#0012ff,#001fff,#0030ff,#003eff,#0048ff,#004dff,#004eff,#004aff,#0045ff,#003eff,#0036ff,#002dff,#0025ff,#001eff,#0017ff,#000fff,#0008ff,#0000fe,#0000f3,#0000e5,#0000d4,#0000c6,#0000ba,#0000b1,#0000a9,#0000a2,#00009c,#000097,#000092,#00008e,#00008b)"></i><i style="background:linear-gradient(90deg,#0000bc,#0000be,#0000bf,#0000c1,#0000c3,#0000c5,#0000c7,#0000ca,#0000ce,#0000d4,#0000da,#0000e1,#0000e6,#0000ec,#0000f3,#0000fc,#0006ff,#0010ff,#001cff,#002bff,#0039ff,#0043ff,#0048ff,#0048ff,#0046ff,#0041ff,#003bff,#0034ff,#002cff,#0024ff,#001dff,#0016ff,#000fff,#0007ff,#0000fe,#0000f3,#0000e5,#0000d5,#0000c6,#00b,#0000b2,#00a,#0000a3,#00009d,#000098,#000093,#00008f,#00008c)"></i><i style="background:linear-gradient(90deg,#0000bc,#0000be,#0000bf,#0000c1,#0000c3,#0000c5,#0000c7,#0000ca,#0000ce,#0000d4,#0000da,#0000e1,#0000e6,#0000ec,#0000f3,#0000fc,#0006ff,#0010ff,#001cff,#002bff,#0039ff,#0043ff,#0048ff,#0048ff,#0046ff,#0041ff,#003bff,#0034ff,#002cff,#0024ff,#001dff,#0016ff,#000fff,#0007ff,#0000fe,#0000f3,#0000e5,#0000d5,#0000c6,#00b,#0000b2,#00a,#0000a3,#00009d,#000098,#000093,#00008f,#00008c)"></i><i style="background:linear-gradient(90deg,#0000bc,#0000be,#0000bf,#0000c1,#0000c3,#0000c5,#0000c7,#0000ca,#0000ce,#0000d4,#0000da,#0000e1,#0000e6,#0000ec,#0000f3,#0000fc,#0006ff,#0010ff,#001cff,#002bff,#0039ff,#0043ff,#0048ff,#0048ff,#0046ff,#0041ff,#003bff,#0034ff,#002cff,#0024ff,#001dff,#0016ff,#000fff,#0007ff,#0000fe,#0000f3,#0000e5,#0000d5,#0000c6,#00b,#0000b2,#00a,#0000a3,#00009d,#000098,#000093,#00008f,#00008c)"></i><i style="background:linear-gradient(90deg,#0000bc,#0000be,#0000bf,#0000c1,#0000c3,#0000c5,#0000c7,#0000ca,#0000ce,#0000d4,#0000da,#0000e1,#0000e6,#0000ec,#0000f3,#0000fc,#0006ff,#0010ff,#001cff,#002bff,#0039ff,#0043ff,#0048ff,#0048ff,#0046ff,#0041ff,#003bff,#0034ff,#002cff,#0024ff,#001dff,#0016ff,#000fff,#0007ff,#0000fe,#0000f3,#0000e5,#0000d5,#0000c6,#00b,#0000b2,#00a,#0000a3,#00009d,#000098,#000093,#00008f,#00008c)"></i></div></div>
<div class="p" style="left:56.3px;top:339.4px"><div class="q"><i style="background:linear-gradient(90deg,#0000be,#0000bf,#0000c0,#0000c2,#0000c4,#0000c6,#0000c9,#00c,#0000cf,#0000d2,#0000d6,#0000d9,#00d,#0000e1,#0000e5,#0000eb,#0000f1,#0000f9,#0002ff,#000bff,#0016ff,#0024ff,#0030ff,#0039ff,#003eff,#0041ff,#0041ff,#003dff,#0037ff,#0031ff,#0029ff,#0021ff,#0019ff,#0010ff,#0006ff,#0000f9,#0000eb,#0000db,#00c,#0000c0,#0000b6,#0000ad,#0000a5,#00009e,#000098,#000092,#00008d,#00008a)"></i><i style="background:linear-gradient(90deg,#0000be,#0000bf,#0000c0,#0000c2,#0000c4,#0000c6,#0000c9,#00c,#0000cf,#0000d2,#0000d6,#0000d9,#00d,#0000e1,#0000e5,#0000eb,#0000f1,#0000f9,#0002ff,#000bff,#0016ff,#0024ff,#0030ff,#0039ff,#003eff,#0041ff,#0041ff,#003dff,#0037ff,#0031ff,#0029ff,#0021ff,#0019ff,#0010ff,#0006ff,#0000f9,#0000eb,#0000db,#00c,#0000c0,#0000b6,#0000ad,#0000a5,#00009e,#000098,#000092,#00008d,#00008a)"></i><i style="background:linear-gradient(90deg,#0000be,#0000bf,#0000c0,#0000c2,#0000c4,#0000c6,#0000c9,#00c,#0000cf,#0000d2,#0000d6,#0000d9,#00d,#0000e1,#0000e5,#0000eb,#0000f1,#0000f9,#0002ff,#000bff,#0016ff,#0024ff,#0030ff,#0039ff,#003eff,#0041ff,#0041ff,#003dff,#0037ff,#0031ff,#0029ff,#0021ff,#0019ff,#0010ff,#0006ff,#0000f9,#0000eb,#0000db,#00c,#0000c0,#0000b6,#0000ad,#0000a5,#00009e,#000098,#000092,#00008d,#00008a)"></i><i style="background:linear-gradient(90deg,#0000be,#0000bf,#0000c0,#0000c2,#0000c4,#0000c6,#0000c9,#00c,#0000cf,#0000d2,#0000d6,#0000d9,#00d,#0000e1,#0000e5,#0000eb,#0000f1,#0000f9,#0002ff,#000bff,#0016ff,#0024ff,#0030ff,#0039ff,#003eff,#0041ff,#0041ff,#003dff,#0037ff,#0031ff,#0029ff,#0021ff,#0019ff,#0010ff,#0006ff,#0000f9,#0000eb,#0000db,#00c,#0000c0,#0000b6,#0000ad,#0000a5,#00009e,#000098,#000092,#00008d,#00008a)"></i><i style="background:linear-gradient(90deg,#0000bd,#0000be,#0000bf,#0000c1,#0000c3,#0000c6,#0000c9,#00c,#0000cf,#0000d2,#0000d6,#0000d9,#00d,#0000e1,#0000e6,#0000eb,#0000f2,#0000f9,#0003ff,#000cff,#0017ff,#0025ff,#0032ff,#003aff,#0040ff,#0043ff,#0042ff,#003fff,#0039ff,#0032ff,#002aff,#0021ff,#0018ff,#000fff,#0005ff,#0000f9,#0000ea,#0000da,#00c,#0000c0,#0000b6,#0000ad,#0000a4,#00009d,#000097,#000092,#00008d,#00008a)"></i><i style="background:linear-gradient(90deg,#0000bc,#0000bd,#0000be,#0000c0,#0000c3,#0000c5,#0000c8,#0000cb,#0000cf,#0000d2,#0000d6,#0000d9,#00d,#0000e2,#0000e6,#0000ec,#0000f2,#0000fa,#0003ff,#000dff,#0019ff,#0027ff,#0034ff,#003cff,#0042ff,#0045ff,#04f,#0041ff,#003bff,#0034ff,#002bff,#0021ff,#0018ff,#000fff,#0005ff,#0000f8,#0000e9,#0000da,#0000cb,#0000bf,#0000b5,#0000ac,#0000a4,#00009c,#000096,#000091,#00008d,#00008a)"></i><i style="background:linear-gradient(90deg,#00b,#0000bc,#0000bd,#0000bf,#0000c2,#0000c5,#0000c8,#0000cb,#0000cf,#0000d2,#0000d6,#0000da,#0000de,#0000e2,#0000e7,#0000ed,#0000f3,#0000fb,#0004ff,#000eff,#001bff,#0029ff,#0036ff,#003eff,#04f,#0047ff,#0046ff,#0043ff,#003dff,#0035ff,#002cff,#02f,#0018ff,#000eff,#0004ff,#0000f7,#0000e9,#0000d9,#0000ca,#0000be,#0000b4,#0000ab,#0000a3,#00009b,#000095,#000090,#00008c,#000089)"></i><i style="background:linear-gradient(90deg,#0000ba,#00b,#0000bd,#0000bf,#0000c1,#0000c4,#0000c8,#0000cb,#0000cf,#0000d2,#0000d6,#0000da,#0000de,#0000e3,#0000e8,#00e,#0000f4,#0000fc,#0006ff,#0010ff,#001cff,#002bff,#0038ff,#0040ff,#0045ff,#0048ff,#0048ff,#04f,#003eff,#0037ff,#002dff,#02f,#0018ff,#000eff,#0003ff,#0000f6,#0000e7,#0000d8,#0000c9,#0000bd,#0000b3,#00a,#0000a2,#00009a,#000095,#000090,#00008c,#000089)"></i><i style="background:linear-gradient(90deg,#0000ba,#00b,#0000bc,#0000be,#0000c1,#0000c4,#0000c8,#0000cb,#0000cf,#0000d2,#0000d6,#0000da,#0000de,#0000e4,#0000e9,#0000ef,#0000f5,#0000fd,#0007ff,#01f,#001eff,#002cff,#0039ff,#0041ff,#0047ff,#004aff,#0049ff,#0046ff,#0040ff,#0038ff,#002dff,#02f,#0017ff,#000dff,#0002ff,#0000f5,#0000e6,#0000d7,#0000c8,#0000bc,#0000b2,#0000a9,#0000a1,#009,#000094,#00008f,#00008b,#000089)"></i><i style="background:linear-gradient(90deg,#0000ba,#00b,#0000bc,#0000be,#0000c1,#0000c4,#0000c8,#00c,#0000cf,#0000d2,#0000d6,#0000da,#0000df,#0000e5,#0000ea,#0000f0,#0000f6,#0000fe,#0008ff,#0013ff,#0020ff,#002eff,#003aff,#0042ff,#0048ff,#004aff,#004aff,#0046ff,#0041ff,#0038ff,#002dff,#02f,#0017ff,#000cff,#0001ff,#0000f4,#0000e5,#0000d5,#0000c7,#00b,#0000b1,#0000a8,#00009f,#000098,#000093,#00008e,#00008a,#008)"></i><i style="background:linear-gradient(90deg,#0000ba,#00b,#0000bc,#0000be,#0000c1,#0000c4,#0000c8,#00c,#0000cf,#0000d3,#0000d7,#0000db,#0000e0,#0000e6,#0000ec,#0000f2,#0000f8,#00f,#0009ff,#0014ff,#0021ff,#002fff,#003bff,#0043ff,#0048ff,#004bff,#004bff,#0047ff,#0041ff,#0039ff,#002eff,#02f,#0016ff,#000cff,#00f,#0000f3,#0000e4,#0000d4,#0000c6,#0000ba,#0000b0,#0000a6,#00009e,#000097,#000092,#00008d,#00008a,#008)"></i><i style="background:linear-gradient(90deg,#00b,#0000bc,#0000bd,#0000bf,#0000c2,#0000c5,#0000c9,#0000cd,#0000d0,#0000d4,#0000d8,#0000dc,#0000e2,#0000e8,#00e,#0000f4,#0000f9,#0001ff,#000aff,#0015ff,#0023ff,#0030ff,#003bff,#0043ff,#0048ff,#004bff,#004bff,#0047ff,#0041ff,#0039ff,#002dff,#0021ff,#0016ff,#000bff,#0000fe,#0000f1,#0000e2,#0000d2,#0000c4,#0000b8,#0000ae,#0000a5,#00009d,#000096,#000091,#00008d,#000089,#000087)"></i><i style="background:linear-gradient(90deg,#0000bc,#0000bd,#0000be,#0000c0,#0000c3,#0000c6,#0000ca,#0000ce,#0000d2,#0000d6,#0000da,#0000de,#0000e4,#0000ea,#0000f0,#0000f6,#0000fb,#0002ff,#000bff,#0017ff,#0024ff,#0031ff,#003bff,#0043ff,#0048ff,#004bff,#004bff,#0047ff,#0041ff,#0039ff,#002dff,#0021ff,#0015ff,#000aff,#0000fd,#0000ef,#0000e0,#0000d1,#0000c2,#0000b7,#0000ad,#0000a4,#00009c,#000095,#000090,#00008c,#000089,#000087)"></i><i style="background:linear-gradient(90deg,#0000be,#0000bf,#0000c0,#0000c2,#0000c5,#0000c8,#00c,#0000d0,#0000d4,#0000d8,#0000dc,#0000e1,#0000e7,#0000ed,#0000f3,#0000f8,#0000fd,#0004ff,#000cff,#0018ff,#0025ff,#0031ff,#003cff,#0043ff,#0048ff,#004bff,#004bff,#0047ff,#0041ff,#0038ff,#002dff,#0020ff,#0014ff,#0008ff,#0000fb,#00e,#0000df,#0000cf,#0000c1,#0000b5,#0000ab,#0000a2,#00009b,#000094,#00008f,#00008b,#000089,#000087)"></i><i style="background:linear-gradient(90deg,#0000c0,#0000c1,#0000c2,#0000c4,#0000c7,#0000ca,#0000ce,#0000d2,#0000d6,#0000da,#0000df,#0000e4,#0000ea,#0000f0,#0000f6,#0000fb,#00f,#0005ff,#000dff,#0019ff,#0027ff,#0032ff,#003cff,#0043ff,#0048ff,#004bff,#004bff,#0047ff,#0041ff,#0038ff,#002cff,#001fff,#0013ff,#0007ff,#0000f9,#0000ec,#00d,#0000cd,#0000bf,#0000b3,#0000a9,#0000a1,#009,#000093,#00008e,#00008b,#008,#000087)"></i><i style="background:linear-gradient(90deg,#0000c2,#0000c3,#0000c5,#0000c6,#0000c9,#00c,#0000d0,#0000d4,#0000d8,#00d,#0000e2,#0000e7,#0000ed,#0000f4,#0000f9,#0000fd,#0002ff,#0007ff,#000eff,#001bff,#0028ff,#03f,#003cff,#0043ff,#0048ff,#004bff,#004bff,#0047ff,#0041ff,#0038ff,#002cff,#001eff,#01f,#0005ff,#0000f8,#0000ea,#0000da,#0000cb,#0000bd,#0000b1,#0000a8,#00009f,#000098,#000092,#00008e,#00008a,#008,#000086)"></i><i style="background:linear-gradient(90deg,#0000c4,#0000c5,#0000c7,#0000c9,#0000cb,#0000ce,#0000d2,#0000d6,#0000db,#0000e0,#0000e5,#0000eb,#0000f1,#0000f7,#0000fc,#0001ff,#0004ff,#0008ff,#0010ff,#001dff,#002aff,#0035ff,#003dff,#0043ff,#0048ff,#004bff,#004bff,#0047ff,#0041ff,#0038ff,#002bff,#001dff,#0010ff,#0003ff,#0000f6,#0000e8,#0000d8,#0000c9,#00b,#0000b0,#0000a6,#00009e,#000097,#000091,#00008d,#00008a,#000087,#000086)"></i><i style="background:linear-gradient(90deg,#0000c6,#0000c7,#0000c9,#0000cb,#0000ce,#0000d1,#0000d5,#0000d9,#00d,#0000e3,#0000e8,#0000ed,#0000f3,#0000f9,#0000fe,#0003ff,#0006ff,#000aff,#0012ff,#001fff,#002cff,#0036ff,#003eff,#04f,#0049ff,#004cff,#004bff,#0048ff,#0041ff,#0037ff,#002aff,#001cff,#000eff,#0001ff,#0000f4,#0000e6,#0000d6,#0000c7,#0000b9,#0000ae,#0000a4,#00009c,#000095,#000090,#00008c,#000089,#000087,#000086)"></i><i style="background:linear-gradient(90deg,#0000c8,#0000c9,#0000cb,#0000ce,#0000d0,#0000d3,#0000d7,#0000db,#0000e0,#0000e5,#0000eb,#0000f0,#0000f6,#0000fb,#0001ff,#0005ff,#0008ff,#000dff,#0014ff,#02f,#002fff,#0039ff,#0040ff,#0045ff,#004aff,#004dff,#004cff,#0048ff,#0041ff,#0037ff,#0029ff,#001aff,#000dff,#0000fe,#0000f1,#0000e3,#0000d4,#0000c4,#0000b7,#0000ac,#0000a3,#00009b,#000094,#00008f,#00008b,#000089,#000087,#000086)"></i><i style="background:linear-gradient(90deg,#0000ca,#00c,#0000ce,#0000d0,#0000d3,#0000d6,#0000da,#0000de,#0000e3,#0000e8,#0000ed,#0000f3,#0000f8,#0000fd,#0003ff,#0007ff,#000bff,#000fff,#0017ff,#0025ff,#03f,#003cff,#0043ff,#0048ff,#004cff,#004eff,#004dff,#0049ff,#0041ff,#0037ff,#0028ff,#0019ff,#000bff,#0000fc,#0000ef,#0000e1,#0000d2,#0000c2,#0000b5,#00a,#0000a1,#009,#000093,#00008e,#00008a,#008,#000087,#000086)"></i><i style="background:linear-gradient(90deg,#00c,#0000ce,#0000d0,#0000d3,#0000d6,#0000d9,#00d,#0000e1,#0000e5,#0000eb,#0000f0,#0000f5,#0000fb,#00f,#0005ff,#0009ff,#000dff,#0012ff,#001bff,#0029ff,#0037ff,#0040ff,#0046ff,#004bff,#004eff,#0050ff,#004fff,#004aff,#0042ff,#0036ff,#0027ff,#0017ff,#0009ff,#0000fa,#0000ec,#0000de,#0000cf,#0000c0,#0000b3,#0000a9,#0000a0,#000098,#000091,#00008c,#000089,#008,#000087,#000086)"></i><i style="background:linear-gradient(90deg,#0000ce,#0000d0,#0000d3,#0000d5,#0000d9,#0000dc,#0000df,#0000e3,#0000e8,#0000ed,#0000f3,#0000f8,#0000fd,#0002ff,#0007ff,#000bff,#0010ff,#0015ff,#001fff,#002eff,#003cff,#0045ff,#004bff,#004eff,#0051ff,#0052ff,#0051ff,#004bff,#0042ff,#0036ff,#0026ff,#0015ff,#0006ff,#0000f8,#0000ea,#0000dc,#0000cd,#0000be,#0000b1,#0000a7,#00009e,#000096,#000090,#00008b,#000089,#000087,#000086,#000086)"></i><i style="background:linear-gradient(90deg,#0000d0,#0000d2,#0000d5,#0000d8,#0000db,#0000df,#0000e2,#0000e6,#0000eb,#0000f0,#0000f6,#0000fb,#00f,#0004ff,#0009ff,#000dff,#0012ff,#0019ff,#0023ff,#03f,#0041ff,#0049ff,#004fff,#0052ff,#0054ff,#05f,#0053ff,#004cff,#0042ff,#0035ff,#0025ff,#0014ff,#0004ff,#0000f5,#0000e7,#0000d9,#0000ca,#0000bc,#0000af,#0000a5,#00009d,#000095,#00008f,#00008b,#008,#000087,#000086,#000086)"></i><i style="background:linear-gradient(90deg,#0000d2,#0000d4,#0000d7,#0000da,#0000de,#0000e1,#0000e5,#0000e9,#00e,#0000f3,#0000f8,#0000fd,#0002ff,#0006ff,#000bff,#0010ff,#0015ff,#001cff,#0027ff,#0038ff,#0046ff,#004eff,#0054ff,#0056ff,#0057ff,#0057ff,#0054ff,#004dff,#0042ff,#0034ff,#0023ff,#0012ff,#0002ff,#0000f2,#0000e4,#0000d6,#0000c7,#0000b9,#0000ad,#0000a3,#00009b,#000094,#00008e,#00008a,#008,#000087,#000086,#000086)"></i><i style="background:linear-gradient(90deg,#0000d4,#0000d6,#0000d9,#00d,#0000e0,#0000e4,#0000e8,#0000ec,#0000f1,#0000f6,#0000fb,#0001ff,#0005ff,#0009ff,#000dff,#0012ff,#0019ff,#0020ff,#002cff,#003dff,#004bff,#0053ff,#0058ff,#005aff,#005aff,#0059ff,#0056ff,#004eff,#0042ff,#0034ff,#02f,#0010ff,#0000fe,#0000ef,#0000e1,#0000d3,#0000c5,#0000b7,#0000ab,#0000a2,#00009a,#000093,#00008d,#00008a,#000087,#000087,#000086,#000086)"></i><i style="background:linear-gradient(90deg,#0000d5,#0000d8,#0000db,#0000df,#0000e2,#0000e6,#0000ea,#0000ef,#0000f3,#0000f9,#0000fe,#0003ff,#0007ff,#000bff,#0010ff,#0016ff,#001dff,#0025ff,#0031ff,#0042ff,#0050ff,#0058ff,#005cff,#005dff,#005dff,#005bff,#0057ff,#004fff,#0042ff,#0032ff,#0020ff,#000dff,#0000fc,#0000ec,#0000de,#0000d0,#0000c2,#0000b4,#0000a9,#0000a0,#009,#000092,#00008d,#000089,#000087,#000086,#000086,#000086)"></i><i style="background:linear-gradient(90deg,#0000d7,#0000da,#00d,#0000e0,#0000e4,#0000e8,#0000ed,#0000f1,#0000f6,#0000fb,#0001ff,#0006ff,#000aff,#000eff,#0013ff,#0019ff,#0021ff,#0029ff,#0036ff,#0047ff,#05f,#005cff,#0060ff,#0061ff,#0060ff,#005eff,#0059ff,#004fff,#0041ff,#0031ff,#001eff,#000bff,#0000f9,#0000e9,#0000db,#00c,#0000bf,#0000b2,#0000a7,#00009f,#000098,#000091,#00008c,#000089,#000087,#000086,#000086,#000086)"></i><i style="background:linear-gradient(90deg,#0000d9,#0000db,#0000de,#0000e2,#0000e6,#0000ea,#0000ef,#0000f4,#0000f9,#0000fe,#0004ff,#0008ff,#000dff,#01f,#0016ff,#001dff,#0025ff,#002eff,#003bff,#004dff,#005bff,#0061ff,#0064ff,#0064ff,#0063ff,#0060ff,#005aff,#004fff,#0040ff,#002fff,#001cff,#0009ff,#0000f6,#0000e6,#0000d7,#0000c9,#0000bc,#0000af,#0000a5,#00009d,#000096,#000091,#00008c,#000089,#000087,#000086,#000086,#000086)"></i><i style="background:linear-gradient(90deg,#0000db,#00d,#0000e0,#0000e4,#0000e8,#0000ed,#0000f2,#0000f7,#0000fc,#0002ff,#0006ff,#000bff,#000fff,#0014ff,#001aff,#0021ff,#002bff,#0034ff,#0040ff,#0053ff,#0060ff,#0065ff,#0067ff,#0067ff,#0065ff,#0062ff,#005bff,#004fff,#003fff,#002dff,#0019ff,#0006ff,#0000f3,#0000e3,#0000d4,#0000c6,#0000b9,#0000ad,#0000a3,#00009b,#000095,#000090,#00008c,#000089,#000087,#000086,#000086,#000086)"></i><i style="background:linear-gradient(90deg,#0000dc,#0000df,#0000e2,#0000e6,#0000ea,#0000ef,#0000f4,#0000f9,#0000fe,#0004ff,#0009ff,#000eff,#0013ff,#0017ff,#001eff,#0026ff,#0030ff,#0039ff,#0047ff,#0059ff,#06f,#006aff,#006bff,#006bff,#0068ff,#0064ff,#005cff,#004eff,#003dff,#002aff,#0016ff,#0003ff,#0000f0,#0000df,#0000d0,#0000c2,#0000b5,#00a,#0000a1,#00009a,#000094,#00008f,#00008b,#008,#000087,#000086,#000086,#000086)"></i><i style="background:linear-gradient(90deg,#0000de,#0000e0,#0000e4,#0000e7,#0000ec,#0000f1,#0000f6,#0000fc,#0002ff,#0007ff,#000cff,#01f,#0016ff,#001bff,#02f,#002cff,#0036ff,#0040ff,#004dff,#0060ff,#006cff,#006fff,#006fff,#006eff,#006bff,#06f,#005dff,#004eff,#003bff,#0027ff,#0013ff,#00f,#0000ec,#0000dc,#00c,#0000bf,#0000b2,#0000a7,#00009f,#000098,#000093,#00008e,#00008b,#008,#000087,#000086,#000086,#000086)"></i><i style="background:linear-gradient(90deg,#0000e0,#0000e2,#0000e5,#0000e9,#00e,#0000f3,#0000f8,#0000fe,#0004ff,#000aff,#0010ff,#0015ff,#001aff,#0020ff,#0027ff,#0031ff,#003dff,#0047ff,#05f,#0067ff,#0072ff,#0074ff,#0073ff,#0071ff,#006eff,#0068ff,#005eff,#004dff,#0039ff,#0024ff,#0010ff,#0000fb,#0000e9,#0000d8,#0000c8,#00b,#0000af,#0000a5,#00009d,#000097,#000092,#00008e,#00008a,#008,#000087,#000086,#000086,#000086)"></i><i style="background:linear-gradient(90deg,#0000e2,#0000e4,#0000e7,#0000eb,#0000f0,#0000f5,#0000fa,#0001ff,#0007ff,#000dff,#0013ff,#001aff,#001fff,#0025ff,#002dff,#0038ff,#0045ff,#0050ff,#005dff,#006fff,#0078ff,#0079ff,#07f,#0075ff,#0071ff,#006aff,#005fff,#004cff,#0036ff,#0021ff,#000cff,#0000f7,#0000e5,#0000d4,#0000c4,#0000b7,#0000ac,#0000a2,#00009a,#000095,#000090,#00008d,#00008a,#008,#000087,#000086,#000086,#000086)"></i><i style="background:linear-gradient(90deg,#0000e4,#0000e6,#0000e9,#0000ed,#0000f2,#0000f7,#0000fc,#0003ff,#0009ff,#0010ff,#0018ff,#001fff,#0025ff,#002cff,#0034ff,#0040ff,#004dff,#0059ff,#0067ff,#07f,#007fff,#007eff,#007bff,#0078ff,#0073ff,#006cff,#0060ff,#004bff,#0034ff,#001dff,#0007ff,#0000f2,#0000e0,#0000cf,#0000c1,#0000b4,#0000a9,#0000a0,#000098,#000093,#00008f,#00008c,#000089,#008,#000087,#000086,#000086,#000086)"></i><i style="background:linear-gradient(90deg,#0000e5,#0000e8,#0000ec,#0000f0,#0000f4,#0000f9,#0000fe,#0005ff,#000cff,#0014ff,#001dff,#0025ff,#002cff,#0034ff,#003dff,#0049ff,#0058ff,#0064ff,#0072ff,#0080ff,#0087ff,#0085ff,#0080ff,#007bff,#0076ff,#006eff,#0060ff,#004aff,#0030ff,#0018ff,#0002ff,#0000ed,#0000db,#0000cb,#0000bd,#0000b0,#0000a6,#00009d,#000096,#000091,#00008e,#00008b,#000089,#000087,#000087,#000086,#000086,#000086)"></i><i style="background:linear-gradient(90deg,#0000e7,#0000ea,#00e,#0000f2,#0000f7,#0000fc,#0002ff,#0009ff,#0010ff,#0019ff,#02f,#002bff,#0034ff,#003dff,#0047ff,#05f,#0064ff,#0071ff,#007eff,#008aff,#008fff,#008cff,#0085ff,#007fff,#0079ff,#0070ff,#0061ff,#0048ff,#002cff,#0013ff,#0000fc,#0000e8,#0000d6,#0000c6,#0000b8,#0000ad,#0000a3,#00009a,#000094,#000090,#00008d,#00008a,#008,#000087,#000087,#000086,#000086,#000086)"></i><i style="background:linear-gradient(90deg,#0000e9,#0000ec,#0000f0,#0000f5,#0000fa,#00f,#0006ff,#000dff,#0015ff,#001eff,#0028ff,#0032ff,#003cff,#0047ff,#0053ff,#0062ff,#0072ff,#007fff,#008bff,#0095ff,#09f,#0093ff,#008bff,#0084ff,#007cff,#0073ff,#0061ff,#0046ff,#0028ff,#000eff,#0000f6,#0000e2,#0000d1,#0000c2,#0000b4,#00a,#0000a0,#000098,#000092,#00008e,#00008c,#00008a,#008,#000087,#000086,#000086,#000086,#000086)"></i><i style="background:linear-gradient(90deg,#0000eb,#00e,#0000f3,#0000f8,#0000fe,#0005ff,#000cff,#0014ff,#001cff,#0026ff,#0030ff,#003bff,#0047ff,#0054ff,#0062ff,#0072ff,#0082ff,#008eff,#09f,#00a2ff,#00a4ff,#009dff,#0092ff,#08f,#0080ff,#0075ff,#0061ff,#04f,#0023ff,#0008ff,#0000f0,#0000dc,#0000cb,#0000bd,#0000b1,#0000a6,#00009d,#000096,#000090,#00008d,#00008b,#000089,#008,#000087,#000086,#000086,#000086,#000086)"></i><i style="background:linear-gradient(90deg,#0000ed,#0000f1,#0000f6,#0000fc,#0003ff,#000bff,#0014ff,#001dff,#0026ff,#0031ff,#003cff,#0048ff,#0054ff,#0062ff,#0072ff,#0083ff,#0093ff,#009eff,#00a8ff,#00b0ff,#00b1ff,#00a7ff,#09f,#008dff,#0083ff,#0076ff,#0061ff,#0040ff,#001eff,#0001ff,#0000e9,#0000d6,#0000c6,#0000b8,#0000ad,#0000a3,#00009b,#000094,#00008f,#00008c,#00008a,#000089,#008,#000087,#000086,#000086,#000086,#000086)"></i><i style="background:linear-gradient(90deg,#0000ef,#0000f3,#0000f9,#0002ff,#000aff,#0014ff,#001fff,#002aff,#0035ff,#0040ff,#004cff,#0058ff,#0065ff,#0073ff,#0083ff,#0095ff,#00a5ff,#00afff,#00b8ff,#00c0ff,#00c0ff,#00b3ff,#00a1ff,#0092ff,#0086ff,#0078ff,#0060ff,#003cff,#0017ff,#0000f9,#0000e2,#0000cf,#0000c0,#0000b3,#0000a9,#0000a0,#009,#000092,#00008e,#00008b,#000089,#008,#000087,#000087,#000086,#000086,#000086,#000086)"></i><i style="background:linear-gradient(90deg,#0000f1,#0000f6,#0000fe,#0008ff,#0012ff,#001fff,#002dff,#003bff,#0048ff,#0054ff,#0060ff,#006dff,#007aff,#0087ff,#0096ff,#00a8ff,#00b8ff,#00c0ff,#00c7ff,#00d0ff,#00cfff,#00beff,#00a8ff,#0096ff,#08f,#0078ff,#005dff,#0037ff,#000fff,#0000f1,#0000da,#0000c8,#0000ba,#0000af,#0000a5,#00009d,#000096,#000091,#00008d,#00008a,#000089,#008,#000087,#000087,#000086,#000086,#000086,#000086)"></i><i style="background:linear-gradient(90deg,#0000f5,#0000fb,#0005ff,#0010ff,#001dff,#002dff,#003eff,#004fff,#005eff,#006bff,#0078ff,#0085ff,#0091ff,#009dff,#00abff,#00bcff,#00cbff,#00d1ff,#00d6ff,#00deff,#00dcff,#00c9ff,#00afff,#009aff,#008aff,#0078ff,#005aff,#0030ff,#0007ff,#0000e7,#0000d2,#0000c1,#0000b4,#00a,#0000a2,#00009b,#000094,#00008f,#00008c,#00008a,#000089,#008,#000087,#000087,#000086,#000086,#000086,#000086)"></i><i style="background:linear-gradient(90deg,#0000f9,#0002ff,#000dff,#001aff,#002aff,#003dff,#0053ff,#06f,#07f,#0085ff,#0092ff,#009eff,#0af,#00b5ff,#00c1ff,#00d0ff,#0df,#00e1ff,#00e3ff,#00eaff,#00e6ff,#00d0ff,#00b3ff,#009cff,#008aff,#0075ff,#05f,#0028ff,#0000fc,#0000de,#0000c9,#0000ba,#0000af,#0000a6,#00009e,#000098,#000093,#00008e,#00008b,#000089,#008,#000087,#000087,#000086,#000086,#000086,#000086,#000086)"></i><i style="background:linear-gradient(90deg,#0001ff,#000aff,#0017ff,#0027ff,#003aff,#0051ff,#006aff,#0080ff,#0092ff,#00a0ff,#00aeff,#00b9ff,#00c4ff,#00cdff,#00d8ff,#00e5ff,#00efff,#00efff,#0ef,#00f2ff,#00edff,#00d5ff,#00b7ff,#009dff,#08f,#0071ff,#004eff,#001fff,#0000f2,#0000d5,#0000c1,#0000b4,#0000a9,#0000a1,#00009b,#000096,#000091,#00008d,#00008a,#000089,#008,#000087,#000087,#000086,#000086,#000086,#000086,#000086)"></i><i style="background:linear-gradient(90deg,#0009ff,#0014ff,#0025ff,#0038ff,#004eff,#0068ff,#0083ff,#009bff,#00aeff,#00bdff,#00caff,#00d5ff,#00deff,#00e7ff,#00f0ff,#00fbff,#02fffd,#00feff,#00f8ff,#00f7ff,#00f0ff,#00d8ff,#00b8ff,#009dff,#0084ff,#0069ff,#04f,#0014ff,#0000e7,#00c,#0000ba,#0000ae,#0000a5,#00009e,#000098,#000094,#000090,#00008c,#00008a,#000089,#008,#000087,#000087,#000086,#000086,#000086,#000086,#000086)"></i><i style="background:linear-gradient(90deg,#0014ff,#02f,#0036ff,#004cff,#0065ff,#0082ff,#009fff,#00b8ff,#00cbff,#00daff,#00e6ff,#00f1ff,#00faff,#03fffc,#0afff5,#1fe,#14ffeb,#0dfff2,#02fffd,#00fbff,#00f0ff,#00d7ff,#00b8ff,#009aff,#007fff,#0060ff,#0038ff,#0008ff,#0000de,#0000c4,#0000b4,#00a,#0000a1,#00009b,#000096,#000092,#00008e,#00008c,#000089,#008,#008,#000087,#000087,#000086,#000086,#000086,#000086,#000086)"></i><i style="background:linear-gradient(90deg,#0023ff,#0034ff,#004bff,#0065ff,#0080ff,#009fff,#00bdff,#00d7ff,#00e9ff,#00f8ff,#04fffb,#0efff1,#17ffe8,#1effe1,#23ffdc,#27ffd8,#27ffd8,#1bffe4,#09fff6,#00fcff,#00edff,#00d4ff,#00b5ff,#0096ff,#0076ff,#0054ff,#002bff,#0000fc,#0000d5,#0000be,#0000b0,#0000a6,#00009f,#009,#000094,#000091,#00008e,#00008b,#000089,#008,#000087,#000087,#000087,#000086,#000086,#000086,#000086,#000086)"></i><i style="background:linear-gradient(90deg,#0035ff,#0049ff,#0064ff,#0081ff,#009fff,#00bfff,#00deff,#00f7ff,#0afff5,#17ffe8,#2fd,#2bffd4,#32ffcd,#38ffc7,#3cffc3,#3dffc2,#39ffc6,#28ffd7,#10ffef,#00fbff,#00e6ff,#0cf,#00aeff,#008dff,#006bff,#0046ff,#001dff,#0000f1,#0000ce,#0000b9,#0000ac,#0000a3,#00009d,#000097,#000093,#000090,#00008d,#00008a,#000089,#008,#000087,#000087,#000086,#000086,#000086,#000086,#000086,#000086)"></i><i style="background:linear-gradient(90deg,#004cff,#0063ff,#0081ff,#00a0ff,#00bfff,#00e0ff,#01fffe,#19ffe6,#2affd5,#37ffc8,#41ffbe,#48ffb7,#4effb1,#52ffad,#54ffab,#53ffac,#4bffb4,#34ffcb,#14ffeb,#00f7ff,#0df,#00c1ff,#00a2ff,#0081ff,#005cff,#0036ff,#000fff,#0000e7,#0000c7,#0000b4,#0000a9,#0000a1,#00009b,#000096,#000092,#00008f,#00008c,#00008a,#008,#008,#000087,#000087,#000086,#000086,#000086,#000086,#000086,#000086)"></i><i style="background:linear-gradient(90deg,#0068ff,#0081ff,#00a0ff,#00c1ff,#00e2ff,#05fffa,#25ffda,#3dffc2,#4dffb2,#58ffa7,#60ff9f,#6f9,#69ff96,#6bff94,#6aff95,#6f9,#5bffa4,#3effc1,#16ffe9,#00f1ff,#00d1ff,#00b3ff,#0093ff,#0071ff,#004bff,#0025ff,#00f,#0000dc,#0000c1,#0000b0,#0000a6,#00009f,#009,#000094,#000091,#00008e,#00008b,#00008a,#008,#000087,#000087,#000087,#000086,#000086,#000086,#000086,#000086,#000086)"></i><i style="background:linear-gradient(90deg,#0089ff,#00a3ff,#00c4ff,#00e6ff,#08fff7,#2bffd4,#4bffb4,#62ff9d,#71ff8e,#7aff85,#81ff7e,#84ff7b,#85ff7a,#83ff7c,#7fff80,#7f8,#68ff97,#46ffb9,#16ffe9,#00e9ff,#00c3ff,#00a3ff,#0082ff,#005fff,#0039ff,#0014ff,#0000f1,#0000d3,#0000bc,#0000ad,#0000a4,#00009d,#000098,#000093,#000090,#00008d,#00008b,#000089,#008,#000087,#000087,#000087,#000086,#000086,#000086,#000086,#000086,#000086)"></i><i style="background:linear-gradient(90deg,#00afff,#00caff,#00edff,#10ffef,#32ffcd,#54ffab,#73ff8c,#8f7,#94ff6b,#9cff63,#a1ff5e,#a2ff5d,#a0ff5f,#9f6,#91ff6e,#86ff79,#73ff8c,#4bffb4,#14ffeb,#00dfff,#00b4ff,#0092ff,#0071ff,#004dff,#0028ff,#0004ff,#0000e5,#0000ca,#0000b7,#00a,#0000a2,#00009c,#000097,#000092,#00008f,#00008c,#00008a,#000089,#008,#000087,#000087,#000086,#000086,#000086,#000086,#000086,#000086,#000086)"></i><i style="background:linear-gradient(90deg,#00d9ff,#00f6ff,#1bffe4,#3effc1,#5fffa0,#7fff80,#9bff64,#aeff51,#b7ff48,#bcff43,#bfff40,#beff41,#b9ff46,#afff50,#a2ff5d,#93ff6c,#7bff84,#4effb1,#10ffef,#00d4ff,#00a4ff,#0080ff,#005eff,#003cff,#0017ff,#0000f5,#0000d9,#0000c3,#0000b3,#0000a8,#0000a0,#00009a,#000096,#000092,#00008e,#00008c,#00008a,#000089,#008,#000087,#000087,#000086,#000086,#000086,#000086,#000086,#000086,#000086)"></i><i style="background:linear-gradient(90deg,#05fffa,#24ffdb,#4bffb4,#6eff91,#8dff72,#af5,#c3ff3c,#d2ff2d,#d8ff27,#daff25,#dbff24,#d8ff27,#d0ff2f,#c2ff3d,#b1ff4e,#9dff62,#80ff7f,#4fffb0,#0bfff4,#00c7ff,#0093ff,#006dff,#004cff,#002aff,#0008ff,#0000e8,#0000d0,#0000bd,#0000af,#0000a5,#00009f,#009,#000095,#000091,#00008e,#00008c,#00008a,#008,#000087,#000087,#000087,#000086,#000086,#000086,#000086,#000086,#000086,#000086)"></i><i style="background:linear-gradient(90deg,#3fc,#53ffac,#7aff85,#9cff63,#baff45,#d3ff2c,#e8ff17,#f4ff0b,#f7ff08,#f7ff08,#f4ff0b,#efff10,#e3ff1c,#d2ff2d,#bdff42,#a5ff5a,#83ff7c,#4cffb3,#03fffc,#00b9ff,#0081ff,#005aff,#003aff,#001aff,#0000f9,#0000de,#0000c8,#0000b8,#0000ac,#0000a3,#00009d,#000098,#000094,#000090,#00008d,#00008b,#000089,#008,#000087,#000087,#000086,#000086,#000086,#000086,#000086,#000086,#000086,#000086)"></i><i style="background:linear-gradient(90deg,#64ff9b,#83ff7c,#a8ff57,#c8ff37,#e2ff1d,#f9ff06,#fff400,#ffeb00,#ffea00,#ffed00,#fff300,#fffb00,#f4ff0b,#dfff20,#c7ff38,#abff54,#84ff7b,#49ffb6,#00f9ff,#00abff,#0070ff,#0048ff,#0028ff,#000bff,#0000ed,#0000d4,#0000c2,#0000b4,#00a,#0000a2,#00009c,#000097,#000093,#000090,#00008d,#00008b,#000089,#008,#000087,#000087,#000086,#000086,#000086,#000086,#000086,#000086,#000086,#000086)"></i><i style="background:linear-gradient(90deg,#98ff67,#b3ff4c,#d4ff2b,#f1ff0e,#fff700,#ffe500,#ffd600,#ffcf00,#ffd000,#ffd500,#ffde00,#ffeb00,#fffd00,#e9ff16,#cdff32,#adff52,#84ff7b,#4fb,#00efff,#009cff,#005fff,#0037ff,#0018ff,#0000fb,#0000e2,#00c,#0000bc,#0000b0,#0000a7,#0000a0,#00009b,#000096,#000092,#00008f,#00008d,#00008b,#000089,#008,#000087,#000086,#000086,#000086,#000086,#000086,#000086,#000086,#000086,#000086)"></i><i style="background:linear-gradient(90deg,#c9ff36,#e1ff1e,#fdff02,#ffe900,#ffd700,#ffc800,#ffbd00,#ffb800,#ffba00,#ffc200,#ffcd00,#fd0,#fff200,#efff10,#d0ff2f,#aeff51,#82ff7d,#3effc1,#00e5ff,#008eff,#004fff,#0027ff,#0009ff,#0000ef,#0000d8,#0000c5,#0000b7,#0000ad,#0000a5,#00009f,#00009a,#000095,#000092,#00008f,#00008c,#00008a,#000089,#008,#000087,#000086,#000086,#000086,#000086,#000086,#000086,#000086,#000086,#000086)"></i><i style="background:linear-gradient(90deg,#f4ff0b,#fff500,#ffde00,#ffca00,#ffbc00,#ffb100,#ffa900,#ffa500,#ffa800,#ffb200,#ffc000,#ffd200,#ffeb00,#f4ff0b,#d1ff2e,#adff52,#7fff80,#38ffc7,#00dbff,#0081ff,#0041ff,#0019ff,#0000fb,#0000e4,#0000cf,#0000bf,#0000b3,#0000ab,#0000a3,#00009e,#009,#000094,#000091,#00008e,#00008c,#00008a,#000089,#000087,#000087,#000086,#000086,#000086,#000086,#000086,#000086,#000086,#000086,#000086)"></i><i style="background:linear-gradient(90deg,#ffe800,#ffd600,#ffc200,#ffb100,#ffa600,#ff9e00,#ff9800,#ff9600,#ff9a00,#ffa500,#ffb500,#ffca00,#ffe500,#f7ff08,#d2ff2d,#acff53,#7cff83,#31ffce,#00d1ff,#0075ff,#0034ff,#000cff,#0000ef,#0000da,#0000c8,#0000ba,#0000b0,#0000a8,#0000a2,#00009c,#000098,#000094,#000090,#00008e,#00008c,#00008a,#000089,#000087,#000087,#000086,#000086,#000086,#000086,#000086,#000086,#000086,#000086,#000086)"></i><i style="background:linear-gradient(90deg,#ffcf00,#ffc000,#ffae00,#ff9f00,#ff9600,#ff8f00,#ff8b00,#ff8900,#ff8e00,#ff9b00,#ffad00,#ffc400,#ffe100,#f9ff06,#d2ff2d,#acff53,#7aff85,#2cffd3,#00c7ff,#006aff,#0029ff,#0002ff,#0000e5,#0000d1,#0000c2,#0000b6,#0000ad,#0000a6,#0000a0,#00009b,#000096,#000093,#000090,#00008d,#00008b,#00008a,#008,#000087,#000086,#000086,#000086,#000086,#000086,#000086,#000086,#000086,#000086,#000086)"></i><i style="background:linear-gradient(90deg,#ffc000,#ffb100,#ffa100,#ff9400,#ff8b00,#ff8500,#ff8100,#ff8100,#ff8600,#ff9300,#ffa700,#ffbf00,#ffde00,#faff05,#d3ff2c,#abff54,#79ff86,#28ffd7,#00c0ff,#0062ff,#0021ff,#0000f8,#00d,#0000ca,#0000bd,#0000b3,#0000ab,#0000a4,#00009f,#00009a,#000095,#000092,#00008f,#00008d,#00008b,#00008a,#008,#000087,#000086,#000086,#000086,#000086,#000086,#000086,#000086,#000086,#000086,#000086)"></i><i style="background:linear-gradient(90deg,#ffb800,#fa0,#ff9a00,#ff8e00,#ff8500,#ff8000,#ff7c00,#ff7b00,#ff8100,#ff8f00,#ffa400,#ffbc00,#ffdc00,#fbff04,#d3ff2c,#abff54,#78ff87,#26ffd9,#00bcff,#005dff,#001cff,#0000f2,#0000d7,#0000c6,#0000b9,#0000b0,#0000a9,#0000a3,#00009e,#009,#000094,#000091,#00008e,#00008c,#00008b,#00008a,#008,#000087,#000086,#000086,#000086,#000086,#000086,#000086,#000086,#000086,#000086,#000086)"></i><i style="background:linear-gradient(90deg,#ffb800,#fa0,#ff9a00,#ff8e00,#ff8500,#ff8000,#ff7c00,#ff7b00,#ff8100,#ff8f00,#ffa300,#ffbc00,#ffdc00,#fcff03,#d3ff2c,#abff54,#78ff87,#25ffda,#0bf,#005cff,#001bff,#0000f1,#0000d5,#0000c3,#0000b7,#0000ae,#0000a7,#0000a1,#00009d,#000098,#000093,#000090,#00008d,#00008c,#00008b,#000089,#008,#000087,#000086,#000086,#000086,#000086,#000086,#000086,#000086,#000086,#000086,#000086)"></i><i style="background:linear-gradient(90deg,#ffc000,#ffb200,#ffa100,#ff9400,#ff8b00,#ff8500,#ff8000,#ff7f00,#ff8400,#ff9200,#ffa500,#ffbd00,#ffdc00,#fbff04,#d3ff2c,#abff54,#78ff87,#27ffd8,#00beff,#0060ff,#001eff,#0000f3,#0000d7,#0000c4,#0000b6,#0000ad,#0000a5,#0000a0,#00009c,#000097,#000092,#00008f,#00008d,#00008b,#00008a,#000089,#008,#000087,#000086,#000086,#000086,#000086,#000086,#000086,#000086,#000086,#000086,#000086)"></i><i style="background:linear-gradient(90deg,#ffd000,#ffc100,#ffaf00,#ffa100,#ff9700,#ff9000,#ff8a00,#f80,#ff8d00,#ff9800,#fa0,#ffc000,#ffde00,#fbff04,#d3ff2c,#abff54,#79ff86,#29ffd6,#00c3ff,#0068ff,#0026ff,#0000fa,#0000dc,#0000c7,#0000b7,#0000ac,#0000a5,#00009f,#00009b,#000096,#000091,#00008e,#00008c,#00008b,#00008a,#000089,#008,#000087,#000086,#000086,#000086,#000086,#000086,#000086,#000086,#000086,#000086,#000086)"></i><i style="background:linear-gradient(90deg,#ffe700,#ffd800,#ffc600,#ffb600,#fa0,#ffa000,#f90,#ff9500,#ff9800,#ffa200,#ffb000,#ffc400,#ffe000,#faff05,#d3ff2c,#acff53,#7aff85,#2dffd2,#00cbff,#0072ff,#0031ff,#0004ff,#0000e3,#0000cb,#0000b9,#0000ac,#0000a4,#00009f,#00009b,#000096,#000091,#00008e,#00008c,#00008b,#00008a,#000089,#008,#000087,#000086,#000086,#000086,#000086,#000086,#000086,#000086,#000086,#000086,#000086)"></i><i style="background:linear-gradient(90deg,#f9ff06,#fff500,#ffe300,#ffd200,#ffc400,#ffb600,#ffab00,#ffa500,#ffa700,#ffae00,#ffb900,#ffc900,#ffe200,#f9ff06,#d2ff2d,#acff53,#7cff83,#32ffcd,#00d5ff,#007fff,#003dff,#000fff,#0000eb,#0000d1,#0000bd,#0000ae,#0000a5,#0000a0,#00009b,#000096,#000091,#00008e,#00008c,#00008b,#00008a,#000089,#008,#000087,#000086,#000086,#000086,#000086,#000086,#000086,#000086,#000086,#000086,#000086)"></i><i style="background:linear-gradient(90deg,#d6ff29,#e6ff19,#f9ff06,#fff200,#ffe000,#ffcf00,#ffbf00,#ffb700,#ffb700,#fb0,#ffc300,#ffcf00,#ffe600,#f7ff08,#d2ff2d,#adff52,#7fff80,#38ffc7,#00dfff,#008cff,#004bff,#001aff,#0000f4,#0000d7,#0000c1,#0000b1,#0000a7,#0000a1,#00009c,#000097,#000091,#00008e,#00008c,#00008b,#00008a,#000089,#008,#000087,#000086,#000086,#000086,#000086,#000086,#000086,#000086,#000086,#000086,#000086)"></i><i style="background:linear-gradient(90deg,#afff50,#c0ff3f,#d5ff2a,#eaff15,#ff0,#ffe900,#ffd500,#ffca00,#ffc800,#ffca00,#ffce00,#ffd700,#ffeb00,#f4ff0b,#d1ff2e,#aeff51,#82ff7d,#3fffc0,#00eaff,#009aff,#0059ff,#0026ff,#0000fd,#0000df,#0000c7,#0000b6,#0000ab,#0000a3,#00009d,#000098,#000092,#00008e,#00008d,#00008b,#00008b,#000089,#008,#000087,#000086,#000086,#000086,#000086,#000086,#000086,#000086,#000086,#000086,#000086)"></i><i style="background:linear-gradient(90deg,#8f7,#9aff65,#b2ff4d,#c9ff36,#e2ff1d,#fbff04,#ffeb00,#ffde00,#ffd900,#ffd900,#ffdb00,#ffe000,#fff100,#f0ff0f,#d0ff2f,#afff50,#86ff79,#46ffb9,#00f6ff,#00a8ff,#0067ff,#0032ff,#0008ff,#0000e7,#0000ce,#0000bc,#0000af,#0000a6,#00009f,#009,#000093,#00008f,#00008d,#00008c,#00008b,#00008a,#008,#000087,#000086,#000086,#000086,#000086,#000086,#000086,#000086,#000086,#000086,#000086)"></i><i style="background:linear-gradient(90deg,#61ff9e,#75ff8a,#8fff70,#af5,#c5ff3a,#e2ff1d,#fcff03,#fff200,#ffeb00,#ffe900,#ffe800,#ffec00,#fffa00,#ebff14,#ceff31,#b0ff4f,#89ff76,#4effb1,#03fffc,#00b7ff,#07f,#003fff,#0013ff,#0000f0,#0000d6,#0000c2,#0000b4,#00a,#0000a2,#00009b,#000095,#000090,#00008e,#00008c,#00008b,#00008a,#000089,#000087,#000086,#000086,#000086,#000086,#000086,#000086,#000086,#000086,#000086,#000086)"></i><i style="background:linear-gradient(90deg,#3dffc2,#53ffac,#6fff90,#8cff73,#a9ff56,#c8ff37,#e4ff1b,#f7ff08,#fffe00,#fff900,#fff700,#fff900,#f9ff06,#e3ff1c,#caff35,#afff50,#8cff73,#54ffab,#0efff1,#00c6ff,#0086ff,#004dff,#001eff,#0000f9,#0000de,#0000ca,#0000ba,#0000ae,#0000a5,#00009d,#000096,#000092,#00008f,#00008d,#00008c,#00008a,#000089,#000087,#000087,#000086,#000086,#000086,#000086,#000086,#000086,#000086,#000086,#000086)"></i><i style="background:linear-gradient(90deg,#1cffe3,#3fc,#51ffae,#6fff90,#8eff71,#aeff51,#cf3,#e1ff1e,#edff12,#f4ff0b,#f8ff07,#f8ff07,#edff12,#dbff24,#c5ff3a,#adff52,#8dff72,#5affa5,#18ffe7,#00d4ff,#0095ff,#005bff,#0029ff,#0003ff,#0000e7,#0000d1,#0000c0,#0000b3,#0000a8,#00009f,#000098,#000093,#000090,#00008e,#00008c,#00008a,#000089,#008,#000087,#000086,#000086,#000086,#000086,#000086,#000086,#000086,#000086,#000086)"></i><i style="background:linear-gradient(90deg,#00fcff,#15ffea,#3fc,#53ffac,#73ff8c,#94ff6b,#b4ff4b,#cbff34,#d9ff26,#e3ff1c,#e9ff16,#e9ff16,#e1ff1e,#d2ff2d,#bfff40,#af5,#8dff72,#5dffa2,#20ffdf,#00e1ff,#00a4ff,#0068ff,#0034ff,#000dff,#0000ef,#0000d9,#0000c6,#0000b7,#0000ab,#0000a2,#00009a,#000095,#000091,#00008f,#00008d,#00008b,#000089,#008,#000087,#000086,#000086,#000086,#000086,#000086,#000086,#000086,#000086,#000086)"></i><i style="background:linear-gradient(90deg,#00deff,#00f6ff,#17ffe8,#37ffc8,#58ffa7,#7bff84,#9bff64,#b4ff4b,#c5ff3a,#d1ff2e,#d9ff26,#dbff24,#d5ff2a,#c8ff37,#b7ff48,#a5ff5a,#8aff75,#5fffa0,#26ffd9,#00ebff,#00b0ff,#0074ff,#003fff,#0017ff,#0000f8,#0000e0,#0000cd,#0000bc,#0000af,#0000a5,#00009d,#000097,#000093,#000090,#00008d,#00008b,#000089,#008,#000087,#000087,#000086,#000086,#000086,#000086,#000086,#000086,#000086,#000086)"></i><i style="background:linear-gradient(90deg,#00c1ff,#00daff,#00faff,#1dffe2,#3effc1,#62ff9d,#83ff7c,#9eff61,#b1ff4e,#c0ff3f,#c9ff36,#cf3,#c7ff38,#bdff42,#afff50,#9fff60,#87ff78,#5effa1,#2affd5,#00f4ff,#00bcff,#0081ff,#004bff,#02f,#0003ff,#0000e8,#0000d3,#0000c1,#0000b3,#0000a8,#0000a0,#009,#000094,#000091,#00008e,#00008c,#00008a,#008,#000087,#000087,#000086,#000086,#000086,#000086,#000086,#000086,#000086,#000086)"></i><i style="background:linear-gradient(90deg,#00a7ff,#00bfff,#00e0ff,#02fffd,#25ffda,#49ffb6,#6cff93,#8f7,#9dff62,#aeff51,#b9ff46,#bdff42,#b9ff46,#b1ff4e,#a6ff59,#98ff67,#82ff7d,#5cffa3,#2dffd2,#00fbff,#00c7ff,#008cff,#0056ff,#002cff,#000cff,#0000f1,#0000db,#0000c7,#0000b8,#0000ac,#0000a3,#00009c,#000096,#000092,#00008f,#00008c,#00008a,#008,#000087,#000087,#000087,#000086,#000086,#000086,#000086,#000086,#000086,#000086)"></i><i style="background:linear-gradient(90deg,#008eff,#00a6ff,#00c6ff,#00e8ff,#0cfff3,#31ffce,#5fa,#72ff8d,#89ff76,#9bff64,#a8ff57,#acff53,#af5,#a5ff5a,#9cff63,#90ff6f,#7cff83,#5affa5,#2fffd0,#03fffc,#00d0ff,#0097ff,#0061ff,#0037ff,#0016ff,#0000fa,#0000e2,#0000ce,#0000bd,#0000b0,#0000a6,#00009f,#009,#000093,#00008f,#00008d,#00008a,#000089,#008,#000087,#000087,#000086,#000086,#000086,#000086,#000086,#000086,#000086)"></i><i style="background:linear-gradient(90deg,#07f,#008fff,#00aeff,#00cfff,#00f2ff,#19ffe6,#3effc1,#5dffa2,#75ff8a,#8f7,#96ff69,#9bff64,#9bff64,#97ff68,#91ff6e,#87ff78,#75ff8a,#56ffa9,#2fffd0,#08fff7,#00d9ff,#00a1ff,#006cff,#0041ff,#0020ff,#0004ff,#0000ea,#0000d4,#0000c2,#0000b5,#00a,#0000a2,#00009b,#000095,#000090,#00008d,#00008b,#000089,#008,#000087,#000087,#000087,#000086,#000086,#000086,#000086,#000086,#000086)"></i><i style="background:linear-gradient(90deg,#0063ff,#0079ff,#0098ff,#00b8ff,#00dbff,#02fffd,#28ffd7,#47ffb8,#60ff9f,#75ff8a,#83ff7c,#89ff76,#8aff75,#8f7,#85ff7a,#7dff82,#6dff92,#52ffad,#2fffd0,#0bfff4,#00dfff,#0af,#0076ff,#004bff,#002aff,#000dff,#0000f2,#0000db,#0000c8,#0000b9,#0000ae,#0000a5,#00009d,#000097,#000091,#00008e,#00008b,#000089,#008,#000087,#000087,#000087,#000086,#000086,#000086,#000086,#000086,#000086)"></i><i style="background:linear-gradient(90deg,#0050ff,#06f,#0084ff,#00a3ff,#00c6ff,#00ebff,#12ffed,#32ffcd,#4bffb4,#60ff9f,#6fff90,#76ff89,#78ff87,#78ff87,#76ff89,#70ff8f,#63ff9c,#4cffb3,#2effd1,#0dfff2,#00e4ff,#00b1ff,#007fff,#05f,#0034ff,#0017ff,#0000fb,#0000e2,#0000ce,#0000be,#0000b2,#0000a8,#0000a0,#000098,#000092,#00008e,#00008c,#00008a,#008,#008,#000087,#000087,#000086,#000086,#000086,#000086,#000086,#000086)"></i><i style="background:linear-gradient(90deg,#0040ff,#05f,#0071ff,#0090ff,#00b1ff,#00d6ff,#00fcff,#1cffe3,#35ffca,#4affb5,#59ffa6,#61ff9e,#65ff9a,#6f9,#6f9,#62ff9d,#58ffa7,#46ffb9,#2bffd4,#0dfff2,#00e6ff,#00b7ff,#0087ff,#005fff,#003eff,#0021ff,#0005ff,#0000ea,#0000d4,#0000c4,#0000b7,#0000ac,#0000a2,#00009a,#000094,#00008f,#00008c,#00008a,#000089,#008,#000087,#000087,#000087,#000086,#000086,#000086,#000086,#000086)"></i><i style="background:linear-gradient(90deg,#0031ff,#0045ff,#0060ff,#007eff,#009eff,#00c2ff,#00e6ff,#06fff9,#1fffe0,#3fc,#43ffbc,#4cffb3,#51ffae,#53ffac,#5fa,#53ffac,#4cffb3,#3effc1,#27ffd8,#0cfff3,#00e8ff,#00bcff,#008fff,#0069ff,#0048ff,#002bff,#000fff,#0000f3,#0000db,#0000c9,#00b,#0000af,#0000a5,#00009c,#000095,#000090,#00008d,#00008b,#000089,#008,#000087,#000087,#000087,#000086,#000086,#000086,#000086,#000086)"></i><i style="background:linear-gradient(90deg,#0025ff,#0037ff,#0051ff,#006dff,#008cff,#00aeff,#00d0ff,#0ef,#08fff7,#1cffe3,#2bffd4,#35ffca,#3cffc3,#40ffbf,#42ffbd,#43ffbc,#40ffbf,#35ffca,#2fd,#0afff5,#00eaff,#00c1ff,#0096ff,#0072ff,#0053ff,#0036ff,#0019ff,#0000fb,#0000e2,#0000cf,#0000c0,#0000b3,#0000a8,#00009e,#000097,#000092,#00008e,#00008b,#000089,#008,#008,#000087,#000087,#000086,#000086,#000086,#000086,#000086)"></i><i style="background:linear-gradient(90deg,#001bff,#002bff,#0043ff,#005dff,#0079ff,#09f,#00baff,#00d7ff,#0ef,#03fffc,#13ffec,#1effe1,#26ffd9,#2cffd3,#30ffcf,#3fc,#32ffcd,#2affd5,#1affe5,#06fff9,#00eaff,#00c4ff,#009dff,#007aff,#005cff,#0040ff,#0023ff,#0005ff,#0000e9,#0000d5,#0000c4,#0000b7,#0000ab,#0000a1,#009,#000093,#00008f,#00008c,#00008a,#000089,#008,#000087,#000087,#000087,#000086,#000086,#000086,#000086)"></i><i style="background:linear-gradient(90deg,#0012ff,#0021ff,#0035ff,#004dff,#0067ff,#0085ff,#00a4ff,#00bfff,#00d6ff,#00e9ff,#00f9ff,#06fff9,#10ffef,#18ffe7,#1effe1,#23ffdc,#24ffdb,#1effe1,#12ffed,#01fffe,#00e9ff,#00c7ff,#00a2ff,#0081ff,#0065ff,#0049ff,#002cff,#000dff,#0000f0,#0000da,#0000c9,#00b,#0000ae,#0000a3,#00009b,#000094,#000090,#00008c,#00008a,#000089,#008,#000087,#000087,#000087,#000086,#000086,#000086,#000086)"></i><i style="background:linear-gradient(90deg,#000aff,#0017ff,#0029ff,#003eff,#0056ff,#0071ff,#008dff,#00a7ff,#00bdff,#00d0ff,#00e0ff,#0ef,#00f9ff,#04fffb,#0bfff4,#12ffed,#15ffea,#1fe,#08fff7,#00faff,#00e6ff,#00c8ff,#00a5ff,#0086ff,#006bff,#0051ff,#0034ff,#0014ff,#0000f6,#0000e0,#0000ce,#0000bf,#0000b2,#0000a6,#00009d,#000096,#000091,#00008d,#00008b,#000089,#008,#008,#000087,#000087,#000086,#000086,#000086,#000086)"></i><i style="background:linear-gradient(90deg,#0002ff,#000dff,#001eff,#0030ff,#0045ff,#005eff,#0078ff,#0090ff,#00a5ff,#00b7ff,#00c8ff,#00d6ff,#00e3ff,#00edff,#00f7ff,#0ff,#05fffa,#03fffc,#00fcff,#00f3ff,#00e3ff,#00c7ff,#00a6ff,#008aff,#0070ff,#0057ff,#003aff,#001bff,#0000fc,#0000e5,#0000d2,#0000c2,#0000b5,#0000a9,#00009f,#000098,#000092,#00008e,#00008b,#000089,#008,#008,#000087,#000087,#000086,#000086,#000086,#000086)"></i><i style="background:linear-gradient(90deg,#0000fa,#0005ff,#0013ff,#0024ff,#0036ff,#004cff,#0063ff,#0079ff,#008dff,#00a0ff,#00b1ff,#00bfff,#0cf,#00d8ff,#00e2ff,#00ecff,#00f2ff,#00f4ff,#00f1ff,#00ebff,#00deff,#00c5ff,#00a6ff,#008cff,#0074ff,#005cff,#0040ff,#0021ff,#0003ff,#0000ea,#0000d6,#0000c6,#0000b8,#0000ac,#0000a1,#00009a,#000094,#00008f,#00008c,#00008a,#000089,#008,#000087,#000087,#000086,#000086,#000086,#000086)"></i><i style="background:linear-gradient(90deg,#0000f2,#0000fb,#0009ff,#0017ff,#0028ff,#003bff,#0050ff,#0064ff,#07f,#0089ff,#009aff,#00a9ff,#00b6ff,#00c1ff,#0cf,#00d7ff,#00e0ff,#00e5ff,#00e5ff,#00e3ff,#00d8ff,#00c2ff,#00a6ff,#008dff,#07f,#0061ff,#0046ff,#0026ff,#0008ff,#00e,#0000da,#0000ca,#00b,#0000af,#0000a4,#00009c,#000095,#000090,#00008c,#00008a,#000089,#008,#000087,#000087,#000087,#000086,#000086,#000086)"></i><i style="background:linear-gradient(90deg,#0000e9,#0000f1,#0000fd,#000cff,#001aff,#002bff,#003dff,#0050ff,#0061ff,#0073ff,#0084ff,#0093ff,#009fff,#00abff,#00b6ff,#00c2ff,#00cdff,#00d5ff,#00daff,#00daff,#00d2ff,#00beff,#00a5ff,#008eff,#007aff,#0065ff,#004aff,#002bff,#000dff,#0000f3,#0000de,#0000cd,#0000be,#0000b2,#0000a7,#00009e,#000097,#000091,#00008d,#00008b,#00008a,#008,#008,#000087,#000087,#000086,#000086,#000086)"></i><i style="background:linear-gradient(90deg,#0000df,#0000e7,#0000f2,#0000fe,#000dff,#001cff,#002cff,#003cff,#004dff,#005eff,#006eff,#007dff,#0089ff,#0094ff,#00a0ff,#00adff,#00baff,#00c5ff,#00cdff,#00d0ff,#00caff,#00baff,#00a3ff,#008fff,#007cff,#0068ff,#004eff,#002fff,#01f,#0000f7,#0000e2,#0000d1,#0000c2,#0000b5,#00a,#0000a1,#009,#000093,#00008e,#00008c,#00008a,#000089,#008,#000087,#000087,#000086,#000086,#000086)"></i><i style="background:linear-gradient(90deg,#0000d5,#0000dc,#0000e7,#0000f3,#00f,#000eff,#001cff,#002aff,#003aff,#004aff,#0059ff,#0067ff,#0074ff,#007fff,#008bff,#09f,#00a8ff,#00b6ff,#00c0ff,#00c6ff,#00c3ff,#00b5ff,#00a2ff,#0090ff,#007eff,#006bff,#0052ff,#03f,#0015ff,#0000fb,#0000e6,#0000d5,#0000c5,#0000b8,#0000ad,#0000a3,#00009b,#000094,#00008f,#00008c,#00008b,#000089,#008,#000087,#000087,#000086,#000086,#000086)"></i><i style="background:linear-gradient(90deg,#00c,#0000d4,#0000de,#0000e9,#0000f4,#0001ff,#000eff,#001bff,#0029ff,#0038ff,#0047ff,#05f,#0061ff,#006cff,#0078ff,#0087ff,#0097ff,#00a7ff,#00b4ff,#00bcff,#00bcff,#00b1ff,#00a0ff,#0090ff,#0080ff,#006cff,#0054ff,#0036ff,#0019ff,#00f,#0000ea,#0000d8,#0000c9,#0000bc,#0000b0,#0000a6,#00009d,#000096,#000090,#00008d,#00008b,#00008a,#008,#000087,#000087,#000086,#000086,#000086)"></i><i style="background:linear-gradient(90deg,#0000c6,#0000cd,#0000d7,#0000e1,#0000eb,#0000f6,#0002ff,#000eff,#001bff,#002aff,#0038ff,#0045ff,#0051ff,#005cff,#0068ff,#07f,#08f,#09f,#00a8ff,#00b3ff,#00b4ff,#00acff,#009fff,#0091ff,#0081ff,#006eff,#0056ff,#0039ff,#001cff,#0004ff,#00e,#0000dc,#0000cd,#0000bf,#0000b4,#0000a9,#0000a0,#000098,#000092,#00008e,#00008c,#00008a,#000089,#008,#000087,#000086,#000086,#000086)"></i><i style="background:linear-gradient(90deg,#0000c4,#0000ca,#0000d2,#0000db,#0000e5,#00e,#0000f8,#0004ff,#0010ff,#001eff,#002cff,#0039ff,#04f,#004fff,#005bff,#006aff,#007bff,#008cff,#009dff,#0af,#00adff,#00a7ff,#009dff,#0091ff,#0081ff,#006eff,#0057ff,#003bff,#001fff,#0008ff,#0000f2,#0000e1,#0000d1,#0000c3,#0000b7,#0000ac,#0000a2,#00009a,#000093,#00008f,#00008c,#00008a,#000089,#008,#000087,#000086,#000086,#000086)"></i><i style="background:linear-gradient(90deg,#0000c3,#0000c8,#0000d0,#0000d8,#0000e0,#0000e8,#0000f1,#0000fb,#0008ff,#0015ff,#0023ff,#002fff,#003aff,#0045ff,#0050ff,#005fff,#006fff,#0081ff,#0092ff,#00a1ff,#00a6ff,#00a3ff,#009cff,#0091ff,#0082ff,#006fff,#0058ff,#003dff,#02f,#000bff,#0000f7,#0000e5,#0000d6,#0000c8,#00b,#0000b0,#0000a5,#00009c,#000095,#000090,#00008d,#00008b,#000089,#008,#000087,#000086,#000086,#000086)"></i><i style="background:linear-gradient(90deg,#0000c3,#0000c7,#0000ce,#0000d5,#0000dc,#0000e3,#0000eb,#0000f4,#00f,#000dff,#001bff,#0027ff,#0032ff,#003cff,#0047ff,#05f,#0064ff,#0076ff,#0089ff,#0098ff,#009fff,#009eff,#009aff,#0092ff,#0083ff,#006fff,#0058ff,#003eff,#0025ff,#000fff,#0000fb,#0000ea,#0000da,#00c,#0000bf,#0000b3,#0000a8,#00009e,#000096,#000091,#00008e,#00008c,#00008a,#008,#000087,#000087,#000086,#000086)"></i><i style="background:linear-gradient(90deg,#0000c3,#0000c7,#0000cd,#0000d3,#0000d9,#0000df,#0000e7,#0000ef,#0000f9,#0007ff,#0014ff,#0020ff,#002bff,#0035ff,#0040ff,#004cff,#005bff,#006dff,#0080ff,#0091ff,#09f,#009bff,#09f,#0092ff,#0084ff,#006fff,#0059ff,#0040ff,#0027ff,#0012ff,#00f,#0000ef,#0000df,#0000d1,#0000c3,#0000b7,#0000ab,#0000a0,#000098,#000093,#00008f,#00008c,#00008a,#008,#000087,#000087,#000086,#000086)"></i><i style="background:linear-gradient(90deg,#0000c4,#0000c8,#00c,#0000d1,#0000d7,#00d,#0000e3,#0000eb,#0000f5,#0002ff,#000fff,#001bff,#0025ff,#002fff,#003aff,#0046ff,#0054ff,#0065ff,#0079ff,#008bff,#0095ff,#0098ff,#0098ff,#0092ff,#0084ff,#0070ff,#0059ff,#0041ff,#002aff,#0015ff,#0004ff,#0000f3,#0000e4,#0000d5,#0000c7,#0000ba,#0000ae,#0000a2,#00009a,#000094,#000090,#00008d,#00008a,#000089,#000087,#000087,#000086,#000086)"></i><i style="background:linear-gradient(90deg,#0000c6,#0000c8,#00c,#0000d1,#0000d6,#0000db,#0000e1,#0000e8,#0000f2,#0000fe,#000cff,#0018ff,#02f,#002cff,#0036ff,#0041ff,#004fff,#0060ff,#0074ff,#0087ff,#0092ff,#0096ff,#0098ff,#0093ff,#0084ff,#0070ff,#0059ff,#0042ff,#002bff,#0018ff,#0007ff,#0000f7,#0000e8,#0000d9,#0000cb,#0000bd,#0000b0,#0000a5,#00009c,#000095,#000091,#00008e,#00008b,#000089,#000087,#000087,#000086,#000086)"></i><i style="background:linear-gradient(90deg,#0000c8,#0000ca,#0000cd,#0000d1,#0000d6,#0000da,#0000e0,#0000e7,#0000f1,#0000fd,#000bff,#0016ff,#0020ff,#002aff,#0034ff,#003fff,#004cff,#005dff,#0072ff,#0084ff,#0090ff,#0096ff,#0098ff,#0093ff,#0084ff,#0070ff,#005aff,#0043ff,#002dff,#001aff,#000aff,#0000fa,#0000eb,#0000dc,#0000ce,#0000c0,#0000b3,#0000a7,#00009d,#000097,#000092,#00008e,#00008b,#000089,#008,#000087,#000086,#000086)"></i><i style="background:linear-gradient(90deg,#0000cb,#0000cd,#0000cf,#0000d3,#0000d7,#0000db,#0000e1,#0000e8,#0000f1,#0000fd,#000bff,#0016ff,#0020ff,#002aff,#0034ff,#003fff,#004cff,#005dff,#0071ff,#0084ff,#0090ff,#0096ff,#09f,#0094ff,#0085ff,#0070ff,#005aff,#04f,#002eff,#001cff,#000cff,#0000fd,#00e,#0000df,#0000d1,#0000c3,#0000b6,#0000a9,#00009f,#000098,#000093,#00008f,#00008c,#000089,#008,#000087,#000086,#000086)"></i><i style="background:linear-gradient(90deg,#0000cf,#0000d0,#0000d3,#0000d6,#0000da,#0000de,#0000e3,#0000ea,#0000f3,#0000fe,#000cff,#0018ff,#02f,#002bff,#0035ff,#0040ff,#004dff,#005dff,#0071ff,#0084ff,#0091ff,#0097ff,#009aff,#0095ff,#0086ff,#0070ff,#005aff,#04f,#002fff,#001eff,#000eff,#00f,#0000f0,#0000e2,#0000d4,#0000c6,#0000b9,#0000ac,#0000a1,#00009a,#000094,#000090,#00008c,#000089,#008,#000087,#000086,#000086)"></i><i style="background:linear-gradient(90deg,#0000d4,#0000d5,#0000d7,#0000da,#0000de,#0000e2,#0000e6,#0000ed,#0000f5,#0002ff,#000eff,#0019ff,#0023ff,#002dff,#0037ff,#0042ff,#004fff,#005fff,#0072ff,#0085ff,#0092ff,#09f,#009cff,#0097ff,#0087ff,#0071ff,#005aff,#0045ff,#0030ff,#001fff,#0010ff,#0002ff,#0000f3,#0000e4,#0000d7,#0000c9,#00b,#0000ae,#0000a3,#00009b,#000096,#000091,#00008d,#00008a,#008,#000087,#000086,#000086)"></i><i style="background:linear-gradient(90deg,#0000d9,#0000da,#0000dc,#0000df,#0000e2,#0000e6,#0000ea,#0000f0,#0000f8,#0004ff,#0010ff,#001cff,#0026ff,#002fff,#0039ff,#04f,#0051ff,#0061ff,#0073ff,#0086ff,#0093ff,#009bff,#009eff,#0098ff,#08f,#0071ff,#005bff,#0045ff,#0031ff,#0020ff,#0012ff,#0004ff,#0000f5,#0000e7,#0000d9,#00c,#0000be,#0000b0,#0000a5,#00009d,#000097,#000091,#00008d,#00008a,#008,#000087,#000086,#000086)"></i><i style="background:linear-gradient(90deg,#0000de,#0000df,#0000e1,#0000e3,#0000e6,#0000e9,#00e,#0000f3,#0000fb,#0007ff,#0013ff,#001eff,#0028ff,#0031ff,#003bff,#0046ff,#0053ff,#0062ff,#0074ff,#0087ff,#0094ff,#009cff,#00a0ff,#009aff,#0089ff,#0071ff,#005bff,#0045ff,#0032ff,#0021ff,#0013ff,#0005ff,#0000f7,#0000e9,#0000dc,#0000ce,#0000c0,#0000b2,#0000a7,#00009f,#000098,#000092,#00008e,#00008a,#008,#000087,#000086,#000086)"></i><i style="background:linear-gradient(90deg,#0000e2,#0000e3,#0000e4,#0000e7,#0000e9,#0000ec,#0000f0,#0000f6,#0000fd,#0009ff,#0014ff,#001fff,#0029ff,#03f,#003dff,#0048ff,#0054ff,#0063ff,#0075ff,#08f,#0095ff,#009eff,#00a1ff,#009bff,#0089ff,#0071ff,#005bff,#0045ff,#0032ff,#02f,#0014ff,#0007ff,#0000f8,#0000eb,#0000de,#0000d1,#0000c3,#0000b5,#0000a9,#0000a0,#009,#000093,#00008e,#00008b,#008,#000087,#000086,#000086)"></i><i style="background:linear-gradient(90deg,#0000e4,#0000e5,#0000e6,#0000e9,#0000eb,#00e,#0000f2,#0000f7,#00f,#000aff,#0016ff,#0020ff,#002aff,#0034ff,#003eff,#0049ff,#05f,#0064ff,#0076ff,#08f,#0096ff,#009eff,#00a2ff,#009cff,#008aff,#0071ff,#005aff,#0045ff,#0032ff,#02f,#0015ff,#0008ff,#0000fa,#0000ed,#0000e1,#0000d3,#0000c5,#0000b7,#0000ab,#0000a2,#00009b,#000094,#00008f,#00008b,#000089,#000087,#000086,#000086)"></i><i style="background:linear-gradient(90deg,#0000e4,#0000e6,#0000e7,#0000ea,#0000ec,#0000ef,#0000f3,#0000f8,#0001ff,#000bff,#0016ff,#0021ff,#002bff,#0034ff,#003eff,#0049ff,#0056ff,#0065ff,#0076ff,#08f,#0096ff,#009eff,#00a2ff,#009cff,#0089ff,#0071ff,#005aff,#0045ff,#0032ff,#0023ff,#0016ff,#0009ff,#0000fc,#0000f0,#0000e3,#0000d6,#0000c8,#0000ba,#0000ad,#0000a4,#00009c,#000095,#00008f,#00008b,#000089,#000087,#000086,#000086)"></i><i style="background:linear-gradient(90deg,#0000e4,#0000e5,#0000e7,#0000ea,#0000ed,#0000f0,#0000f3,#0000f8,#0001ff,#000bff,#0016ff,#0021ff,#002bff,#0034ff,#003eff,#0049ff,#0056ff,#0065ff,#0076ff,#08f,#0095ff,#009eff,#00a1ff,#009bff,#0089ff,#0070ff,#0059ff,#0045ff,#0032ff,#0023ff,#0016ff,#000aff,#0000fe,#0000f2,#0000e6,#0000d9,#0000cb,#0000bc,#0000af,#0000a6,#00009d,#000096,#000090,#00008c,#000089,#008,#000086,#000086)"></i><i style="background:linear-gradient(90deg,#0000e3,#0000e5,#0000e7,#0000ea,#0000ed,#0000f0,#0000f4,#0000f8,#0001ff,#000bff,#0016ff,#0021ff,#002bff,#0034ff,#003eff,#004aff,#0056ff,#0065ff,#0076ff,#08f,#0095ff,#009dff,#00a0ff,#009aff,#0087ff,#006fff,#0058ff,#04f,#0032ff,#0024ff,#0017ff,#000bff,#00f,#0000f4,#0000e9,#0000dc,#0000cd,#0000bf,#0000b2,#0000a7,#00009f,#000097,#000091,#00008d,#00008a,#008,#000087,#000086)"></i><i style="background:linear-gradient(90deg,#0000e1,#0000e3,#0000e6,#0000ea,#0000ed,#0000f0,#0000f4,#0000f8,#0001ff,#000bff,#0016ff,#0021ff,#002bff,#0034ff,#003eff,#004aff,#0056ff,#0065ff,#0076ff,#0087ff,#0094ff,#009bff,#009eff,#0098ff,#0085ff,#006dff,#0056ff,#0043ff,#0032ff,#0024ff,#0018ff,#000cff,#0002ff,#0000f6,#0000eb,#0000df,#0000d0,#0000c1,#0000b4,#0000a9,#0000a0,#009,#000092,#00008d,#00008a,#008,#000087,#000086)"></i><i style="background:linear-gradient(90deg,#0000df,#0000e2,#0000e6,#0000e9,#0000ed,#0000f0,#0000f4,#0000f8,#0001ff,#000bff,#0016ff,#0021ff,#002bff,#0034ff,#003eff,#0049ff,#0056ff,#0065ff,#0076ff,#0086ff,#0092ff,#09f,#009cff,#0096ff,#0083ff,#006aff,#05f,#0042ff,#0032ff,#0024ff,#0018ff,#000dff,#0003ff,#0000f8,#00e,#0000e1,#0000d3,#0000c3,#0000b6,#0000ab,#0000a2,#00009a,#000093,#00008e,#00008b,#008,#000087,#000086)"></i><i style="background:linear-gradient(90deg,#00d,#0000e0,#0000e5,#0000e9,#0000ec,#0000f0,#0000f4,#0000f8,#0001ff,#000bff,#0016ff,#0021ff,#002bff,#0034ff,#003eff,#0049ff,#0056ff,#0064ff,#0075ff,#0085ff,#0091ff,#0097ff,#009aff,#0093ff,#0080ff,#0068ff,#0053ff,#0041ff,#0031ff,#0024ff,#0018ff,#000eff,#0004ff,#0000fa,#0000f0,#0000e4,#0000d5,#0000c5,#0000b7,#0000ac,#0000a3,#00009b,#000094,#00008f,#00008b,#000089,#000087,#000086)"></i><i style="background:linear-gradient(90deg,#0000da,#0000de,#0000e3,#0000e8,#0000ec,#0000ef,#0000f3,#0000f8,#00f,#000aff,#0015ff,#0020ff,#002aff,#03f,#003dff,#0048ff,#05f,#0064ff,#0074ff,#0083ff,#008eff,#0094ff,#0097ff,#0090ff,#007dff,#0065ff,#0051ff,#0040ff,#0031ff,#0024ff,#0019ff,#000eff,#0005ff,#0000fb,#0000f1,#0000e6,#0000d7,#0000c7,#0000b9,#0000ae,#0000a4,#00009c,#000095,#000090,#00008c,#000089,#000087,#000086)"></i><i style="background:linear-gradient(90deg,#0000d7,#0000dc,#0000e1,#0000e6,#0000ea,#00e,#0000f1,#0000f6,#0000fd,#0008ff,#0013ff,#001eff,#0027ff,#0031ff,#003bff,#0046ff,#0053ff,#0061ff,#0071ff,#0080ff,#008bff,#0091ff,#0093ff,#008cff,#007aff,#0062ff,#004fff,#003fff,#0031ff,#0024ff,#0019ff,#000eff,#0005ff,#0000fc,#0000f3,#0000e7,#0000d9,#0000c9,#0000ba,#0000af,#0000a6,#00009d,#000096,#000091,#00008d,#00008a,#000087,#000086)"></i><i style="background:linear-gradient(90deg,#0000d3,#0000d8,#0000de,#0000e3,#0000e7,#0000eb,#0000ef,#0000f3,#0000fa,#0005ff,#0010ff,#001aff,#0024ff,#002dff,#0038ff,#0043ff,#004fff,#005eff,#006dff,#007cff,#0086ff,#008cff,#008eff,#08f,#0076ff,#005fff,#004cff,#003dff,#0030ff,#0024ff,#0019ff,#000fff,#0006ff,#0000fc,#0000f4,#0000e9,#0000da,#0000ca,#00b,#0000b0,#0000a7,#00009e,#000097,#000092,#00008d,#00008a,#008,#000086)"></i><i style="background:linear-gradient(90deg,#0000cf,#0000d4,#0000d9,#0000df,#0000e3,#0000e7,#0000eb,#0000ef,#0000f6,#00f,#000aff,#0014ff,#001eff,#0028ff,#0032ff,#003eff,#004aff,#0058ff,#0067ff,#0076ff,#0080ff,#0086ff,#0089ff,#0083ff,#0071ff,#005bff,#0049ff,#003bff,#002fff,#0023ff,#0018ff,#000fff,#0006ff,#0000fd,#0000f5,#0000ea,#0000db,#0000cb,#0000bc,#0000b1,#0000a8,#0000a0,#009,#000093,#00008e,#00008b,#008,#000086)"></i><i style="background:linear-gradient(90deg,#0000ca,#0000cf,#0000d4,#0000da,#0000de,#0000e2,#0000e6,#0000eb,#0000f1,#0000f9,#0004ff,#000eff,#0017ff,#0021ff,#002bff,#0037ff,#0043ff,#0051ff,#0060ff,#006eff,#0079ff,#0080ff,#0082ff,#007dff,#006cff,#0057ff,#0046ff,#0039ff,#002eff,#0023ff,#0018ff,#000eff,#0006ff,#0000fe,#0000f6,#0000eb,#0000dc,#00c,#0000bd,#0000b2,#0000a9,#0000a1,#00009a,#000094,#00008f,#00008b,#008,#000086)"></i><i style="background:linear-gradient(90deg,#0000c5,#0000ca,#0000cf,#0000d5,#0000d9,#00d,#0000e1,#0000e5,#0000eb,#0000f3,#0000fc,#0006ff,#0010ff,#001aff,#0024ff,#002fff,#003cff,#0049ff,#0057ff,#06f,#0071ff,#0078ff,#007bff,#0076ff,#06f,#0053ff,#0043ff,#0037ff,#002cff,#02f,#0018ff,#000eff,#0006ff,#0000fe,#0000f6,#0000ec,#00d,#0000cd,#0000be,#0000b3,#00a,#0000a2,#00009b,#000095,#000090,#00008c,#000089,#000087)"></i><i style="background:linear-gradient(90deg,#0000c0,#0000c5,#0000ca,#0000d0,#0000d4,#0000d8,#0000db,#0000e0,#0000e6,#0000ed,#0000f5,#0000fe,#0008ff,#0012ff,#001cff,#0028ff,#0034ff,#0041ff,#004fff,#005dff,#0069ff,#0070ff,#0074ff,#006fff,#0060ff,#004eff,#0040ff,#0035ff,#002bff,#0021ff,#0017ff,#000eff,#0007ff,#0000fe,#0000f7,#0000ec,#0000de,#0000ce,#0000bf,#0000b4,#0000ab,#0000a3,#00009c,#000096,#000091,#00008d,#000089,#000087)"></i><i style="background:linear-gradient(90deg,#0000bd,#0000c1,#0000c6,#0000cb,#0000cf,#0000d3,#0000d7,#0000db,#0000e0,#0000e7,#0000ef,#0000f7,#0001ff,#000bff,#0015ff,#0020ff,#002dff,#0039ff,#0046ff,#05f,#0061ff,#0069ff,#006dff,#0068ff,#005bff,#004aff,#003cff,#0032ff,#0029ff,#0020ff,#0017ff,#000eff,#0006ff,#00f,#0000f7,#0000ed,#0000df,#0000cf,#0000c0,#0000b4,#0000ac,#0000a4,#00009d,#000097,#000092,#00008d,#000089,#000087)"></i><i style="background:linear-gradient(90deg,#0000b9,#0000bd,#0000c2,#0000c7,#0000cb,#0000cf,#0000d2,#0000d6,#0000dc,#0000e2,#0000e9,#0000f1,#0000fa,#0004ff,#000eff,#0019ff,#0025ff,#0031ff,#003eff,#004dff,#0059ff,#0061ff,#0065ff,#0061ff,#05f,#0045ff,#0039ff,#0030ff,#0027ff,#001fff,#0016ff,#000eff,#0006ff,#0000fe,#0000f7,#0000ed,#0000df,#0000cf,#0000c1,#0000b5,#0000ac,#0000a5,#00009e,#000098,#000093,#00008e,#00008a,#000087)"></i><i style="background:linear-gradient(90deg,#0000b7,#00b,#0000bf,#0000c4,#0000c8,#0000cb,#0000cf,#0000d2,#0000d7,#00d,#0000e4,#0000ec,#0000f4,#0000fd,#0008ff,#0013ff,#001eff,#002aff,#0037ff,#0045ff,#0051ff,#0059ff,#005eff,#005aff,#004fff,#0040ff,#0035ff,#002dff,#0025ff,#001dff,#0015ff,#000dff,#0006ff,#0000fe,#0000f7,#0000ed,#0000df,#0000d0,#0000c1,#0000b6,#0000ad,#0000a6,#00009f,#009,#000094,#00008f,#00008b,#008)"></i><i style="background:linear-gradient(90deg,#0000b4,#0000b8,#0000bd,#0000c1,#0000c5,#0000c8,#0000cb,#0000cf,#0000d3,#0000d9,#0000e0,#0000e7,#0000ef,#0000f7,#0002ff,#000cff,#0017ff,#0023ff,#002fff,#003dff,#0049ff,#0052ff,#0056ff,#0053ff,#0048ff,#003bff,#0031ff,#002aff,#0023ff,#001bff,#0013ff,#000bff,#0004ff,#0000fd,#0000f6,#0000ec,#0000df,#0000d0,#0000c2,#0000b7,#0000ae,#0000a7,#0000a0,#00009a,#000094,#000090,#00008b,#000089)"></i><i style="background:linear-gradient(90deg,#0000b2,#0000b6,#0000ba,#0000be,#0000c2,#0000c5,#0000c8,#0000cb,#0000cf,#0000d5,#0000db,#0000e2,#0000ea,#0000f2,#0000fa,#0006ff,#0010ff,#001bff,#0028ff,#0035ff,#0041ff,#004aff,#004eff,#004cff,#0042ff,#0036ff,#002dff,#0026ff,#0020ff,#0019ff,#01f,#000aff,#0003ff,#0000fc,#0000f5,#0000ec,#0000df,#0000d0,#0000c3,#0000b8,#0000af,#0000a8,#0000a1,#00009b,#000095,#000090,#00008c,#000089)"></i><i style="background:linear-gradient(90deg,#0000b1,#0000b4,#0000b8,#0000bc,#0000bf,#0000c2,#0000c5,#0000c8,#00c,#0000d1,#0000d7,#0000de,#0000e5,#0000ec,#0000f5,#0000fe,#000aff,#0014ff,#0020ff,#002eff,#0039ff,#0042ff,#0046ff,#0045ff,#003cff,#0031ff,#0029ff,#0023ff,#001dff,#0016ff,#000fff,#0008ff,#0001ff,#0000fa,#0000f4,#0000eb,#0000df,#0000d1,#0000c4,#0000b9,#0000b0,#0000a9,#0000a2,#00009c,#000096,#000091,#00008d,#00008a)"></i><i style="background:linear-gradient(90deg,#0000af,#0000b2,#0000b6,#0000ba,#0000bd,#0000c0,#0000c2,#0000c5,#0000c9,#0000ce,#0000d4,#0000da,#0000e1,#0000e8,#0000ef,#0000f8,#0003ff,#000eff,#001aff,#0027ff,#0032ff,#003bff,#003fff,#003eff,#0036ff,#002dff,#0025ff,#0020ff,#001aff,#0014ff,#000dff,#0006ff,#0000fe,#0000f9,#0000f3,#0000ea,#0000de,#0000d1,#0000c4,#0000ba,#0000b1,#0000a9,#0000a3,#00009c,#000097,#000092,#00008e,#00008b)"></i><i style="background:linear-gradient(90deg,#0000ae,#0000b1,#0000b5,#0000b9,#0000bc,#0000be,#0000c0,#0000c3,#0000c6,#00c,#0000d1,#0000d7,#0000de,#0000e4,#0000eb,#0000f4,#0000fe,#0009ff,#0015ff,#02f,#002dff,#0035ff,#003aff,#0039ff,#0032ff,#0029ff,#02f,#001dff,#0018ff,#0012ff,#000bff,#0004ff,#0000fd,#0000f8,#0000f2,#0000e9,#0000de,#0000d1,#0000c5,#0000ba,#0000b2,#00a,#0000a3,#00009d,#000098,#000093,#00008f,#00008c)"></i><i style="background:linear-gradient(90deg,#0000ae,#0000b1,#0000b5,#0000b9,#0000bc,#0000be,#0000c0,#0000c3,#0000c6,#00c,#0000d1,#0000d7,#0000de,#0000e4,#0000eb,#0000f4,#0000fe,#0009ff,#0015ff,#02f,#002dff,#0035ff,#003aff,#0039ff,#0032ff,#0029ff,#02f,#001dff,#0018ff,#0012ff,#000bff,#0004ff,#0000fd,#0000f8,#0000f2,#0000e9,#0000de,#0000d1,#0000c5,#0000ba,#0000b2,#00a,#0000a3,#00009d,#000098,#000093,#00008f,#00008c)"></i><i style="background:linear-gradient(90deg,#0000ae,#0000b1,#0000b5,#0000b9,#0000bc,#0000be,#0000c0,#0000c3,#0000c6,#00c,#0000d1,#0000d7,#0000de,#0000e4,#0000eb,#0000f4,#0000fe,#0009ff,#0015ff,#02f,#002dff,#0035ff,#003aff,#0039ff,#0032ff,#0029ff,#02f,#001dff,#0018ff,#0012ff,#000bff,#0004ff,#0000fd,#0000f8,#0000f2,#0000e9,#0000de,#0000d1,#0000c5,#0000ba,#0000b2,#00a,#0000a3,#00009d,#000098,#000093,#00008f,#00008c)"></i><i style="background:linear-gradient(90deg,#0000ae,#0000b1,#0000b5,#0000b9,#0000bc,#0000be,#0000c0,#0000c3,#0000c6,#00c,#0000d1,#0000d7,#0000de,#0000e4,#0000eb,#0000f4,#0000fe,#0009ff,#0015ff,#02f,#002dff,#0035ff,#003aff,#0039ff,#0032ff,#0029ff,#02f,#001dff,#0018ff,#0012ff,#000bff,#0004ff,#0000fd,#0000f8,#0000f2,#0000e9,#0000de,#0000d1,#0000c5,#0000ba,#0000b2,#00a,#0000a3,#00009d,#000098,#000093,#00008f,#00008c)"></i></div></div>
<div class="p" style="left:399.3px;top:339.4px"><div class="q"><i style="background:linear-gradient(90deg,#0000db,#00d,#0000e1,#0000e3,#0000e6,#0000e8,#0000eb,#0000ed,#0000f0,#0000f2,#0000f6,#0000f9,#0000fd,#0001ff,#0004ff,#0007ff,#000aff,#000dff,#0010ff,#0014ff,#0019ff,#0021ff,#0027ff,#0027ff,#0023ff,#001eff,#0019ff,#0014ff,#000fff,#0009ff,#0002ff,#0000fa,#0000f1,#0000e9,#0000df,#0000d5,#0000c9,#0000bd,#0000b2,#0000a8,#0000a0,#000098,#000092,#00008d,#00008a,#008,#000087,#000086)"></i><i style="background:linear-gradient(90deg,#0000db,#00d,#0000e1,#0000e3,#0000e6,#0000e8,#0000eb,#0000ed,#0000f0,#0000f2,#0000f6,#0000f9,#0000fd,#0001ff,#0004ff,#0007ff,#000aff,#000dff,#0010ff,#0014ff,#0019ff,#0021ff,#0027ff,#0027ff,#0023ff,#001eff,#0019ff,#0014ff,#000fff,#0009ff,#0002ff,#0000fa,#0000f1,#0000e9,#0000df,#0000d5,#0000c9,#0000bd,#0000b2,#0000a8,#0000a0,#000098,#000092,#00008d,#00008a,#008,#000087,#000086)"></i><i style="background:linear-gradient(90deg,#0000db,#00d,#0000e1,#0000e3,#0000e6,#0000e8,#0000eb,#0000ed,#0000f0,#0000f2,#0000f6,#0000f9,#0000fd,#0001ff,#0004ff,#0007ff,#000aff,#000dff,#0010ff,#0014ff,#0019ff,#0021ff,#0027ff,#0027ff,#0023ff,#001eff,#0019ff,#0014ff,#000fff,#0009ff,#0002ff,#0000fa,#0000f1,#0000e9,#0000df,#0000d5,#0000c9,#0000bd,#0000b2,#0000a8,#0000a0,#000098,#000092,#00008d,#00008a,#008,#000087,#000086)"></i><i style="background:linear-gradient(90deg,#0000db,#00d,#0000e1,#0000e3,#0000e6,#0000e8,#0000eb,#0000ed,#0000f0,#0000f2,#0000f6,#0000f9,#0000fd,#0001ff,#0004ff,#0007ff,#000aff,#000dff,#0010ff,#0014ff,#0019ff,#0021ff,#0027ff,#0027ff,#0023ff,#001eff,#0019ff,#0014ff,#000fff,#0009ff,#0002ff,#0000fa,#0000f1,#0000e9,#0000df,#0000d5,#0000c9,#0000bd,#0000b2,#0000a8,#0000a0,#000098,#000092,#00008d,#00008a,#008,#000087,#000086)"></i><i style="background:linear-gradient(90deg,#0000dc,#0000e0,#0000e3,#0000e7,#0000ea,#0000ed,#0000ef,#0000f1,#0000f4,#0000f7,#0000fa,#0000fd,#0001ff,#0005ff,#0008ff,#000aff,#000cff,#000fff,#0012ff,#0016ff,#001bff,#0023ff,#0029ff,#0029ff,#0025ff,#001fff,#001aff,#0015ff,#0010ff,#000aff,#0002ff,#0000fa,#0000f1,#0000e9,#0000df,#0000d5,#0000c9,#0000bd,#0000b2,#0000a8,#0000a0,#000098,#000091,#00008c,#000089,#008,#000087,#000086)"></i><i style="background:linear-gradient(90deg,#0000df,#0000e3,#0000e8,#0000ec,#0000ef,#0000f2,#0000f5,#0000f7,#0000fa,#0000fc,#00f,#0003ff,#0006ff,#0009ff,#000cff,#000eff,#0010ff,#0012ff,#0015ff,#0018ff,#001dff,#0025ff,#002cff,#002cff,#0027ff,#0021ff,#001bff,#0016ff,#0010ff,#000aff,#0003ff,#0000fa,#0000f1,#0000e8,#0000df,#0000d5,#0000c9,#0000bd,#0000b2,#0000a8,#0000a0,#000098,#000091,#00008c,#000089,#008,#000086,#000086)"></i><i style="background:linear-gradient(90deg,#0000e4,#0000e8,#0000ed,#0000f1,#0000f5,#0000f9,#0000fc,#0000fe,#0002ff,#0004ff,#0006ff,#0009ff,#000cff,#000fff,#01f,#0013ff,#0014ff,#0016ff,#0018ff,#001bff,#0020ff,#0028ff,#002fff,#002fff,#002aff,#0023ff,#001cff,#0017ff,#01f,#000bff,#0003ff,#0000fa,#0000f1,#0000e8,#0000df,#0000d5,#0000c9,#0000bd,#0000b2,#0000a8,#0000a0,#000098,#000091,#00008c,#000089,#000087,#000086,#000086)"></i><i style="background:linear-gradient(90deg,#0000ea,#00e,#0000f3,#0000f8,#0000fc,#00f,#0004ff,#0006ff,#0009ff,#000bff,#000dff,#000fff,#0012ff,#0014ff,#0017ff,#0018ff,#0019ff,#001aff,#001cff,#001eff,#0023ff,#002bff,#0032ff,#03f,#002dff,#0025ff,#001eff,#0018ff,#0012ff,#000bff,#0003ff,#0000fa,#0000f1,#0000e8,#0000df,#0000d5,#0000c9,#0000bd,#0000b2,#0000a8,#00009f,#000097,#000091,#00008c,#000089,#000087,#000086,#000086)"></i><i style="background:linear-gradient(90deg,#0000f1,#0000f5,#0000fa,#0000fe,#0003ff,#0007ff,#000aff,#000dff,#0010ff,#0012ff,#0013ff,#0016ff,#0018ff,#001bff,#001cff,#001dff,#001eff,#001fff,#0020ff,#0021ff,#0026ff,#002eff,#0036ff,#0036ff,#0030ff,#0027ff,#0020ff,#001aff,#0013ff,#000cff,#0004ff,#0000fa,#0000f1,#0000e8,#0000df,#0000d5,#0000c9,#0000bd,#0000b2,#0000a8,#00009f,#000097,#000090,#00008c,#000089,#000087,#000086,#000086)"></i><i style="background:linear-gradient(90deg,#0000fa,#0000fd,#0002ff,#0006ff,#000aff,#000eff,#0012ff,#0015ff,#0017ff,#0019ff,#001bff,#001cff,#001fff,#0021ff,#02f,#0023ff,#0023ff,#0024ff,#0024ff,#0025ff,#0029ff,#0032ff,#0039ff,#003aff,#03f,#002aff,#02f,#001bff,#0014ff,#000dff,#0004ff,#0000fa,#0000f1,#0000e8,#0000df,#0000d4,#0000c9,#0000bd,#0000b2,#0000a8,#00009f,#000097,#000090,#00008b,#008,#000087,#000086,#000086)"></i><i style="background:linear-gradient(90deg,#0002ff,#0005ff,#0009ff,#000dff,#01f,#0015ff,#0019ff,#001cff,#001eff,#0020ff,#02f,#0024ff,#0026ff,#0028ff,#0029ff,#0029ff,#0029ff,#0029ff,#0028ff,#0029ff,#002cff,#0035ff,#003dff,#003eff,#0036ff,#002cff,#0024ff,#001dff,#0016ff,#000dff,#0004ff,#0000fa,#0000f1,#0000e8,#0000df,#0000d4,#0000c9,#0000bc,#0000b1,#0000a8,#00009f,#000097,#000090,#00008b,#008,#000087,#000086,#000086)"></i><i style="background:linear-gradient(90deg,#0009ff,#000cff,#0010ff,#0014ff,#0018ff,#001cff,#0020ff,#0023ff,#0026ff,#0028ff,#002aff,#002bff,#002dff,#002fff,#0030ff,#0030ff,#0030ff,#002fff,#002dff,#002dff,#0030ff,#0039ff,#0042ff,#0042ff,#003aff,#002fff,#0026ff,#001eff,#0017ff,#000eff,#0005ff,#0000fa,#0000f1,#0000e8,#0000de,#0000d4,#0000c8,#0000bc,#0000b1,#0000a7,#00009f,#000096,#000090,#00008b,#008,#000087,#000086,#000086)"></i><i style="background:linear-gradient(90deg,#0010ff,#0013ff,#0018ff,#001cff,#0020ff,#0024ff,#0028ff,#002bff,#002eff,#0030ff,#0032ff,#03f,#0035ff,#0036ff,#0037ff,#0037ff,#0037ff,#0035ff,#03f,#0031ff,#0035ff,#003eff,#0046ff,#0046ff,#003eff,#0032ff,#0028ff,#0020ff,#0018ff,#000fff,#0005ff,#0000fa,#0000f1,#0000e7,#0000de,#0000d3,#0000c7,#00b,#0000b0,#0000a7,#00009e,#000096,#00008f,#00008b,#008,#000087,#000086,#000086)"></i><i style="background:linear-gradient(90deg,#0016ff,#001aff,#001eff,#0023ff,#0027ff,#002bff,#002fff,#0032ff,#0035ff,#0038ff,#003aff,#003cff,#003dff,#003eff,#003eff,#003eff,#003eff,#003cff,#0038ff,#0036ff,#0039ff,#0042ff,#004bff,#004aff,#0041ff,#0035ff,#002bff,#02f,#0019ff,#0010ff,#0006ff,#0000fa,#0000f0,#0000e7,#00d,#0000d2,#0000c6,#0000ba,#0000af,#0000a6,#00009d,#000096,#00008f,#00008a,#008,#000087,#000086,#000086)"></i><i style="background:linear-gradient(90deg,#001bff,#0020ff,#0025ff,#002aff,#002fff,#03f,#0036ff,#003aff,#003dff,#0040ff,#0042ff,#04f,#0045ff,#0045ff,#0046ff,#0046ff,#0045ff,#0042ff,#003eff,#003bff,#003eff,#0047ff,#004fff,#004fff,#0045ff,#0038ff,#002dff,#0024ff,#001aff,#0010ff,#0006ff,#0000fa,#0000f0,#0000e6,#0000dc,#0000d1,#0000c5,#0000b9,#0000ae,#0000a5,#00009d,#000095,#00008f,#00008a,#008,#000087,#000086,#000086)"></i><i style="background:linear-gradient(90deg,#0020ff,#0025ff,#002bff,#0031ff,#0036ff,#003aff,#003dff,#0041ff,#04f,#0048ff,#004aff,#004cff,#004dff,#004dff,#004dff,#004dff,#004cff,#0049ff,#0043ff,#0040ff,#0043ff,#004cff,#0054ff,#0053ff,#0049ff,#003bff,#0030ff,#0025ff,#001bff,#01f,#0006ff,#0000fa,#0000f0,#0000e6,#0000db,#0000d0,#0000c4,#0000b8,#0000ad,#0000a4,#00009c,#000094,#00008e,#00008a,#008,#000087,#000086,#000086)"></i><i style="background:linear-gradient(90deg,#0025ff,#002aff,#0031ff,#0037ff,#003cff,#0040ff,#04f,#0047ff,#004bff,#004fff,#0052ff,#0053ff,#0054ff,#0054ff,#0054ff,#0054ff,#0053ff,#004fff,#0049ff,#0045ff,#0047ff,#0050ff,#0058ff,#0057ff,#004cff,#003eff,#0032ff,#0027ff,#001cff,#01f,#0006ff,#0000fa,#0000ef,#0000e5,#0000da,#0000cf,#0000c3,#0000b7,#0000ac,#0000a3,#00009b,#000094,#00008e,#00008a,#000087,#000087,#000086,#000086)"></i><i style="background:linear-gradient(90deg,#002aff,#002fff,#0036ff,#003cff,#0041ff,#0046ff,#0049ff,#004dff,#0051ff,#05f,#0059ff,#005aff,#005bff,#005bff,#005bff,#005bff,#0059ff,#05f,#004eff,#004aff,#004cff,#0054ff,#005cff,#005bff,#0050ff,#0041ff,#0034ff,#0028ff,#001dff,#01f,#0006ff,#0000fa,#0000ef,#0000e4,#0000d9,#0000ce,#0000c1,#0000b5,#0000ab,#0000a2,#00009a,#000093,#00008d,#000089,#000087,#000087,#000086,#000086)"></i><i style="background:linear-gradient(90deg,#002eff,#0034ff,#003bff,#0041ff,#0046ff,#004bff,#004fff,#0053ff,#0057ff,#005cff,#005fff,#0061ff,#0061ff,#0061ff,#0061ff,#0061ff,#005fff,#005aff,#0053ff,#004eff,#0050ff,#0058ff,#005fff,#005eff,#0052ff,#0043ff,#0035ff,#0029ff,#001dff,#01f,#0006ff,#0000fa,#00e,#0000e3,#0000d8,#00c,#0000c0,#0000b4,#0000a9,#0000a1,#009,#000093,#00008d,#000089,#000087,#000086,#000086,#000086)"></i><i style="background:linear-gradient(90deg,#0032ff,#0038ff,#003fff,#0045ff,#004bff,#004fff,#0053ff,#0058ff,#005cff,#0061ff,#0065ff,#0067ff,#0068ff,#0068ff,#0067ff,#0067ff,#0064ff,#005fff,#0057ff,#0053ff,#0054ff,#005cff,#0063ff,#0061ff,#05f,#0046ff,#0037ff,#002aff,#001dff,#01f,#0006ff,#0000f9,#00e,#0000e2,#0000d6,#0000cb,#0000be,#0000b2,#0000a8,#00009f,#000098,#000092,#00008d,#000089,#000087,#000086,#000086,#000086)"></i><i style="background:linear-gradient(90deg,#0036ff,#003bff,#0042ff,#0049ff,#004eff,#0053ff,#0058ff,#005cff,#0061ff,#0067ff,#006bff,#006dff,#006dff,#006dff,#006dff,#006cff,#0069ff,#0063ff,#005cff,#0058ff,#0059ff,#0060ff,#06f,#0063ff,#0058ff,#0048ff,#0039ff,#002bff,#001eff,#01f,#0005ff,#0000f8,#0000ec,#0000e1,#0000d5,#0000c9,#0000bc,#0000b1,#0000a6,#00009e,#000097,#000091,#00008c,#000089,#000087,#000086,#000086,#000086)"></i><i style="background:linear-gradient(90deg,#0039ff,#003fff,#0046ff,#004cff,#0052ff,#0057ff,#005cff,#0061ff,#06f,#006cff,#0071ff,#0073ff,#0073ff,#0073ff,#0073ff,#0071ff,#006eff,#0068ff,#0060ff,#005cff,#005dff,#0063ff,#0068ff,#06f,#005aff,#004aff,#003aff,#002cff,#001eff,#01f,#0004ff,#0000f7,#0000eb,#0000df,#0000d3,#0000c7,#00b,#0000af,#0000a5,#00009d,#000096,#000091,#00008c,#000089,#000087,#000086,#000086,#000086)"></i><i style="background:linear-gradient(90deg,#003cff,#0042ff,#0049ff,#004fff,#05f,#005bff,#0060ff,#0065ff,#006aff,#0071ff,#0075ff,#07f,#0078ff,#0078ff,#07f,#0076ff,#0072ff,#006cff,#0065ff,#0060ff,#0061ff,#06f,#006bff,#0068ff,#005cff,#004bff,#003bff,#002cff,#001eff,#0010ff,#0004ff,#0000f6,#0000ea,#00d,#0000d1,#0000c5,#0000b9,#0000ad,#0000a3,#00009c,#000095,#000090,#00008c,#000089,#000087,#000086,#000086,#000086)"></i><i style="background:linear-gradient(90deg,#003fff,#0045ff,#004cff,#0052ff,#0058ff,#005eff,#0063ff,#0069ff,#006eff,#0075ff,#0079ff,#007bff,#007cff,#007cff,#007bff,#007aff,#0076ff,#0070ff,#0069ff,#0065ff,#0065ff,#006aff,#006eff,#006bff,#005eff,#004dff,#003dff,#002dff,#001eff,#0010ff,#0003ff,#0000f5,#0000e8,#0000dc,#0000cf,#0000c3,#0000b7,#0000ab,#0000a1,#00009a,#000094,#00008f,#00008b,#008,#000087,#000086,#000086,#000086)"></i><i style="background:linear-gradient(90deg,#0042ff,#0047ff,#004eff,#05f,#005bff,#0061ff,#0067ff,#006cff,#0072ff,#0078ff,#007dff,#007fff,#007fff,#007fff,#007fff,#007dff,#007aff,#0074ff,#006dff,#0069ff,#0069ff,#006dff,#0070ff,#006dff,#0060ff,#004fff,#003eff,#002eff,#001eff,#0010ff,#0002ff,#0000f4,#0000e7,#0000da,#0000cd,#0000c1,#0000b5,#0000a9,#0000a0,#009,#000093,#00008f,#00008b,#008,#000087,#000086,#000086,#000086)"></i><i style="background:linear-gradient(90deg,#0045ff,#004aff,#0051ff,#0057ff,#005eff,#0064ff,#006aff,#0070ff,#0075ff,#007bff,#0080ff,#0081ff,#0082ff,#0082ff,#0082ff,#0080ff,#007dff,#07f,#0070ff,#006cff,#006cff,#0070ff,#0073ff,#006fff,#0062ff,#0050ff,#003eff,#002eff,#001eff,#000fff,#0001ff,#0000f3,#0000e5,#0000d8,#0000cb,#0000bf,#0000b2,#0000a7,#00009e,#000097,#000092,#00008e,#00008a,#008,#000087,#000086,#000086,#000086)"></i><i style="background:linear-gradient(90deg,#0047ff,#004cff,#0053ff,#005aff,#0060ff,#0067ff,#006dff,#0073ff,#0079ff,#007eff,#0082ff,#0084ff,#0084ff,#0084ff,#0084ff,#0083ff,#0080ff,#007aff,#0074ff,#0070ff,#006fff,#0072ff,#0075ff,#0071ff,#0063ff,#0051ff,#003fff,#002eff,#001eff,#000eff,#00f,#0000f1,#0000e3,#0000d6,#0000c9,#0000bc,#0000b0,#0000a5,#00009c,#000096,#000091,#00008d,#00008a,#008,#000087,#000086,#000086,#000086)"></i><i style="background:linear-gradient(90deg,#0049ff,#004eff,#05f,#005cff,#0063ff,#006aff,#0070ff,#0076ff,#007cff,#0080ff,#0084ff,#0086ff,#0086ff,#0086ff,#0086ff,#0085ff,#0082ff,#007dff,#07f,#0073ff,#0073ff,#0075ff,#07f,#0072ff,#0065ff,#0052ff,#0040ff,#002eff,#001dff,#000dff,#0000fe,#0000f0,#0000e1,#0000d3,#0000c6,#0000ba,#0000ae,#0000a3,#00009a,#000094,#000090,#00008c,#00008a,#008,#000087,#000086,#000086,#000086)"></i><i style="background:linear-gradient(90deg,#004bff,#0050ff,#0057ff,#005eff,#0065ff,#006cff,#0073ff,#0079ff,#007eff,#0083ff,#0086ff,#0087ff,#08f,#08f,#0087ff,#0087ff,#0084ff,#0080ff,#007bff,#07f,#0076ff,#0078ff,#0079ff,#0074ff,#06f,#0053ff,#0040ff,#002eff,#001cff,#000cff,#0000fc,#00e,#0000df,#0000d1,#0000c3,#0000b7,#0000ab,#0000a1,#000098,#000093,#00008f,#00008c,#000089,#008,#000087,#000086,#000086,#000086)"></i><i style="background:linear-gradient(90deg,#004cff,#0051ff,#0058ff,#005fff,#06f,#006eff,#0075ff,#007bff,#0080ff,#0085ff,#08f,#0089ff,#0089ff,#0089ff,#0089ff,#0089ff,#0087ff,#0083ff,#007eff,#007aff,#0079ff,#007aff,#007bff,#0076ff,#0067ff,#0054ff,#0041ff,#002eff,#001bff,#000bff,#0000fa,#0000ec,#00d,#0000ce,#0000c1,#0000b4,#0000a9,#00009e,#000097,#000091,#00008e,#00008b,#000089,#000087,#000087,#000086,#000086,#000086)"></i><i style="background:linear-gradient(90deg,#004dff,#0052ff,#0059ff,#0060ff,#0067ff,#006fff,#0076ff,#007dff,#0082ff,#0086ff,#0089ff,#008bff,#008bff,#008bff,#008bff,#008aff,#0089ff,#0087ff,#0082ff,#007eff,#007dff,#007dff,#007dff,#07f,#0069ff,#05f,#0041ff,#002dff,#001aff,#0009ff,#0000f9,#0000ea,#0000da,#00c,#0000be,#0000b1,#0000a6,#00009c,#000095,#000090,#00008d,#00008b,#000089,#000087,#000087,#000086,#000086,#000086)"></i><i style="background:linear-gradient(90deg,#004eff,#0053ff,#005aff,#0061ff,#0068ff,#0070ff,#07f,#007eff,#0083ff,#08f,#008bff,#008cff,#008cff,#008cff,#008cff,#008dff,#008cff,#008aff,#0086ff,#0082ff,#0080ff,#0080ff,#007fff,#0079ff,#006aff,#0056ff,#0042ff,#002dff,#0019ff,#0007ff,#0000f6,#0000e7,#0000d8,#0000c8,#0000ba,#0000ae,#0000a4,#00009a,#000093,#00008f,#00008c,#00008a,#008,#000087,#000087,#000086,#000086,#000086)"></i><i style="background:linear-gradient(90deg,#004eff,#0053ff,#005aff,#0061ff,#0068ff,#0070ff,#07f,#007eff,#0084ff,#0089ff,#008cff,#008eff,#008eff,#008eff,#008eff,#008fff,#008fff,#008eff,#008bff,#0087ff,#0085ff,#0083ff,#0081ff,#007aff,#006cff,#0058ff,#0043ff,#002dff,#0018ff,#0005ff,#0000f4,#0000e4,#0000d4,#0000c5,#0000b7,#0000ab,#0000a1,#000098,#000092,#00008e,#00008b,#00008a,#008,#000087,#000087,#000086,#000086,#000086)"></i><i style="background:linear-gradient(90deg,#004eff,#0053ff,#005aff,#0061ff,#0068ff,#0070ff,#07f,#007eff,#0084ff,#008aff,#008eff,#0090ff,#0090ff,#0090ff,#0090ff,#0091ff,#0093ff,#0092ff,#0090ff,#008dff,#0089ff,#0087ff,#0084ff,#007cff,#006dff,#005aff,#04f,#002dff,#0016ff,#0003ff,#0000f0,#0000e0,#0000d0,#0000c1,#0000b3,#0000a8,#00009e,#000096,#000090,#00008d,#00008b,#000089,#008,#000087,#000086,#000086,#000086,#000086)"></i><i style="background:linear-gradient(90deg,#004eff,#0053ff,#005aff,#0061ff,#0068ff,#0070ff,#07f,#007eff,#0085ff,#008bff,#008fff,#0091ff,#0092ff,#0092ff,#0093ff,#0095ff,#0097ff,#0097ff,#0096ff,#0093ff,#008fff,#008cff,#0087ff,#007eff,#006fff,#005cff,#0045ff,#002dff,#0015ff,#00f,#0000ed,#0000dc,#00c,#0000bc,#0000af,#0000a4,#00009b,#000094,#00008f,#00008c,#00008a,#000089,#008,#000087,#000086,#000086,#000086,#000086)"></i><i style="background:linear-gradient(90deg,#004dff,#0052ff,#0059ff,#0061ff,#0068ff,#0070ff,#07f,#007eff,#0085ff,#008bff,#0090ff,#0093ff,#0094ff,#0095ff,#0096ff,#09f,#009cff,#009dff,#009cff,#09f,#0096ff,#0091ff,#008bff,#0080ff,#0071ff,#005eff,#0047ff,#002cff,#0013ff,#0000fb,#0000e9,#0000d7,#0000c7,#0000b8,#0000ab,#0000a1,#009,#000092,#00008e,#00008b,#00008a,#008,#000087,#000087,#000086,#000086,#000086,#000086)"></i><i style="background:linear-gradient(90deg,#004cff,#0052ff,#0059ff,#0061ff,#0068ff,#0070ff,#07f,#007fff,#0086ff,#008cff,#0092ff,#0095ff,#0097ff,#0098ff,#009aff,#009eff,#00a2ff,#00a3ff,#00a3ff,#00a1ff,#009dff,#0097ff,#008fff,#0083ff,#0073ff,#005fff,#0047ff,#002cff,#0010ff,#0000f8,#0000e4,#0000d3,#0000c2,#0000b3,#0000a7,#00009e,#000096,#000091,#00008d,#00008a,#000089,#008,#000087,#000087,#000086,#000086,#000086,#000086)"></i><i style="background:linear-gradient(90deg,#004bff,#0051ff,#0059ff,#0061ff,#0069ff,#0070ff,#0078ff,#007fff,#0087ff,#008eff,#0094ff,#0098ff,#009bff,#009eff,#00a1ff,#00a5ff,#0af,#00abff,#00abff,#00a9ff,#00a6ff,#009eff,#0093ff,#0086ff,#0075ff,#0061ff,#0048ff,#002aff,#000dff,#0000f4,#0000df,#0000ce,#0000be,#0000af,#0000a3,#00009b,#000094,#00008f,#00008c,#00008a,#000089,#008,#000087,#000087,#000086,#000086,#000086,#000086)"></i><i style="background:linear-gradient(90deg,#004aff,#0051ff,#0059ff,#0061ff,#006aff,#0072ff,#007aff,#0081ff,#0089ff,#0091ff,#0098ff,#009dff,#00a1ff,#00a5ff,#00a9ff,#00afff,#00b3ff,#00b5ff,#00b4ff,#00b2ff,#00aeff,#00a5ff,#0098ff,#0089ff,#07f,#0062ff,#0047ff,#0028ff,#0009ff,#0000ef,#0000da,#0000c8,#0000b9,#0000ab,#0000a0,#000098,#000092,#00008e,#00008b,#000089,#008,#008,#000087,#000087,#000086,#000086,#000086,#000086)"></i><i style="background:linear-gradient(90deg,#004bff,#0052ff,#005aff,#0063ff,#006cff,#0074ff,#007dff,#0085ff,#008eff,#0096ff,#009eff,#00a5ff,#0af,#00afff,#00b4ff,#0bf,#00bfff,#00c0ff,#00beff,#0bf,#00b6ff,#0af,#009bff,#008bff,#0078ff,#0062ff,#0047ff,#0025ff,#0004ff,#0000e9,#0000d4,#0000c3,#0000b4,#0000a7,#00009d,#000096,#000091,#00008d,#00008b,#000089,#008,#000087,#000087,#000087,#000086,#000086,#000086,#000086)"></i><i style="background:linear-gradient(90deg,#004dff,#0054ff,#005dff,#06f,#0070ff,#0079ff,#0083ff,#008cff,#0095ff,#009fff,#00a7ff,#00afff,#00b6ff,#00bcff,#00c2ff,#00c8ff,#00cdff,#0cf,#00c8ff,#00c4ff,#00bcff,#00afff,#009eff,#008cff,#0079ff,#0062ff,#0045ff,#0021ff,#0000fd,#0000e2,#0000ce,#0000bd,#0000af,#0000a3,#00009a,#000093,#00008f,#00008c,#00008a,#000089,#008,#000087,#000087,#000086,#000086,#000086,#000086,#000086)"></i><i style="background:linear-gradient(90deg,#004fff,#0057ff,#0061ff,#006bff,#0075ff,#0080ff,#008bff,#0096ff,#00a0ff,#0af,#00b4ff,#00bcff,#00c3ff,#00caff,#00d1ff,#00d7ff,#00dbff,#00d9ff,#00d2ff,#00cbff,#00c0ff,#00b2ff,#00a0ff,#008dff,#0079ff,#0062ff,#0043ff,#001cff,#0000f6,#0000db,#0000c7,#0000b7,#00a,#00009f,#000097,#000091,#00008e,#00008b,#00008a,#000089,#008,#000087,#000087,#000086,#000086,#000086,#000086,#000086)"></i><i style="background:linear-gradient(90deg,#0054ff,#005bff,#06f,#0071ff,#007dff,#0089ff,#0096ff,#00a2ff,#00adff,#00b8ff,#00c2ff,#00cbff,#00d2ff,#00d9ff,#00dfff,#00e5ff,#00e8ff,#00e4ff,#00dbff,#00d0ff,#00c3ff,#00b3ff,#00a0ff,#008dff,#0078ff,#0060ff,#003fff,#0016ff,#00e,#0000d3,#0000c0,#0000b1,#0000a5,#00009c,#000094,#000090,#00008d,#00008b,#000089,#008,#008,#000087,#000087,#000086,#000086,#000086,#000086,#000086)"></i><i style="background:linear-gradient(90deg,#005aff,#0062ff,#006dff,#0079ff,#0086ff,#0094ff,#00a3ff,#00b1ff,#00bdff,#00c8ff,#00d2ff,#00dbff,#00e2ff,#00e8ff,#0ef,#00f2ff,#00f4ff,#0ef,#00e2ff,#00d3ff,#00c3ff,#00b3ff,#00a0ff,#008cff,#0076ff,#005bff,#0039ff,#000eff,#0000e6,#0000cb,#0000b9,#0000ac,#0000a1,#000098,#000092,#00008e,#00008c,#00008a,#000089,#008,#008,#000087,#000087,#000086,#000086,#000086,#000086,#000086)"></i><i style="background:linear-gradient(90deg,#0061ff,#006aff,#0076ff,#0084ff,#0092ff,#00a3ff,#00b3ff,#00c2ff,#00cfff,#00dbff,#00e4ff,#00ecff,#00f3ff,#00f8ff,#00fcff,#0ff,#0ff,#00f8ff,#00e8ff,#00d6ff,#00c3ff,#00b2ff,#00a0ff,#008aff,#0072ff,#05f,#0030ff,#0005ff,#00d,#0000c4,#0000b3,#0000a7,#00009d,#000096,#000090,#00008d,#00008b,#00008a,#000089,#008,#000087,#000087,#000087,#000086,#000086,#000086,#000086,#000086)"></i><i style="background:linear-gradient(90deg,#006bff,#0075ff,#0083ff,#0092ff,#00a2ff,#00b4ff,#00c6ff,#00d6ff,#00e3ff,#00efff,#00f8ff,#0ff,#06fff9,#0afff5,#0dfff2,#0efff1,#0cfff3,#02fffd,#0ef,#00d7ff,#00c2ff,#00b0ff,#009dff,#0086ff,#006bff,#004cff,#0026ff,#0000fa,#0000d5,#0000bd,#0000ae,#0000a3,#00009b,#000094,#00008f,#00008c,#00008b,#000089,#008,#008,#000087,#000087,#000087,#000086,#000086,#000086,#000086,#000086)"></i><i style="background:linear-gradient(90deg,#07f,#0083ff,#0093ff,#00a4ff,#00b6ff,#00c9ff,#00dcff,#00ecff,#00f9ff,#05fffa,#0efff1,#14ffeb,#18ffe7,#1bffe4,#1dffe2,#1dffe2,#19ffe6,#0bfff4,#00f2ff,#00d7ff,#00c0ff,#00acff,#0098ff,#007fff,#0061ff,#003fff,#0019ff,#0000ef,#0000cd,#0000b7,#0000a9,#00009f,#000098,#000092,#00008e,#00008c,#00008a,#000089,#008,#008,#000087,#000087,#000086,#000086,#000086,#000086,#000086,#000086)"></i><i style="background:linear-gradient(90deg,#0086ff,#0094ff,#00a6ff,#00b9ff,#00cdff,#00e1ff,#00f4ff,#06fff9,#12ffed,#1cffe3,#24ffdb,#29ffd6,#2cffd3,#2effd1,#2effd1,#2dffd2,#27ffd8,#15ffea,#00f6ff,#00d6ff,#00bcff,#00a6ff,#0090ff,#0075ff,#0054ff,#0030ff,#000bff,#0000e4,#0000c6,#0000b2,#0000a6,#00009d,#000096,#000091,#00008e,#00008b,#00008a,#000089,#008,#000087,#000087,#000087,#000086,#000086,#000086,#000086,#000086,#000086)"></i><i style="background:linear-gradient(90deg,#0098ff,#00a8ff,#00bdff,#00d2ff,#00e7ff,#00fcff,#10ffef,#1fffe0,#2bffd4,#34ffcb,#3affc5,#3effc1,#40ffbf,#40ffbf,#40ffbf,#3dffc2,#34ffcb,#1dffe2,#00f8ff,#00d4ff,#00b5ff,#009dff,#0084ff,#06f,#0043ff,#001fff,#0000fb,#0000da,#0000bf,#0000ae,#0000a2,#00009a,#000095,#000090,#00008d,#00008b,#00008a,#000089,#008,#000087,#000087,#000087,#000086,#000086,#000086,#000086,#000086,#000086)"></i><i style="background:linear-gradient(90deg,#00adff,#00bfff,#00d6ff,#00ecff,#03fffc,#18ffe7,#2cffd3,#3bffc4,#45ffba,#4cffb3,#51ffae,#54ffab,#54ffab,#53ffac,#51ffae,#4cffb3,#40ffbf,#24ffdb,#00f9ff,#00d0ff,#00adff,#0091ff,#0075ff,#05f,#0031ff,#000dff,#0000ec,#0000cf,#0000b9,#00a,#0000a0,#000098,#000093,#00008f,#00008d,#00008b,#000089,#008,#008,#000087,#000087,#000087,#000086,#000086,#000086,#000086,#000086,#000086)"></i><i style="background:linear-gradient(90deg,#00c6ff,#00d9ff,#00f1ff,#09fff6,#1fffe0,#35ffca,#48ffb7,#56ffa9,#5fffa0,#64ff9b,#68ff97,#69ff96,#68ff97,#65ff9a,#60ff9f,#59ffa6,#4affb5,#29ffd6,#00f9ff,#00caff,#00a2ff,#0082ff,#0064ff,#0042ff,#001eff,#0000fb,#0000de,#0000c6,#0000b4,#0000a7,#00009d,#000097,#000092,#00008f,#00008c,#00008a,#000089,#008,#000087,#000087,#000087,#000086,#000086,#000086,#000086,#000086,#000086,#000086)"></i><i style="background:linear-gradient(90deg,#00e1ff,#00f4ff,#0efff1,#25ffda,#3bffc4,#52ffad,#65ff9a,#72ff8d,#78ff87,#7cff83,#7eff81,#7dff82,#7bff84,#76ff89,#6fff90,#64ff9b,#52ffad,#2dffd2,#00f8ff,#00c3ff,#0096ff,#0071ff,#0050ff,#002eff,#000cff,#0000ec,#0000d2,#0000be,#0000af,#0000a4,#00009b,#000095,#000091,#00008e,#00008c,#00008a,#000089,#008,#000087,#000087,#000087,#000086,#000086,#000086,#000086,#000086,#000086,#000086)"></i><i style="background:linear-gradient(90deg,#00feff,#13ffec,#2bffd4,#42ffbd,#58ffa7,#6eff91,#81ff7e,#8cff73,#91ff6e,#92ff6d,#92ff6d,#91ff6e,#8cff73,#85ff7a,#7bff84,#6eff91,#58ffa7,#2fffd0,#00f5ff,#00baff,#08f,#0060ff,#003dff,#001bff,#0000fa,#0000de,#0000c9,#0000b8,#0000ab,#0000a1,#00009a,#000094,#000090,#00008d,#00008b,#00008a,#000089,#008,#000087,#000087,#000087,#000086,#000086,#000086,#000086,#000086,#000086,#000086)"></i><i style="background:linear-gradient(90deg,#1dffe2,#31ffce,#49ffb6,#5fffa0,#75ff8a,#8aff75,#9bff64,#a5ff5a,#a8ff57,#a8ff57,#a5ff5a,#a2ff5d,#9cff63,#92ff6d,#86ff79,#75ff8a,#5bffa4,#2effd1,#00f0ff,#00b0ff,#0079ff,#004eff,#002aff,#000aff,#0000ec,#0000d4,#0000c1,#0000b3,#0000a8,#00009f,#000098,#000093,#000090,#00008d,#00008b,#00008a,#008,#008,#000087,#000087,#000086,#000086,#000086,#000086,#000086,#000086,#000086,#000086)"></i><i style="background:linear-gradient(90deg,#3bffc4,#4fffb0,#67ff98,#7dff82,#91ff6e,#a4ff5b,#b4ff4b,#bdff42,#beff41,#bf4,#b7ff48,#b1ff4e,#a9ff56,#9dff62,#8fff70,#7bff84,#5dffa2,#2cffd3,#00e9ff,#00a4ff,#006aff,#003dff,#0019ff,#0000fa,#0000e0,#0000cb,#00b,#0000af,#0000a5,#00009d,#000097,#000092,#00008f,#00008d,#00008b,#000089,#008,#000087,#000087,#000087,#000086,#000086,#000086,#000086,#000086,#000086,#000086,#000086)"></i><i style="background:linear-gradient(90deg,#57ffa8,#6cff93,#85ff7a,#9bff64,#adff52,#beff41,#cbff34,#d2ff2d,#d2ff2d,#cdff32,#c7ff38,#bfff40,#b4ff4b,#a6ff59,#95ff6a,#7fff80,#5dffa2,#28ffd7,#00e1ff,#0098ff,#005bff,#002dff,#0009ff,#0000ec,#0000d6,#0000c4,#0000b6,#0000ab,#0000a3,#00009c,#000096,#000092,#00008f,#00008c,#00008a,#000089,#008,#000087,#000087,#000086,#000086,#000086,#000086,#000086,#000086,#000086,#000086,#000086)"></i><i style="background:linear-gradient(90deg,#72ff8d,#8f7,#a2ff5d,#b8ff47,#c8ff37,#d5ff2a,#e0ff1f,#e5ff1a,#e3ff1c,#df2,#d4ff2b,#caff35,#bdff42,#adff52,#9f6,#80ff7f,#5dffa2,#24ffdb,#00d7ff,#008bff,#004cff,#001eff,#0000f9,#0000e0,#0000cd,#0000be,#0000b2,#0000a8,#0000a0,#00009a,#000095,#000091,#00008e,#00008c,#00008a,#000089,#008,#000087,#000087,#000086,#000086,#000086,#000086,#000086,#000086,#000086,#000086,#000086)"></i><i style="background:linear-gradient(90deg,#8bff74,#a2ff5d,#beff41,#d3ff2c,#e1ff1e,#eaff15,#f1ff0e,#f4ff0b,#f2ff0d,#eaff15,#e0ff1f,#d3ff2c,#c4ff3b,#b1ff4e,#9bff64,#80ff7f,#5affa5,#1effe1,#00cdff,#007dff,#003eff,#000fff,#0000ec,#0000d6,#0000c6,#0000b9,#0000af,#0000a6,#00009f,#009,#000094,#000090,#00008e,#00008c,#00008a,#000089,#008,#000087,#000087,#000086,#000086,#000086,#000086,#000086,#000086,#000086,#000086,#000086)"></i><i style="background:linear-gradient(90deg,#a1ff5e,#baff45,#d6ff29,#ebff14,#f6ff09,#fcff03,#ff0,#fffe00,#fdff02,#f4ff0b,#e8ff17,#daff25,#c9ff36,#b4ff4b,#9cff63,#7fff80,#57ffa8,#17ffe8,#00c3ff,#0070ff,#0030ff,#0002ff,#0000e1,#00c,#0000bf,#0000b5,#0000ac,#0000a4,#00009d,#000097,#000093,#000090,#00008d,#00008b,#00008a,#000089,#008,#000087,#000086,#000086,#000086,#000086,#000086,#000086,#000086,#000086,#000086,#000086)"></i><i style="background:linear-gradient(90deg,#b3ff4c,#cdff32,#e9ff16,#fdff02,#fff800,#fff500,#fff400,#fff500,#fff900,#fbff04,#ef1,#deff21,#cf3,#b6ff49,#9cff63,#7eff81,#54ffab,#10ffef,#00b8ff,#0064ff,#0024ff,#0000f5,#0000d7,#0000c4,#0000b9,#0000b1,#0000a9,#0000a2,#00009c,#000096,#000092,#00008f,#00008d,#00008b,#00008a,#000089,#008,#000087,#000086,#000086,#000086,#000086,#000086,#000086,#000086,#000086,#000086,#000086)"></i><i style="background:linear-gradient(90deg,#c1ff3e,#daff25,#f6ff09,#fff500,#ffed00,#ffec00,#ffec00,#ffef00,#fff400,#ff0,#f1ff0e,#e1ff1e,#cdff32,#b7ff48,#9cff63,#7dff82,#50ffaf,#0afff5,#00afff,#0059ff,#0019ff,#0000eb,#0000ce,#0000be,#0000b4,#0000ae,#0000a7,#0000a0,#00009a,#000095,#000091,#00008e,#00008c,#00008b,#000089,#008,#008,#000087,#000086,#000086,#000086,#000086,#000086,#000086,#000086,#000086,#000086,#000086)"></i><i style="background:linear-gradient(90deg,#caff35,#e2ff1d,#feff01,#fe0,#ffe700,#ffe700,#ffe800,#ffeb00,#fff100,#fffd00,#f2ff0d,#e1ff1e,#ceff31,#b7ff48,#9cff63,#7bff84,#4dffb2,#04fffb,#00a7ff,#0050ff,#0010ff,#0000e4,#0000c7,#0000b8,#0000b0,#0000ab,#0000a5,#00009e,#009,#000094,#000091,#00008e,#00008c,#00008b,#000089,#008,#000087,#000087,#000086,#000086,#000086,#000086,#000086,#000086,#000086,#000086,#000086,#000086)"></i><i style="background:linear-gradient(90deg,#cbff34,#e4ff1b,#ff0,#ffed00,#ffe600,#ffe600,#ffe700,#ffea00,#fff100,#fffd00,#f2ff0d,#e1ff1e,#ceff31,#b7ff48,#9cff63,#7aff85,#4affb5,#0ff,#00a3ff,#004cff,#000cff,#0000df,#0000c3,#0000b4,#0000ad,#0000a8,#0000a2,#00009d,#000098,#000093,#000090,#00008e,#00008c,#00008a,#000089,#008,#000087,#000087,#000086,#000086,#000086,#000086,#000086,#000086,#000086,#000086,#000086,#000086)"></i><i style="background:linear-gradient(90deg,#c5ff3a,#deff21,#faff05,#fff100,#ffea00,#ffe900,#ffea00,#ffed00,#fff300,#fffe00,#f1ff0e,#e0ff1f,#cdff32,#b7ff48,#9cff63,#7aff85,#49ffb6,#0ff,#00a3ff,#004cff,#000bff,#0000de,#0000c2,#0000b3,#0000ab,#0000a6,#0000a1,#00009b,#000096,#000093,#000090,#00008d,#00008c,#00008a,#000089,#008,#000087,#000087,#000086,#000086,#000086,#000086,#000086,#000086,#000086,#000086,#000086,#000086)"></i><i style="background:linear-gradient(90deg,#b9ff46,#d4ff2b,#f1ff0e,#fffa00,#fff100,#ffef00,#ffef00,#fff100,#fff700,#fdff02,#ef1,#deff21,#cbff34,#b6ff49,#9bff64,#79ff86,#49ffb6,#02fffd,#00a8ff,#0051ff,#000fff,#0000e1,#0000c4,#0000b4,#0000ab,#0000a5,#00009f,#00009a,#000095,#000092,#00008f,#00008d,#00008b,#00008a,#000089,#008,#000087,#000087,#000086,#000086,#000086,#000086,#000086,#000086,#000086,#000086,#000086,#000086)"></i><i style="background:linear-gradient(90deg,#a9ff56,#c3ff3c,#e1ff1e,#f6ff09,#fffd00,#fff900,#fff700,#fff700,#fffc00,#f8ff07,#eaff15,#dbff24,#c9ff36,#b5ff4a,#9bff64,#79ff86,#4affb5,#06fff9,#00afff,#005aff,#0018ff,#0000e8,#0000c9,#0000b7,#0000ac,#0000a4,#00009e,#009,#000095,#000091,#00008f,#00008d,#00008b,#00008a,#000089,#008,#000087,#000087,#000086,#000086,#000086,#000086,#000086,#000086,#000086,#000086,#000086,#000086)"></i><i style="background:linear-gradient(90deg,#94ff6b,#aeff51,#cdff32,#e3ff1c,#f1ff0e,#f8ff07,#fdff02,#ff0,#fbff04,#f2ff0d,#e5ff1a,#d7ff28,#c7ff38,#b4ff4b,#9cff63,#7aff85,#4bffb4,#0bfff4,#00b9ff,#06f,#0023ff,#0000f2,#0000d0,#00b,#0000ae,#0000a5,#00009e,#009,#000095,#000091,#00008f,#00008d,#00008b,#00008a,#000089,#008,#000087,#000087,#000086,#000086,#000086,#000086,#000086,#000086,#000086,#000086,#000086,#000086)"></i><i style="background:linear-gradient(90deg,#7dff82,#97ff68,#b5ff4a,#cdff32,#df2,#e8ff17,#f1ff0e,#f4ff0b,#f2ff0d,#eaff15,#dfff20,#d2ff2d,#c4ff3b,#b3ff4c,#9dff62,#7cff83,#4effb1,#1fe,#00c4ff,#0075ff,#0031ff,#0000fd,#0000d8,#0000c1,#0000b2,#0000a7,#0000a0,#00009a,#000095,#000092,#00008f,#00008d,#00008b,#00008a,#000089,#008,#000087,#000087,#000086,#000086,#000086,#000086,#000086,#000086,#000086,#000086,#000086,#000086)"></i><i style="background:linear-gradient(90deg,#64ff9b,#7dff82,#9cff63,#b5ff4a,#c8ff37,#d7ff28,#e2ff1d,#e8ff17,#e6ff19,#e0ff1f,#d7ff28,#cf3,#c1ff3e,#b3ff4c,#9fff60,#7fff80,#51ffae,#17ffe8,#00d0ff,#0084ff,#0041ff,#000aff,#0000e0,#0000c7,#0000b7,#0000ab,#0000a3,#00009c,#000097,#000093,#000090,#00008d,#00008c,#00008a,#000089,#008,#000087,#000087,#000086,#000086,#000086,#000086,#000086,#000086,#000086,#000086,#000086,#000086)"></i><i style="background:linear-gradient(90deg,#4affb5,#64ff9b,#83ff7c,#9dff62,#b2ff4d,#c4ff3b,#d2ff2d,#d9ff26,#d9ff26,#d4ff2b,#cdff32,#c6ff39,#bdff42,#b2ff4d,#a0ff5f,#82ff7d,#5fa,#1dffe2,#00dbff,#0093ff,#0050ff,#0016ff,#0000e9,#0000ce,#0000bd,#0000b1,#0000a8,#00009f,#009,#000094,#000091,#00008e,#00008c,#00008b,#000089,#008,#000087,#000087,#000086,#000086,#000086,#000086,#000086,#000086,#000086,#000086,#000086,#000086)"></i><i style="background:linear-gradient(90deg,#31ffce,#4bffb4,#6aff95,#85ff7a,#9cff63,#b0ff4f,#c0ff3f,#c9ff36,#caff35,#c8ff37,#c4ff3b,#bfff40,#b9ff46,#b0ff4f,#a2ff5d,#85ff7a,#58ffa7,#23ffdc,#00e5ff,#00a2ff,#005fff,#0023ff,#0000f3,#0000d6,#0000c5,#0000b9,#0000ae,#0000a4,#00009c,#000096,#000092,#00008f,#00008d,#00008b,#00008a,#000089,#008,#000087,#000086,#000086,#000086,#000086,#000086,#000086,#000086,#000086,#000086,#000086)"></i><i style="background:linear-gradient(90deg,#18ffe7,#32ffcd,#51ffae,#6dff92,#85ff7a,#9bff64,#adff52,#b8ff47,#bf4,#bf4,#baff45,#b8ff47,#b4ff4b,#aeff51,#a2ff5d,#86ff79,#5affa5,#27ffd8,#00edff,#00afff,#006eff,#002fff,#0000fc,#0000df,#0000ce,#0000c2,#0000b6,#00a,#0000a0,#009,#000094,#000090,#00008e,#00008c,#00008a,#000089,#008,#000087,#000086,#000086,#000086,#000086,#000086,#000086,#000086,#000086,#000086,#000086)"></i><i style="background:linear-gradient(90deg,#00feff,#18ffe7,#38ffc7,#54ffab,#6eff91,#85ff7a,#9f6,#a6ff59,#acff53,#afff50,#b1ff4e,#b1ff4e,#afff50,#abff54,#a1ff5e,#87ff78,#5affa5,#29ffd6,#00f4ff,#00baff,#007bff,#003bff,#0007ff,#0000e8,#0000d8,#00c,#0000bf,#0000b0,#0000a4,#00009c,#000096,#000091,#00008e,#00008c,#00008b,#000089,#008,#000087,#000086,#000086,#000086,#000086,#000086,#000086,#000086,#000086,#000086,#000086)"></i><i style="background:linear-gradient(90deg,#00e5ff,#00feff,#1fffe0,#3cffc3,#56ffa9,#6fff90,#85ff7a,#94ff6b,#9dff62,#a3ff5c,#a7ff58,#a9ff56,#a9ff56,#a7ff58,#a0ff5f,#86ff79,#5affa5,#2bffd4,#00faff,#00c4ff,#0087ff,#0047ff,#0012ff,#0000f3,#0000e3,#0000d7,#0000c8,#0000b7,#0000a9,#00009f,#000098,#000093,#000090,#00008d,#00008b,#00008a,#008,#000087,#000087,#000086,#000086,#000086,#000086,#000086,#000086,#000086,#000086,#000086)"></i><i style="background:linear-gradient(90deg,#00cdff,#00e6ff,#06fff9,#23ffdc,#3fffc0,#59ffa6,#70ff8f,#81ff7e,#8dff72,#96ff69,#9dff62,#a0ff5f,#a2ff5d,#a2ff5d,#9cff63,#84ff7b,#59ffa6,#2cffd3,#00feff,#00cdff,#0092ff,#0052ff,#001dff,#0000fe,#00e,#0000e2,#0000d2,#0000bf,#0000ae,#0000a2,#00009a,#000095,#000091,#00008e,#00008c,#00008a,#000089,#000087,#000087,#000086,#000086,#000086,#000086,#000086,#000086,#000086,#000086,#000086)"></i><i style="background:linear-gradient(90deg,#00b6ff,#00cfff,#00edff,#0cfff3,#28ffd7,#43ffbc,#5bffa4,#6fff90,#7dff82,#89ff76,#91ff6e,#97ff68,#9aff65,#9bff64,#97ff68,#80ff7f,#56ffa9,#2cffd3,#02fffd,#00d3ff,#009cff,#005dff,#0028ff,#000aff,#0000fa,#0000ed,#0000dc,#0000c6,#0000b3,#0000a6,#00009d,#000097,#000092,#00008f,#00008c,#00008a,#000089,#008,#000087,#000087,#000086,#000086,#000086,#000086,#000086,#000086,#000086,#000086)"></i><i style="background:linear-gradient(90deg,#00a0ff,#00b8ff,#00d6ff,#00f4ff,#12ffed,#2dffd2,#47ffb8,#5bffa4,#6cff93,#7aff85,#84ff7b,#8bff74,#90ff6f,#92ff6d,#8fff70,#79ff86,#52ffad,#2affd5,#04fffb,#00d9ff,#00a5ff,#0068ff,#0035ff,#0017ff,#0007ff,#0000f9,#0000e6,#0000ce,#0000b9,#00a,#0000a0,#009,#000094,#000090,#00008d,#00008b,#000089,#008,#000087,#000087,#000086,#000086,#000086,#000086,#000086,#000086,#000086,#000086)"></i><i style="background:linear-gradient(90deg,#008bff,#00a2ff,#00c0ff,#00deff,#00fbff,#18ffe7,#32ffcd,#48ffb7,#5affa5,#69ff96,#75ff8a,#7eff81,#84ff7b,#8f7,#85ff7a,#71ff8e,#4cffb3,#28ffd7,#05fffa,#0df,#00adff,#0074ff,#0042ff,#0024ff,#0014ff,#0005ff,#0000f0,#0000d6,#0000bf,#0000ae,#0000a4,#00009c,#000096,#000091,#00008e,#00008c,#00008a,#008,#000087,#000087,#000087,#000086,#000086,#000086,#000086,#000086,#000086,#000086)"></i><i style="background:linear-gradient(90deg,#0076ff,#008eff,#00abff,#00c8ff,#00e5ff,#02fffd,#1cffe3,#3fc,#47ffb8,#57ffa8,#65ff9a,#6fff90,#76ff89,#7bff84,#79ff86,#67ff98,#45ffba,#24ffdb,#04fffb,#00e0ff,#00b4ff,#007eff,#004eff,#0031ff,#0020ff,#01f,#0000fa,#0000de,#0000c5,#0000b3,#0000a7,#00009f,#000098,#000093,#00008f,#00008c,#00008a,#000089,#008,#000087,#000087,#000086,#000086,#000086,#000086,#000086,#000086,#000086)"></i><i style="background:linear-gradient(90deg,#0064ff,#007aff,#0097ff,#00b4ff,#00d0ff,#00ecff,#07fff8,#1fffe0,#3fc,#45ffba,#53ffac,#5effa1,#67ff98,#6dff92,#6cff93,#5cffa3,#3dffc2,#1fffe0,#02fffd,#00e2ff,#00baff,#0087ff,#005aff,#003dff,#002cff,#001bff,#0005ff,#0000e6,#0000cb,#0000b8,#0000ac,#0000a2,#00009b,#000095,#000090,#00008d,#00008b,#000089,#008,#000087,#000087,#000086,#000086,#000086,#000086,#000086,#000086,#000086)"></i><i style="background:linear-gradient(90deg,#0054ff,#0069ff,#0085ff,#00a0ff,#00bcff,#00d7ff,#00f1ff,#0afff5,#1fffe0,#31ffce,#41ffbe,#4dffb2,#57ffa8,#5effa1,#5effa1,#50ffaf,#34ffcb,#19ffe6,#00feff,#00e2ff,#00beff,#008fff,#0064ff,#0048ff,#0036ff,#0025ff,#000eff,#00e,#0000d2,#0000be,#0000b0,#0000a5,#00009d,#000096,#000091,#00008e,#00008b,#000089,#008,#000087,#000087,#000087,#000086,#000086,#000086,#000086,#000086,#000086)"></i><i style="background:linear-gradient(90deg,#0047ff,#005bff,#0075ff,#008fff,#0af,#00c4ff,#00deff,#00f5ff,#0bfff4,#1dffe2,#2effd1,#3bffc4,#46ffb9,#4effb1,#50ffaf,#43ffbc,#2affd5,#1fe,#00f9ff,#00e1ff,#00c1ff,#0096ff,#006cff,#0051ff,#0040ff,#002fff,#0016ff,#0000f5,#0000d8,#0000c3,#0000b4,#0000a9,#0000a0,#000098,#000093,#00008f,#00008c,#00008a,#008,#008,#000087,#000087,#000086,#000086,#000086,#000086,#000086,#000086)"></i><i style="background:linear-gradient(90deg,#003dff,#004fff,#0067ff,#0080ff,#09f,#00b2ff,#00cbff,#00e2ff,#00f7ff,#0afff5,#1bffe4,#29ffd6,#35ffca,#3fffc0,#41ffbe,#36ffc9,#1fffe0,#09fff6,#00f3ff,#00dfff,#00c2ff,#009aff,#0074ff,#0059ff,#0048ff,#0037ff,#001eff,#0000fc,#0000de,#0000c8,#0000b9,#0000ad,#0000a3,#00009b,#000094,#000090,#00008d,#00008a,#000089,#008,#000087,#000087,#000086,#000086,#000086,#000086,#000086,#000086)"></i><i style="background:linear-gradient(90deg,#0035ff,#0045ff,#005bff,#0072ff,#008aff,#00a2ff,#00baff,#00d0ff,#00e4ff,#00f7ff,#08fff7,#17ffe8,#24ffdb,#2fffd0,#3fc,#28ffd7,#14ffeb,#0ff,#00edff,#00dbff,#00c2ff,#009eff,#007aff,#0061ff,#004fff,#003eff,#0025ff,#0004ff,#0000e4,#0000ce,#0000be,#0000b1,#0000a7,#00009e,#000097,#000092,#00008e,#00008b,#000089,#008,#000087,#000087,#000086,#000086,#000086,#000086,#000086,#000086)"></i><i style="background:linear-gradient(90deg,#002eff,#003dff,#0051ff,#06f,#007cff,#0093ff,#00a9ff,#00bfff,#00d3ff,#00e5ff,#00f6ff,#06fff9,#14ffeb,#20ffdf,#24ffdb,#1bffe4,#08fff7,#00f5ff,#00e6ff,#00d7ff,#00c1ff,#00a1ff,#007fff,#0067ff,#05f,#04f,#002aff,#000aff,#0000e9,#0000d3,#0000c3,#0000b6,#0000ab,#0000a1,#009,#000094,#00008f,#00008c,#00008a,#008,#008,#000087,#000087,#000086,#000086,#000086,#000086,#000086)"></i><i style="background:linear-gradient(90deg,#0028ff,#0035ff,#0048ff,#005bff,#006fff,#0085ff,#009aff,#00afff,#00c3ff,#00d5ff,#00e6ff,#00f5ff,#05fffa,#1fe,#16ffe9,#0efff1,#00fcff,#00ecff,#00dfff,#00d2ff,#00bfff,#00a2ff,#0084ff,#006cff,#005aff,#0048ff,#002fff,#000eff,#0000ef,#0000d8,#0000c8,#00b,#0000af,#0000a5,#00009c,#000096,#000091,#00008d,#00008a,#000089,#008,#000087,#000087,#000086,#000086,#000086,#000086,#000086)"></i><i style="background:linear-gradient(90deg,#0023ff,#002fff,#0040ff,#0051ff,#0064ff,#0078ff,#008dff,#00a1ff,#00b4ff,#00c6ff,#00d7ff,#00e7ff,#00f6ff,#03fffc,#08fff7,#01fffe,#00f1ff,#00e3ff,#00d8ff,#00cdff,#00bcff,#00a3ff,#0087ff,#0070ff,#005eff,#004bff,#0032ff,#0012ff,#0000f4,#00d,#0000cd,#0000bf,#0000b3,#0000a8,#00009f,#000098,#000092,#00008e,#00008b,#000089,#008,#000087,#000087,#000086,#000086,#000086,#000086,#000086)"></i><i style="background:linear-gradient(90deg,#0020ff,#002aff,#0039ff,#0049ff,#005aff,#006dff,#0081ff,#0094ff,#00a7ff,#00b9ff,#00caff,#00d9ff,#00e8ff,#00f4ff,#00f9ff,#00f3ff,#00e6ff,#00daff,#00d1ff,#00c7ff,#00b9ff,#00a2ff,#08f,#0073ff,#0060ff,#004dff,#0034ff,#0015ff,#0000f8,#0000e2,#0000d2,#0000c4,#0000b8,#0000ac,#0000a3,#00009b,#000094,#00008f,#00008b,#000089,#008,#000087,#000087,#000086,#000086,#000086,#000086,#000086)"></i><i style="background:linear-gradient(90deg,#001eff,#0027ff,#0034ff,#0043ff,#0052ff,#0064ff,#07f,#0089ff,#009bff,#00adff,#00bdff,#0cf,#00daff,#00e6ff,#00ebff,#00e6ff,#00dcff,#00d2ff,#00caff,#00c2ff,#00b5ff,#00a0ff,#0089ff,#0074ff,#0062ff,#004eff,#0035ff,#0018ff,#0000fc,#0000e6,#0000d6,#0000c8,#0000bc,#0000b0,#0000a6,#00009e,#000096,#000090,#00008c,#000089,#008,#000087,#000087,#000086,#000086,#000086,#000086,#000086)"></i><i style="background:linear-gradient(90deg,#001dff,#0025ff,#0031ff,#003eff,#004cff,#005dff,#006fff,#0080ff,#0091ff,#00a2ff,#00b2ff,#00c0ff,#00cdff,#00d8ff,#0df,#00daff,#00d2ff,#00cbff,#00c4ff,#00bdff,#00b1ff,#009fff,#0089ff,#0075ff,#0062ff,#004eff,#0036ff,#001aff,#00f,#0000ea,#0000da,#00c,#0000c0,#0000b4,#00a,#0000a1,#000098,#000091,#00008c,#00008a,#000089,#008,#000087,#000086,#000086,#000086,#000086,#000086)"></i><i style="background:linear-gradient(90deg,#001cff,#0024ff,#002fff,#003bff,#0048ff,#0058ff,#0068ff,#0079ff,#0089ff,#09f,#00a8ff,#00b5ff,#00c1ff,#00caff,#00cfff,#00ceff,#00caff,#00c4ff,#00bfff,#00b9ff,#00afff,#009dff,#0089ff,#0075ff,#0063ff,#004fff,#0037ff,#001cff,#0003ff,#00e,#0000de,#0000d0,#0000c4,#0000b8,#0000ad,#0000a4,#00009b,#000093,#00008d,#00008a,#000089,#008,#000087,#000087,#000086,#000086,#000086,#000086)"></i><i style="background:linear-gradient(90deg,#001cff,#0023ff,#002dff,#0039ff,#0046ff,#0054ff,#0063ff,#0073ff,#0082ff,#0091ff,#009fff,#00abff,#00b5ff,#00beff,#00c3ff,#00c4ff,#00c2ff,#00bfff,#0bf,#00b6ff,#00adff,#009dff,#0089ff,#0075ff,#0063ff,#004fff,#0038ff,#001eff,#0005ff,#0000f1,#0000e1,#0000d4,#0000c7,#0000bc,#0000b1,#0000a7,#00009e,#000095,#00008e,#00008b,#000089,#008,#000087,#000087,#000086,#000086,#000086,#000086)"></i><i style="background:linear-gradient(90deg,#001cff,#0023ff,#002dff,#0038ff,#04f,#0051ff,#0060ff,#006eff,#007cff,#008aff,#0097ff,#00a2ff,#00acff,#00b4ff,#00b9ff,#00bcff,#00bdff,#0bf,#00b8ff,#00b4ff,#00acff,#009cff,#0089ff,#0075ff,#0063ff,#004fff,#0038ff,#001fff,#0008ff,#0000f4,#0000e5,#0000d7,#0000cb,#0000c0,#0000b5,#0000ab,#0000a0,#000096,#00008f,#00008c,#00008a,#008,#000087,#000087,#000086,#000086,#000086,#000086)"></i><i style="background:linear-gradient(90deg,#001cff,#0023ff,#002dff,#0038ff,#0043ff,#0050ff,#005dff,#006aff,#07f,#0084ff,#0090ff,#009aff,#00a3ff,#00abff,#00b1ff,#00b6ff,#00b8ff,#00b8ff,#00b6ff,#00b3ff,#00acff,#009cff,#0089ff,#0075ff,#0062ff,#004fff,#0039ff,#0020ff,#000aff,#0000f7,#0000e8,#0000db,#0000cf,#0000c4,#0000b9,#0000ae,#0000a3,#000098,#000090,#00008c,#00008a,#000089,#008,#000087,#000086,#000086,#000086,#000086)"></i><i style="background:linear-gradient(90deg,#001cff,#0024ff,#002eff,#0038ff,#0043ff,#004fff,#005bff,#0067ff,#0073ff,#007fff,#008aff,#0094ff,#009cff,#00a4ff,#00abff,#00b0ff,#00b4ff,#00b4ff,#00b3ff,#00b2ff,#00abff,#009cff,#08f,#0075ff,#0062ff,#004fff,#0039ff,#0021ff,#000cff,#0000f9,#0000eb,#0000de,#0000d2,#0000c7,#0000bc,#0000b1,#0000a5,#00009a,#000092,#00008d,#00008b,#000089,#008,#000087,#000086,#000086,#000086,#000086)"></i><i style="background:linear-gradient(90deg,#001dff,#0024ff,#002eff,#0039ff,#0043ff,#004fff,#005aff,#0065ff,#0070ff,#007bff,#0086ff,#008fff,#0097ff,#009eff,#00a5ff,#00abff,#00afff,#00b1ff,#00b1ff,#00b0ff,#0af,#009cff,#08f,#0075ff,#0062ff,#004eff,#0039ff,#02f,#000dff,#0000fb,#0000ed,#0000e1,#0000d5,#0000ca,#0000bf,#0000b4,#0000a8,#00009c,#000093,#00008e,#00008b,#000089,#008,#000087,#000086,#000086,#000086,#000086)"></i><i style="background:linear-gradient(90deg,#001dff,#0025ff,#002fff,#0039ff,#04f,#004fff,#005aff,#0065ff,#006fff,#0079ff,#0082ff,#008bff,#0093ff,#09f,#00a0ff,#00a6ff,#0af,#00acff,#00acff,#00acff,#00a7ff,#009aff,#0087ff,#0074ff,#0062ff,#004eff,#0039ff,#02f,#000eff,#0000fd,#0000f0,#0000e4,#0000d9,#0000cd,#0000c2,#0000b6,#00a,#00009d,#000094,#00008f,#00008c,#00008a,#008,#000087,#000086,#000086,#000086,#000086)"></i><i style="background:linear-gradient(90deg,#001eff,#0026ff,#0030ff,#003bff,#0045ff,#0050ff,#005aff,#0064ff,#006eff,#07f,#0080ff,#08f,#008fff,#0095ff,#009bff,#00a0ff,#00a4ff,#00a6ff,#00a7ff,#00a7ff,#00a2ff,#0096ff,#0085ff,#0074ff,#0061ff,#004dff,#0038ff,#0023ff,#000fff,#00f,#0000f2,#0000e7,#0000dc,#0000d0,#0000c4,#0000b8,#0000ab,#00009f,#000096,#000090,#00008d,#00008a,#008,#000087,#000087,#000086,#000086,#000086)"></i><i style="background:linear-gradient(90deg,#001fff,#0027ff,#0032ff,#003cff,#0047ff,#0051ff,#005bff,#0064ff,#006eff,#0076ff,#007eff,#0086ff,#008cff,#0092ff,#0097ff,#009bff,#009eff,#00a0ff,#00a1ff,#00a0ff,#009cff,#0092ff,#0083ff,#0073ff,#0061ff,#004dff,#0038ff,#0023ff,#0010ff,#0001ff,#0000f5,#0000ea,#0000de,#0000d2,#0000c6,#0000ba,#0000ad,#0000a1,#000097,#000092,#00008e,#00008b,#000089,#000087,#000087,#000086,#000086,#000086)"></i><i style="background:linear-gradient(90deg,#0020ff,#0029ff,#03f,#003eff,#0049ff,#0052ff,#005cff,#0065ff,#006dff,#0075ff,#007dff,#0084ff,#008aff,#008fff,#0093ff,#0096ff,#09f,#009aff,#009aff,#09f,#0095ff,#008dff,#0081ff,#0072ff,#0060ff,#004cff,#0037ff,#02f,#0010ff,#0003ff,#0000f7,#0000ed,#0000e1,#0000d5,#0000c8,#0000bc,#0000af,#0000a3,#009,#000093,#00008f,#00008c,#000089,#008,#000087,#000086,#000086,#000086)"></i><i style="background:linear-gradient(90deg,#0021ff,#002aff,#0036ff,#0040ff,#004bff,#0054ff,#005cff,#0065ff,#006dff,#0075ff,#007cff,#0082ff,#08f,#008cff,#0090ff,#0092ff,#0094ff,#0094ff,#0094ff,#0092ff,#008eff,#08f,#007eff,#0071ff,#005fff,#004bff,#0036ff,#02f,#01f,#0004ff,#0000f9,#0000ef,#0000e4,#0000d7,#0000ca,#0000be,#0000b1,#0000a4,#00009b,#000094,#000090,#00008c,#00008a,#008,#000087,#000086,#000086,#000086)"></i><i style="background:linear-gradient(90deg,#02f,#002cff,#0038ff,#0043ff,#004dff,#05f,#005dff,#0065ff,#006dff,#0075ff,#007cff,#0082ff,#0087ff,#008bff,#008eff,#0090ff,#0090ff,#0091ff,#0090ff,#008eff,#008aff,#0084ff,#007dff,#0071ff,#005fff,#004aff,#0036ff,#02f,#01f,#0005ff,#0000fa,#0000f1,#0000e6,#0000d9,#00c,#0000bf,#0000b2,#0000a6,#00009c,#000095,#000091,#00008d,#00008a,#008,#000087,#000086,#000086,#000086)"></i><i style="background:linear-gradient(90deg,#0024ff,#002eff,#003aff,#0045ff,#004fff,#0057ff,#005fff,#06f,#006dff,#0075ff,#007cff,#0082ff,#0087ff,#008bff,#008eff,#008fff,#008fff,#008fff,#008eff,#008bff,#0087ff,#0082ff,#007cff,#0071ff,#005fff,#004aff,#0036ff,#02f,#0012ff,#0006ff,#0000fc,#0000f3,#0000e8,#0000db,#0000ce,#0000c1,#0000b4,#0000a7,#00009d,#000097,#000092,#00008d,#00008a,#008,#000087,#000086,#000086,#000086)"></i><i style="background:linear-gradient(90deg,#0025ff,#002fff,#003cff,#0047ff,#0051ff,#0059ff,#0060ff,#0067ff,#006fff,#0076ff,#007dff,#0083ff,#0089ff,#008dff,#008fff,#0090ff,#0090ff,#008fff,#008dff,#008aff,#0086ff,#0082ff,#007cff,#0072ff,#005fff,#004aff,#0036ff,#0023ff,#0013ff,#0007ff,#0000fd,#0000f4,#0000e9,#00d,#0000d0,#0000c3,#0000b5,#0000a9,#00009f,#000098,#000092,#00008e,#00008a,#008,#000087,#000086,#000086,#000086)"></i><i style="background:linear-gradient(90deg,#0026ff,#0031ff,#003dff,#0049ff,#0053ff,#005bff,#0062ff,#006aff,#0071ff,#0079ff,#0080ff,#0086ff,#008bff,#0090ff,#0092ff,#0092ff,#0092ff,#0091ff,#008eff,#008aff,#0086ff,#0082ff,#007dff,#0073ff,#0060ff,#004aff,#0036ff,#0023ff,#0014ff,#0008ff,#0000fe,#0000f5,#0000ea,#0000de,#0000d1,#0000c4,#0000b7,#00a,#0000a0,#000098,#000093,#00008e,#00008b,#008,#000087,#000086,#000086,#000086)"></i><i style="background:linear-gradient(90deg,#0027ff,#0032ff,#003fff,#004bff,#05f,#005eff,#0065ff,#006dff,#0074ff,#007dff,#0084ff,#008aff,#008fff,#0094ff,#0096ff,#0096ff,#0096ff,#0094ff,#0090ff,#008bff,#0087ff,#0084ff,#007fff,#0074ff,#0061ff,#004bff,#0036ff,#0024ff,#0014ff,#0009ff,#00f,#0000f6,#0000ec,#0000e0,#0000d3,#0000c6,#0000b9,#0000ac,#0000a1,#009,#000094,#00008f,#00008b,#008,#000087,#000086,#000086,#000086)"></i><i style="background:linear-gradient(90deg,#0028ff,#03f,#0041ff,#004dff,#0057ff,#0060ff,#0068ff,#0070ff,#0078ff,#0081ff,#08f,#008fff,#0094ff,#0098ff,#009aff,#009bff,#009aff,#0098ff,#0093ff,#008dff,#08f,#0085ff,#0081ff,#0076ff,#0063ff,#004bff,#0036ff,#0024ff,#0015ff,#000aff,#0001ff,#0000f7,#0000ed,#0000e1,#0000d5,#0000c8,#0000ba,#0000ad,#0000a2,#00009a,#000094,#00008f,#00008b,#008,#000087,#000086,#000086,#000086)"></i><i style="background:linear-gradient(90deg,#0029ff,#0034ff,#0042ff,#004eff,#0059ff,#0062ff,#006bff,#0073ff,#007bff,#0084ff,#008cff,#0093ff,#0098ff,#009cff,#009eff,#009fff,#009eff,#009bff,#0095ff,#008eff,#0089ff,#0087ff,#0083ff,#0078ff,#0064ff,#004bff,#0036ff,#0025ff,#0016ff,#000bff,#0002ff,#0000f8,#00e,#0000e2,#0000d6,#0000ca,#0000bc,#0000ae,#0000a3,#00009b,#000095,#000090,#00008b,#000089,#000087,#000086,#000086,#000086)"></i><i style="background:linear-gradient(90deg,#002aff,#0035ff,#0042ff,#004fff,#005aff,#0064ff,#006cff,#0075ff,#007eff,#0087ff,#008fff,#0096ff,#009bff,#009fff,#00a1ff,#00a2ff,#00a1ff,#009dff,#0096ff,#008fff,#008aff,#08f,#0084ff,#0079ff,#0064ff,#004cff,#0036ff,#0025ff,#0017ff,#000cff,#0003ff,#0000f9,#0000ef,#0000e4,#0000d8,#0000cb,#0000bd,#0000af,#0000a4,#00009c,#000095,#000090,#00008c,#000089,#000087,#000086,#000086,#000086)"></i><i style="background:linear-gradient(90deg,#002aff,#0035ff,#0042ff,#004fff,#005aff,#0064ff,#006dff,#0076ff,#007fff,#08f,#0090ff,#0097ff,#009cff,#00a0ff,#00a3ff,#00a3ff,#00a2ff,#009eff,#0096ff,#008fff,#008aff,#08f,#0084ff,#007aff,#0065ff,#004cff,#0037ff,#0026ff,#0018ff,#000dff,#0004ff,#0000fa,#0000f0,#0000e5,#0000da,#0000cd,#0000bf,#0000b1,#0000a5,#00009c,#000096,#000090,#00008c,#000089,#000087,#000087,#000086,#000086)"></i><i style="background:linear-gradient(90deg,#0029ff,#03f,#0041ff,#004eff,#0059ff,#0063ff,#006cff,#0075ff,#007eff,#0087ff,#008fff,#0096ff,#009bff,#00a0ff,#00a2ff,#00a2ff,#00a2ff,#009dff,#0096ff,#008eff,#008aff,#0087ff,#0084ff,#007aff,#0065ff,#004cff,#0037ff,#0026ff,#0018ff,#000eff,#0005ff,#0000fb,#0000f1,#0000e6,#0000db,#0000cf,#0000c1,#0000b2,#0000a6,#00009d,#000096,#000091,#00008c,#000089,#000087,#000087,#000086,#000086)"></i><i style="background:linear-gradient(90deg,#0027ff,#0031ff,#003eff,#004bff,#0056ff,#0060ff,#0069ff,#0072ff,#007bff,#0084ff,#008cff,#0093ff,#0098ff,#009dff,#009fff,#00a0ff,#009fff,#009bff,#0093ff,#008cff,#08f,#0086ff,#0083ff,#0079ff,#0064ff,#004cff,#0037ff,#0027ff,#0019ff,#000fff,#0006ff,#0000fc,#0000f2,#0000e8,#00d,#0000d1,#0000c2,#0000b3,#0000a7,#00009e,#000097,#000091,#00008d,#000089,#008,#000087,#000086,#000086)"></i><i style="background:linear-gradient(90deg,#0023ff,#002dff,#003aff,#0046ff,#0051ff,#005bff,#0065ff,#006eff,#0076ff,#007fff,#0087ff,#008eff,#0094ff,#0098ff,#009bff,#009cff,#009bff,#0097ff,#0090ff,#0089ff,#0085ff,#0083ff,#0081ff,#07f,#0063ff,#004bff,#0037ff,#0028ff,#001aff,#0010ff,#0007ff,#0000fd,#0000f3,#0000ea,#0000df,#0000d2,#0000c4,#0000b5,#0000a8,#00009f,#000098,#000092,#00008d,#00008a,#008,#000087,#000086,#000086)"></i><i style="background:linear-gradient(90deg,#001fff,#0029ff,#0035ff,#0041ff,#004cff,#0056ff,#005fff,#0068ff,#0071ff,#0079ff,#0081ff,#0087ff,#008eff,#0093ff,#0095ff,#0096ff,#0095ff,#0092ff,#008bff,#0085ff,#0082ff,#0080ff,#007eff,#0075ff,#0062ff,#004bff,#0038ff,#0028ff,#001bff,#01f,#0008ff,#0000fe,#0000f5,#0000eb,#0000e1,#0000d4,#0000c6,#0000b6,#0000a9,#00009f,#000098,#000093,#00008e,#00008a,#008,#000087,#000086,#000086)"></i><i style="background:linear-gradient(90deg,#001bff,#0024ff,#002fff,#003bff,#0045ff,#004fff,#0058ff,#0061ff,#006aff,#0072ff,#0079ff,#0080ff,#0086ff,#008cff,#008fff,#0090ff,#008fff,#008cff,#0086ff,#0081ff,#007dff,#007cff,#007aff,#0072ff,#0060ff,#004aff,#0038ff,#0029ff,#001cff,#0012ff,#0009ff,#00f,#0000f6,#0000ec,#0000e2,#0000d6,#0000c7,#0000b7,#00a,#0000a0,#009,#000093,#00008e,#00008b,#000089,#000087,#000086,#000086)"></i><i style="background:linear-gradient(90deg,#0016ff,#001fff,#0029ff,#0034ff,#003eff,#0048ff,#0052ff,#005aff,#0062ff,#006aff,#0071ff,#0078ff,#007fff,#0084ff,#08f,#08f,#08f,#0085ff,#0080ff,#007bff,#0079ff,#0078ff,#07f,#006fff,#005eff,#004aff,#0038ff,#0029ff,#001dff,#0012ff,#0009ff,#0001ff,#0000f7,#00e,#0000e4,#0000d8,#0000c9,#0000b9,#0000ab,#0000a1,#00009a,#000094,#00008f,#00008b,#000089,#008,#000086,#000086)"></i><i style="background:linear-gradient(90deg,#01f,#0019ff,#0023ff,#002eff,#0038ff,#0041ff,#004aff,#0053ff,#005bff,#0062ff,#0069ff,#0070ff,#0076ff,#007cff,#0080ff,#0081ff,#0080ff,#007eff,#007aff,#0076ff,#0074ff,#0073ff,#0073ff,#006cff,#005dff,#0049ff,#0038ff,#002aff,#001dff,#0013ff,#000aff,#0001ff,#0000f7,#0000ef,#0000e5,#0000d9,#0000ca,#0000ba,#0000ac,#0000a2,#00009b,#000095,#000090,#00008c,#00008a,#008,#000087,#000086)"></i><i style="background:linear-gradient(90deg,#000cff,#0013ff,#001dff,#0027ff,#0030ff,#003aff,#0043ff,#004bff,#0053ff,#005aff,#0060ff,#0067ff,#006dff,#0073ff,#07f,#0078ff,#0078ff,#0076ff,#0073ff,#006fff,#006eff,#006eff,#006eff,#0069ff,#005aff,#0048ff,#0038ff,#002aff,#001dff,#0013ff,#000aff,#0001ff,#0000f8,#0000ef,#0000e6,#0000da,#00c,#0000bc,#0000ae,#0000a4,#00009c,#000096,#000091,#00008d,#00008a,#008,#000087,#000086)"></i><i style="background:linear-gradient(90deg,#0006ff,#000eff,#0017ff,#0020ff,#0029ff,#0032ff,#003bff,#0043ff,#004aff,#0051ff,#0057ff,#005dff,#0064ff,#006aff,#006dff,#006fff,#006fff,#006eff,#006bff,#0068ff,#0067ff,#0069ff,#0069ff,#0065ff,#0057ff,#0046ff,#0037ff,#0029ff,#001dff,#0013ff,#000aff,#0001ff,#0000f8,#0000f0,#0000e7,#0000dc,#0000cd,#0000bd,#0000af,#0000a5,#00009e,#000097,#000092,#00008e,#00008b,#008,#000087,#000086)"></i><i style="background:linear-gradient(90deg,#0001ff,#0007ff,#0010ff,#0019ff,#02f,#002aff,#0032ff,#003aff,#0041ff,#0047ff,#004dff,#0053ff,#0059ff,#005fff,#0063ff,#0065ff,#0065ff,#0064ff,#0062ff,#0060ff,#0060ff,#0062ff,#0064ff,#0060ff,#0054ff,#04f,#0036ff,#0029ff,#001dff,#0013ff,#000aff,#0001ff,#0000f8,#0000f1,#0000e8,#00d,#0000cf,#0000bf,#0000b1,#0000a7,#00009f,#000098,#000093,#00008f,#00008b,#000089,#000087,#000086)"></i><i style="background:linear-gradient(90deg,#0000fa,#0001ff,#000aff,#0012ff,#001aff,#02f,#0029ff,#0030ff,#0037ff,#003dff,#0043ff,#0049ff,#004eff,#0054ff,#0058ff,#005aff,#005bff,#005aff,#0059ff,#0057ff,#0058ff,#005bff,#005eff,#005bff,#0050ff,#0042ff,#0034ff,#0028ff,#001dff,#0013ff,#000aff,#0001ff,#0000f9,#0000f1,#0000e9,#0000de,#0000d0,#0000c1,#0000b3,#0000a9,#0000a1,#00009a,#000094,#00008f,#00008c,#000089,#000087,#000086)"></i><i style="background:linear-gradient(90deg,#0000f4,#0000fa,#0003ff,#000bff,#0012ff,#001aff,#0020ff,#0027ff,#002dff,#03f,#0039ff,#003eff,#04f,#0048ff,#004cff,#004fff,#0051ff,#0050ff,#004fff,#004eff,#0050ff,#0054ff,#0058ff,#0056ff,#004cff,#003fff,#03f,#0027ff,#001dff,#0013ff,#000aff,#0001ff,#0000f9,#0000f1,#0000e9,#0000df,#0000d2,#0000c3,#0000b5,#0000ab,#0000a2,#00009b,#000095,#000090,#00008d,#00008a,#000087,#000086)"></i><i style="background:linear-gradient(90deg,#0000ef,#0000f5,#0000fc,#0004ff,#000bff,#0012ff,#0018ff,#001eff,#0024ff,#002aff,#002fff,#0034ff,#0039ff,#003eff,#0041ff,#04f,#0046ff,#0047ff,#0046ff,#0046ff,#0048ff,#004dff,#0052ff,#0051ff,#0048ff,#003cff,#0031ff,#0026ff,#001cff,#0013ff,#000aff,#0001ff,#0000f9,#0000f2,#0000ea,#0000e0,#0000d3,#0000c4,#0000b7,#0000ac,#0000a4,#00009d,#000097,#000091,#00008d,#00008a,#008,#000086)"></i><i style="background:linear-gradient(90deg,#0000ea,#0000ef,#0000f6,#0000fd,#0005ff,#000bff,#01f,#0016ff,#001cff,#0021ff,#0026ff,#002bff,#0030ff,#0034ff,#0037ff,#003bff,#003dff,#003eff,#003dff,#003eff,#0040ff,#0046ff,#004cff,#004bff,#0043ff,#0039ff,#002fff,#0025ff,#001cff,#0013ff,#000aff,#0001ff,#0000f9,#0000f2,#0000ea,#0000e0,#0000d4,#0000c5,#0000b8,#0000ae,#0000a6,#00009e,#000098,#000093,#00008e,#00008b,#008,#000086)"></i><i style="background:linear-gradient(90deg,#0000e6,#0000eb,#0000f1,#0000f8,#0000fe,#0004ff,#000aff,#000fff,#0014ff,#0019ff,#001eff,#0023ff,#0027ff,#002bff,#002eff,#0031ff,#0034ff,#0035ff,#0035ff,#0036ff,#0039ff,#003fff,#0045ff,#0045ff,#003fff,#0036ff,#002dff,#0024ff,#001bff,#0013ff,#000aff,#0001ff,#0000f9,#0000f2,#0000ea,#0000e1,#0000d4,#0000c6,#0000b9,#0000af,#0000a7,#00009f,#009,#000094,#00008f,#00008b,#000089,#000087)"></i><i style="background:linear-gradient(90deg,#0000e2,#0000e7,#0000ed,#0000f3,#0000f8,#0000fd,#0003ff,#0008ff,#000dff,#0012ff,#0017ff,#001bff,#001fff,#02f,#0026ff,#0029ff,#002cff,#002dff,#002eff,#002fff,#0032ff,#0039ff,#003fff,#003fff,#003aff,#0032ff,#002aff,#02f,#001aff,#0012ff,#0009ff,#0001ff,#0000f8,#0000f2,#0000ea,#0000e1,#0000d5,#0000c7,#00b,#0000b0,#0000a8,#0000a1,#00009a,#000095,#000090,#00008c,#000089,#000087)"></i><i style="background:linear-gradient(90deg,#0000df,#0000e3,#0000e9,#00e,#0000f3,#0000f8,#0000fd,#0002ff,#0007ff,#000cff,#0010ff,#0014ff,#0018ff,#001bff,#001eff,#0021ff,#0024ff,#0026ff,#0027ff,#0028ff,#002bff,#0032ff,#0038ff,#0039ff,#0034ff,#002eff,#0027ff,#0020ff,#0019ff,#01f,#0008ff,#00f,#0000f8,#0000f1,#0000ea,#0000e1,#0000d5,#0000c8,#00b,#0000b1,#0000a9,#0000a2,#00009b,#000096,#000091,#00008d,#00008a,#008)"></i><i style="background:linear-gradient(90deg,#0000dc,#0000e0,#0000e5,#0000ea,#00e,#0000f3,#0000f7,#0000fc,#0001ff,#0006ff,#000aff,#000eff,#01f,#0014ff,#0016ff,#001aff,#001dff,#001fff,#0021ff,#02f,#0025ff,#002bff,#0031ff,#0032ff,#002fff,#002aff,#0024ff,#001eff,#0017ff,#000fff,#0007ff,#0000fe,#0000f7,#0000f1,#0000ea,#0000e1,#0000d6,#0000c9,#0000bc,#0000b2,#00a,#0000a3,#00009d,#000097,#000092,#00008e,#00008a,#008)"></i><i style="background:linear-gradient(90deg,#0000d9,#00d,#0000e1,#0000e6,#0000ea,#00e,#0000f3,#0000f7,#0000fb,#00f,#0004ff,#0008ff,#000bff,#000dff,#0010ff,#0013ff,#0016ff,#0019ff,#001bff,#001cff,#001fff,#0025ff,#002aff,#002cff,#0029ff,#0026ff,#0021ff,#001cff,#0015ff,#000eff,#0006ff,#0000fd,#0000f7,#0000f0,#0000ea,#0000e1,#0000d6,#0000c9,#0000bd,#0000b3,#0000ab,#0000a4,#00009e,#000098,#000093,#00008f,#00008b,#000089)"></i><i style="background:linear-gradient(90deg,#0000d7,#0000da,#0000de,#0000e2,#0000e7,#0000eb,#0000ef,#0000f3,#0000f7,#0000fb,#00f,#0003ff,#0005ff,#0008ff,#000aff,#000dff,#0010ff,#0014ff,#0016ff,#0017ff,#0019ff,#001fff,#0024ff,#0026ff,#0024ff,#02f,#001eff,#0019ff,#0013ff,#000cff,#0004ff,#0000fc,#0000f6,#0000f0,#0000ea,#0000e1,#0000d6,#0000ca,#0000be,#0000b4,#0000ac,#0000a5,#00009f,#009,#000094,#000090,#00008c,#000089)"></i><i style="background:linear-gradient(90deg,#0000d5,#0000d8,#0000dc,#0000e0,#0000e4,#0000e8,#0000ec,#0000f0,#0000f4,#0000f8,#0000fb,#0000fe,#0002ff,#0004ff,#0006ff,#0009ff,#000cff,#0010ff,#0012ff,#0013ff,#0015ff,#001bff,#0020ff,#0021ff,#0021ff,#001fff,#001cff,#0017ff,#01f,#000bff,#0003ff,#0000fb,#0000f5,#0000f0,#0000ea,#0000e1,#0000d6,#0000ca,#0000be,#0000b5,#0000ad,#0000a6,#00009f,#00009a,#000095,#000090,#00008c,#00008a)"></i><i style="background:linear-gradient(90deg,#0000d5,#0000d8,#0000dc,#0000e0,#0000e4,#0000e8,#0000ec,#0000f0,#0000f4,#0000f8,#0000fb,#0000fe,#0002ff,#0004ff,#0006ff,#0009ff,#000cff,#0010ff,#0012ff,#0013ff,#0015ff,#001bff,#0020ff,#0021ff,#0021ff,#001fff,#001cff,#0017ff,#01f,#000bff,#0003ff,#0000fb,#0000f5,#0000f0,#0000ea,#0000e1,#0000d6,#0000ca,#0000be,#0000b5,#0000ad,#0000a6,#00009f,#00009a,#000095,#000090,#00008c,#00008a)"></i><i style="background:linear-gradient(90deg,#0000d5,#0000d8,#0000dc,#0000e0,#0000e4,#0000e8,#0000ec,#0000f0,#0000f4,#0000f8,#0000fb,#0000fe,#0002ff,#0004ff,#0006ff,#0009ff,#000cff,#0010ff,#0012ff,#0013ff,#0015ff,#001bff,#0020ff,#0021ff,#0021ff,#001fff,#001cff,#0017ff,#01f,#000bff,#0003ff,#0000fb,#0000f5,#0000f0,#0000ea,#0000e1,#0000d6,#0000ca,#0000be,#0000b5,#0000ad,#0000a6,#00009f,#00009a,#000095,#000090,#00008c,#00008a)"></i><i style="background:linear-gradient(90deg,#0000d5,#0000d8,#0000dc,#0000e0,#0000e4,#0000e8,#0000ec,#0000f0,#0000f4,#0000f8,#0000fb,#0000fe,#0002ff,#0004ff,#0006ff,#0009ff,#000cff,#0010ff,#0012ff,#0013ff,#0015ff,#001bff,#0020ff,#0021ff,#0021ff,#001fff,#001cff,#0017ff,#01f,#000bff,#0003ff,#0000fb,#0000f5,#0000f0,#0000ea,#0000e1,#0000d6,#0000ca,#0000be,#0000b5,#0000ad,#0000a6,#00009f,#00009a,#000095,#000090,#00008c,#00008a)"></i></div></div>
<div style="position:absolute;left:726.3px;top:22.3px;width:11.8px;height:256.5px;background:linear-gradient(180deg,#800000 0%,#f00 12.5%,#ff0 37.5%,#0ff 62.5%,#00f 87.5%,#00008f 100%)"></div>
<div style="position:absolute;left:726.3px;top:339.4px;width:11.8px;height:256.5px;background:linear-gradient(180deg,#800000 0%,#f00 12.5%,#ff0 37.5%,#0ff 62.5%,#00f 87.5%,#00008f 100%)"></div>
<svg width="760" height="637" viewBox="0 0 760 637"><defs><filter id="vb" x="0" y="0" width="1" height="1" color-interpolation-filters="sRGB"><feGaussianBlur stdDeviation="0 1.3"/></filter></defs>
<line x1="99.1" x2="99.1" y1="101.2" y2="199.3" stroke="#ff0cf2" stroke-width="1.45"/>
<line x1="153.7" x2="153.7" y1="75.6" y2="267.4" stroke="#ff0cf2" stroke-width="1.45"/>
<line x1="208.5" x2="208.5" y1="22.3" y2="114.4" stroke="#ff0cf2" stroke-width="1.45"/>
<line x1="208.5" x2="208.5" y1="178.3" y2="278.8" stroke="#ff0cf2" stroke-width="1.45"/>
<line x1="263.5" x2="263.5" y1="22.3" y2="75.9" stroke="#ff0cf2" stroke-width="1.45"/>
<line x1="263.5" x2="263.5" y1="255.3" y2="278.8" stroke="#ff0cf2" stroke-width="1.45"/>
<line x1="318.7" x2="318.7" y1="22.3" y2="41.8" stroke="#ff0cf2" stroke-width="1.45"/>
<line x1="318.7" x2="318.7" y1="272.1" y2="278.8" stroke="#ff0cf2" stroke-width="1.45"/>
<path d="M97.4 278.8v-5M97.4 22.3v5M140.9 278.8v-5M140.9 22.3v5M225.5 278.8v-5M225.5 22.3v5M275.0 278.8v-5M275.0 22.3v5M310.2 278.8v-5M310.2 22.3v5M56.3 264.6h3.5M337.4 264.6h-3.5M56.3 250.3h3.5M337.4 250.3h-3.5M56.3 236.1h6.0M337.4 236.1h-6.0M56.3 221.8h3.5M337.4 221.8h-3.5M56.3 207.6h3.5M337.4 207.6h-3.5M56.3 193.3h6.0M337.4 193.3h-6.0M56.3 179.1h3.5M337.4 179.1h-3.5M56.3 164.8h3.5M337.4 164.8h-3.5M56.3 150.6h6.0M337.4 150.6h-6.0M56.3 136.3h3.5M337.4 136.3h-3.5M56.3 122.0h3.5M337.4 122.0h-3.5M56.3 107.8h6.0M337.4 107.8h-6.0M56.3 93.5h3.5M337.4 93.5h-3.5M56.3 79.3h3.5M337.4 79.3h-3.5M56.3 65.0h6.0M337.4 65.0h-6.0M56.3 50.8h3.5M337.4 50.8h-3.5M56.3 36.5h3.5M337.4 36.5h-3.5" stroke="#000" stroke-width=".8" fill="none" opacity=".6"/>
<rect x="56.3" y="22.3" width="281.1" height="256.5" fill="none" stroke="#000" stroke-width=".6" opacity=".45"/>
<text x="56.3" y="299.3" text-anchor="middle">0.5</text>
<text x="97.4" y="299.3" text-anchor="middle">0.7</text>
<text x="140.9" y="299.3" text-anchor="middle">1.0</text>
<text x="225.5" y="299.3" text-anchor="middle">2.0</text>
<text x="275.0" y="299.3" text-anchor="middle">3.0</text>
<text x="310.2" y="299.3" text-anchor="middle">4.0</text>
<text x="337.4" y="299.3" text-anchor="middle">5.0</text>
<text x="51.8" y="278.9" text-anchor="end">−90</text>
<text x="51.8" y="241.8" text-anchor="end">−60</text>
<text x="51.8" y="199.0" text-anchor="end">−30</text>
<text x="51.8" y="156.2" text-anchor="end">0</text>
<text x="51.8" y="113.5" text-anchor="end">30</text>
<text x="51.8" y="70.8" text-anchor="end">60</text>
<text x="51.8" y="32.2" text-anchor="end">90</text>
<text x="196.9" y="14.6" text-anchor="middle" style="font-size:20px">2000−2007</text>
<text transform="translate(12.2 151.9) rotate(-90)" text-anchor="middle">Heliographic Latitude [deg]</text>
<line x1="442.1" x2="442.1" y1="114.5" y2="182.2" stroke="#ff0cf2" stroke-width="1.45"/>
<line x1="496.7" x2="496.7" y1="89.1" y2="211.8" stroke="#ff0cf2" stroke-width="1.45"/>
<line x1="551.5" x2="551.5" y1="22.3" y2="118.6" stroke="#ff0cf2" stroke-width="1.45"/>
<line x1="551.5" x2="551.5" y1="169.8" y2="278.8" stroke="#ff0cf2" stroke-width="1.45"/>
<line x1="606.5" x2="606.5" y1="22.3" y2="80.0" stroke="#ff0cf2" stroke-width="1.45"/>
<line x1="606.5" x2="606.5" y1="220.8" y2="278.8" stroke="#ff0cf2" stroke-width="1.45"/>
<line x1="661.7" x2="661.7" y1="22.3" y2="50.1" stroke="#ff0cf2" stroke-width="1.45"/>
<line x1="661.7" x2="661.7" y1="268.0" y2="278.8" stroke="#ff0cf2" stroke-width="1.45"/>
<path d="M440.4 278.8v-5M440.4 22.3v5M483.9 278.8v-5M483.9 22.3v5M568.5 278.8v-5M568.5 22.3v5M618.0 278.8v-5M618.0 22.3v5M653.2 278.8v-5M653.2 22.3v5M399.3 264.6h3.5M680.4 264.6h-3.5M399.3 250.3h3.5M680.4 250.3h-3.5M399.3 236.1h6.0M680.4 236.1h-6.0M399.3 221.8h3.5M680.4 221.8h-3.5M399.3 207.6h3.5M680.4 207.6h-3.5M399.3 193.3h6.0M680.4 193.3h-6.0M399.3 179.1h3.5M680.4 179.1h-3.5M399.3 164.8h3.5M680.4 164.8h-3.5M399.3 150.6h6.0M680.4 150.6h-6.0M399.3 136.3h3.5M680.4 136.3h-3.5M399.3 122.0h3.5M680.4 122.0h-3.5M399.3 107.8h6.0M680.4 107.8h-6.0M399.3 93.5h3.5M680.4 93.5h-3.5M399.3 79.3h3.5M680.4 79.3h-3.5M399.3 65.0h6.0M680.4 65.0h-6.0M399.3 50.8h3.5M680.4 50.8h-3.5M399.3 36.5h3.5M680.4 36.5h-3.5" stroke="#000" stroke-width=".8" fill="none" opacity=".6"/>
<rect x="399.3" y="22.3" width="281.1" height="256.5" fill="none" stroke="#000" stroke-width=".6" opacity=".45"/>
<text x="399.3" y="299.3" text-anchor="middle">0.5</text>
<text x="440.4" y="299.3" text-anchor="middle">0.7</text>
<text x="483.9" y="299.3" text-anchor="middle">1.0</text>
<text x="568.5" y="299.3" text-anchor="middle">2.0</text>
<text x="618.0" y="299.3" text-anchor="middle">3.0</text>
<text x="653.2" y="299.3" text-anchor="middle">4.0</text>
<text x="680.4" y="299.3" text-anchor="middle">5.0</text>
<text x="394.8" y="278.9" text-anchor="end">−90</text>
<text x="394.8" y="241.8" text-anchor="end">−60</text>
<text x="394.8" y="199.0" text-anchor="end">−30</text>
<text x="394.8" y="156.2" text-anchor="end">0</text>
<text x="394.8" y="113.5" text-anchor="end">30</text>
<text x="394.8" y="70.8" text-anchor="end">60</text>
<text x="394.8" y="32.2" text-anchor="end">90</text>
<text x="539.9" y="14.6" text-anchor="middle" style="font-size:20px">2003−2009</text>
<line x1="99.1" x2="99.1" y1="435.7" y2="495.3" stroke="#ff0cf2" stroke-width="1.45"/>
<line x1="153.7" x2="153.7" y1="414.4" y2="520.7" stroke="#ff0cf2" stroke-width="1.45"/>
<line x1="208.5" x2="208.5" y1="339.4" y2="435.2" stroke="#ff0cf2" stroke-width="1.45"/>
<line x1="208.5" x2="208.5" y1="491.3" y2="595.9" stroke="#ff0cf2" stroke-width="1.45"/>
<line x1="263.5" x2="263.5" y1="339.4" y2="405.4" stroke="#ff0cf2" stroke-width="1.45"/>
<line x1="263.5" x2="263.5" y1="525.2" y2="595.9" stroke="#ff0cf2" stroke-width="1.45"/>
<line x1="318.7" x2="318.7" y1="339.4" y2="366.9" stroke="#ff0cf2" stroke-width="1.45"/>
<line x1="318.7" x2="318.7" y1="584.9" y2="595.9" stroke="#ff0cf2" stroke-width="1.45"/>
<path d="M97.4 595.9v-5M97.4 339.4v5M140.9 595.9v-5M140.9 339.4v5M225.5 595.9v-5M225.5 339.4v5M275.0 595.9v-5M275.0 339.4v5M310.2 595.9v-5M310.2 339.4v5M56.3 581.6h3.5M337.4 581.6h-3.5M56.3 567.4h3.5M337.4 567.4h-3.5M56.3 553.1h6.0M337.4 553.1h-6.0M56.3 538.9h3.5M337.4 538.9h-3.5M56.3 524.6h3.5M337.4 524.6h-3.5M56.3 510.4h6.0M337.4 510.4h-6.0M56.3 496.1h3.5M337.4 496.1h-3.5M56.3 481.9h3.5M337.4 481.9h-3.5M56.3 467.6h6.0M337.4 467.6h-6.0M56.3 453.4h3.5M337.4 453.4h-3.5M56.3 439.1h3.5M337.4 439.1h-3.5M56.3 424.9h6.0M337.4 424.9h-6.0M56.3 410.6h3.5M337.4 410.6h-3.5M56.3 396.4h3.5M337.4 396.4h-3.5M56.3 382.1h6.0M337.4 382.1h-6.0M56.3 367.9h3.5M337.4 367.9h-3.5M56.3 353.6h3.5M337.4 353.6h-3.5" stroke="#000" stroke-width=".8" fill="none" opacity=".6"/>
<rect x="56.3" y="339.4" width="281.1" height="256.5" fill="none" stroke="#000" stroke-width=".6" opacity=".45"/>
<text x="56.3" y="616.4" text-anchor="middle">0.5</text>
<text x="97.4" y="616.4" text-anchor="middle">0.7</text>
<text x="140.9" y="616.4" text-anchor="middle">1.0</text>
<text x="225.5" y="616.4" text-anchor="middle">2.0</text>
<text x="275.0" y="616.4" text-anchor="middle">3.0</text>
<text x="310.2" y="616.4" text-anchor="middle">4.0</text>
<text x="337.4" y="616.4" text-anchor="middle">5.0</text>
<text x="51.8" y="596.0" text-anchor="end">−90</text>
<text x="51.8" y="558.9" text-anchor="end">−60</text>
<text x="51.8" y="516.1" text-anchor="end">−30</text>
<text x="51.8" y="473.3" text-anchor="end">0</text>
<text x="51.8" y="430.6" text-anchor="end">30</text>
<text x="51.8" y="387.8" text-anchor="end">60</text>
<text x="51.8" y="349.3" text-anchor="end">90</text>
<text x="196.9" y="331.7" text-anchor="middle" style="font-size:20px">2005−2011</text>
<text transform="translate(12.2 468.9) rotate(-90)" text-anchor="middle">Heliographic Latitude [deg]</text>
<text x="196.9" y="633.3" text-anchor="middle">Energy [keV]</text>
<line x1="442.1" x2="442.1" y1="431.3" y2="495.3" stroke="#ff0cf2" stroke-width="1.45"/>
<line x1="496.7" x2="496.7" y1="376.0" y2="567.5" stroke="#ff0cf2" stroke-width="1.45"/>
<line x1="551.5" x2="551.5" y1="339.4" y2="435.2" stroke="#ff0cf2" stroke-width="1.45"/>
<line x1="551.5" x2="551.5" y1="482.8" y2="595.9" stroke="#ff0cf2" stroke-width="1.45"/>
<line x1="606.5" x2="606.5" y1="339.4" y2="379.9" stroke="#ff0cf2" stroke-width="1.45"/>
<line x1="606.5" x2="606.5" y1="521.2" y2="595.9" stroke="#ff0cf2" stroke-width="1.45"/>
<line x1="661.7" x2="661.7" y1="584.9" y2="595.9" stroke="#ff0cf2" stroke-width="1.45"/>
<path d="M440.4 595.9v-5M440.4 339.4v5M483.9 595.9v-5M483.9 339.4v5M568.5 595.9v-5M568.5 339.4v5M618.0 595.9v-5M618.0 339.4v5M653.2 595.9v-5M653.2 339.4v5M399.3 581.6h3.5M680.4 581.6h-3.5M399.3 567.4h3.5M680.4 567.4h-3.5M399.3 553.1h6.0M680.4 553.1h-6.0M399.3 538.9h3.5M680.4 538.9h-3.5M399.3 524.6h3.5M680.4 524.6h-3.5M399.3 510.4h6.0M680.4 510.4h-6.0M399.3 496.1h3.5M680.4 496.1h-3.5M399.3 481.9h3.5M680.4 481.9h-3.5M399.3 467.6h6.0M680.4 467.6h-6.0M399.3 453.4h3.5M680.4 453.4h-3.5M399.3 439.1h3.5M680.4 439.1h-3.5M399.3 424.9h6.0M680.4 424.9h-6.0M399.3 410.6h3.5M680.4 410.6h-3.5M399.3 396.4h3.5M680.4 396.4h-3.5M399.3 382.1h6.0M680.4 382.1h-6.0M399.3 367.9h3.5M680.4 367.9h-3.5M399.3 353.6h3.5M680.4 353.6h-3.5" stroke="#000" stroke-width=".8" fill="none" opacity=".6"/>
<rect x="399.3" y="339.4" width="281.1" height="256.5" fill="none" stroke="#000" stroke-width=".6" opacity=".45"/>
<text x="399.3" y="616.4" text-anchor="middle">0.5</text>
<text x="440.4" y="616.4" text-anchor="middle">0.7</text>
<text x="483.9" y="616.4" text-anchor="middle">1.0</text>
<text x="568.5" y="616.4" text-anchor="middle">2.0</text>
<text x="618.0" y="616.4" text-anchor="middle">3.0</text>
<text x="653.2" y="616.4" text-anchor="middle">4.0</text>
<text x="680.4" y="616.4" text-anchor="middle">5.0</text>
<text x="394.8" y="596.0" text-anchor="end">−90</text>
<text x="394.8" y="558.9" text-anchor="end">−60</text>
<text x="394.8" y="516.1" text-anchor="end">−30</text>
<text x="394.8" y="473.3" text-anchor="end">0</text>
<text x="394.8" y="430.6" text-anchor="end">30</text>
<text x="394.8" y="387.8" text-anchor="end">60</text>
<text x="394.8" y="349.3" text-anchor="end">90</text>
<text x="539.9" y="331.7" text-anchor="middle" style="font-size:20px">2007−2013</text>
<text x="539.9" y="633.3" text-anchor="middle">Energy [keV]</text>
<path d="M726.3 246.7h2.0M726.3 214.7h3.5M726.3 182.6h2.0M726.3 150.6h3.5M726.3 118.5h2.0M726.3 86.4h3.5M726.3 54.4h2.0" stroke="#000" stroke-width=".8" fill="none" opacity=".6"/>
<text x="722.3" y="278.9" text-anchor="end">0</text>
<text x="722.3" y="220.4" text-anchor="end">2</text>
<text x="722.3" y="156.2" text-anchor="end">4</text>
<text x="722.3" y="92.1" text-anchor="end">6</text>
<text x="722.3" y="32.2" text-anchor="end">8</text>
<text transform="translate(756 245.8) rotate(-90)"><tspan style="font-family:'Liberation Serif','Times New Roman',serif;font-weight:bold;font-style:italic;font-size:17.5px">I</tspan><tspan dy="2.4" style="font-size:11px;letter-spacing:-.55px">NSW,TS</tspan><tspan dy="-2.4"> [10</tspan><tspan dy="-6" style="font-size:11px">3</tspan><tspan dy="6"> cm</tspan><tspan dy="-6" style="font-size:11px">−2</tspan><tspan dy="6"> s</tspan><tspan dy="-6" style="font-size:11px">−1</tspan><tspan dy="6"> keV</tspan><tspan dy="-6" style="font-size:11px">−1</tspan><tspan dy="6">]</tspan></text>
<path d="M726.3 563.8h2.0M726.3 531.8h3.5M726.3 499.7h2.0M726.3 467.6h3.5M726.3 435.6h2.0M726.3 403.5h3.5M726.3 371.5h2.0" stroke="#000" stroke-width=".8" fill="none" opacity=".6"/>
<text x="722.3" y="596.0" text-anchor="end">0</text>
<text x="722.3" y="537.5" text-anchor="end">2</text>
<text x="722.3" y="473.3" text-anchor="end">4</text>
<text x="722.3" y="409.2" text-anchor="end">6</text>
<text x="722.3" y="349.3" text-anchor="end">8</text>
<text transform="translate(756 562.9) rotate(-90)"><tspan style="font-family:'Liberation Serif','Times New Roman',serif;font-weight:bold;font-style:italic;font-size:17.5px">I</tspan><tspan dy="2.4" style="font-size:11px;letter-spacing:-.55px">NSW,TS</tspan><tspan dy="-2.4"> [10</tspan><tspan dy="-6" style="font-size:11px">3</tspan><tspan dy="6"> cm</tspan><tspan dy="-6" style="font-size:11px">−2</tspan><tspan dy="6"> s</tspan><tspan dy="-6" style="font-size:11px">−1</tspan><tspan dy="6"> keV</tspan><tspan dy="-6" style="font-size:11px">−1</tspan><tspan dy="6">]</tspan></text>
</svg>
</body></html>
